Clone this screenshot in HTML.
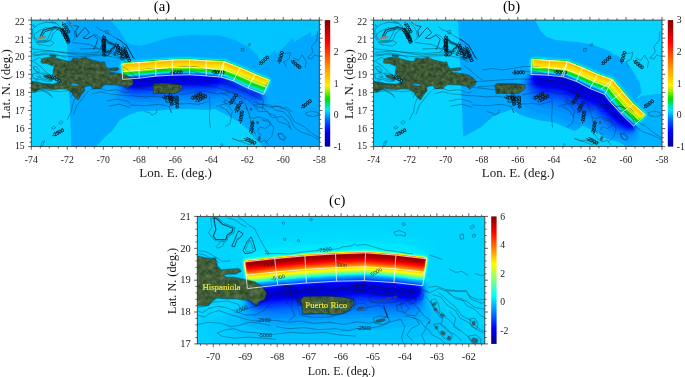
<!DOCTYPE html>
<html><head><meta charset="utf-8"><title>Figure</title><style>html,body{margin:0;padding:0;background:#fff}svg{display:block}</style></head><body>
<svg width="685" height="377" viewBox="0 0 685 377" style="display:block">
<defs>
<linearGradient id="jet" x1="0" y1="1" x2="0" y2="0">
<stop offset="0.0000" stop-color="#000080"/>
<stop offset="0.0156" stop-color="#00008f"/>
<stop offset="0.0312" stop-color="#00009f"/>
<stop offset="0.0469" stop-color="#0000af"/>
<stop offset="0.0625" stop-color="#0000bf"/>
<stop offset="0.0781" stop-color="#0000cf"/>
<stop offset="0.0938" stop-color="#0000df"/>
<stop offset="0.1094" stop-color="#0000ef"/>
<stop offset="0.1250" stop-color="#0000ff"/>
<stop offset="0.1406" stop-color="#0010ff"/>
<stop offset="0.1562" stop-color="#0020ff"/>
<stop offset="0.1719" stop-color="#0030ff"/>
<stop offset="0.1875" stop-color="#0040ff"/>
<stop offset="0.2031" stop-color="#0050ff"/>
<stop offset="0.2188" stop-color="#0060ff"/>
<stop offset="0.2344" stop-color="#0070ff"/>
<stop offset="0.2500" stop-color="#0080ff"/>
<stop offset="0.2656" stop-color="#008fff"/>
<stop offset="0.2812" stop-color="#009fff"/>
<stop offset="0.2969" stop-color="#00afff"/>
<stop offset="0.3125" stop-color="#00bfff"/>
<stop offset="0.3281" stop-color="#00cfff"/>
<stop offset="0.3438" stop-color="#00dfff"/>
<stop offset="0.3594" stop-color="#00efff"/>
<stop offset="0.3750" stop-color="#00ffff"/>
<stop offset="0.3906" stop-color="#10ffef"/>
<stop offset="0.4062" stop-color="#20ffdf"/>
<stop offset="0.4219" stop-color="#30ffcf"/>
<stop offset="0.4375" stop-color="#40ffbf"/>
<stop offset="0.4531" stop-color="#50ffaf"/>
<stop offset="0.4688" stop-color="#60ff9f"/>
<stop offset="0.4844" stop-color="#70ff8f"/>
<stop offset="0.5000" stop-color="#80ff80"/>
<stop offset="0.5156" stop-color="#8fff70"/>
<stop offset="0.5312" stop-color="#9fff60"/>
<stop offset="0.5469" stop-color="#afff50"/>
<stop offset="0.5625" stop-color="#bfff40"/>
<stop offset="0.5781" stop-color="#cfff30"/>
<stop offset="0.5938" stop-color="#dfff20"/>
<stop offset="0.6094" stop-color="#efff10"/>
<stop offset="0.6250" stop-color="#ffff00"/>
<stop offset="0.6406" stop-color="#ffef00"/>
<stop offset="0.6562" stop-color="#ffdf00"/>
<stop offset="0.6719" stop-color="#ffcf00"/>
<stop offset="0.6875" stop-color="#ffbf00"/>
<stop offset="0.7031" stop-color="#ffaf00"/>
<stop offset="0.7188" stop-color="#ff9f00"/>
<stop offset="0.7344" stop-color="#ff8f00"/>
<stop offset="0.7500" stop-color="#ff8000"/>
<stop offset="0.7656" stop-color="#ff7000"/>
<stop offset="0.7812" stop-color="#ff6000"/>
<stop offset="0.7969" stop-color="#ff5000"/>
<stop offset="0.8125" stop-color="#ff4000"/>
<stop offset="0.8281" stop-color="#ff3000"/>
<stop offset="0.8438" stop-color="#ff2000"/>
<stop offset="0.8594" stop-color="#ff1000"/>
<stop offset="0.8750" stop-color="#ff0000"/>
<stop offset="0.8906" stop-color="#ef0000"/>
<stop offset="0.9062" stop-color="#df0000"/>
<stop offset="0.9219" stop-color="#cf0000"/>
<stop offset="0.9375" stop-color="#bf0000"/>
<stop offset="0.9531" stop-color="#af0000"/>
<stop offset="0.9688" stop-color="#9f0000"/>
<stop offset="0.9844" stop-color="#8f0000"/>
<stop offset="1.0000" stop-color="#800000"/>
</linearGradient>
<linearGradient id="jetab" x1="0" y1="1" x2="0" y2="0">
<stop offset="0.0000" stop-color="#00008f"/>
<stop offset="0.0156" stop-color="#00009d"/>
<stop offset="0.0312" stop-color="#0000ab"/>
<stop offset="0.0469" stop-color="#0000b9"/>
<stop offset="0.0625" stop-color="#0000c7"/>
<stop offset="0.0781" stop-color="#0000d5"/>
<stop offset="0.0938" stop-color="#0000e3"/>
<stop offset="0.1094" stop-color="#0000f2"/>
<stop offset="0.1250" stop-color="#0003ff"/>
<stop offset="0.1406" stop-color="#0015ff"/>
<stop offset="0.1562" stop-color="#0027ff"/>
<stop offset="0.1719" stop-color="#0039ff"/>
<stop offset="0.1875" stop-color="#004aff"/>
<stop offset="0.2031" stop-color="#005cff"/>
<stop offset="0.2188" stop-color="#0072ff"/>
<stop offset="0.2344" stop-color="#008eff"/>
<stop offset="0.2500" stop-color="#00aaff"/>
<stop offset="0.2656" stop-color="#00c3ff"/>
<stop offset="0.2812" stop-color="#00dbff"/>
<stop offset="0.2969" stop-color="#00e9ee"/>
<stop offset="0.3125" stop-color="#00e4c0"/>
<stop offset="0.3281" stop-color="#00e192"/>
<stop offset="0.3438" stop-color="#00e065"/>
<stop offset="0.3594" stop-color="#00df37"/>
<stop offset="0.3750" stop-color="#00de0a"/>
<stop offset="0.3906" stop-color="#20e100"/>
<stop offset="0.4062" stop-color="#4ae500"/>
<stop offset="0.4219" stop-color="#74e900"/>
<stop offset="0.4375" stop-color="#9eec00"/>
<stop offset="0.4531" stop-color="#c2ee00"/>
<stop offset="0.4688" stop-color="#e0ef00"/>
<stop offset="0.4844" stop-color="#fef000"/>
<stop offset="0.5000" stop-color="#ffe300"/>
<stop offset="0.5156" stop-color="#ffda00"/>
<stop offset="0.5312" stop-color="#ffd000"/>
<stop offset="0.5469" stop-color="#ffc700"/>
<stop offset="0.5625" stop-color="#ffbd00"/>
<stop offset="0.5781" stop-color="#ffb400"/>
<stop offset="0.5938" stop-color="#ffab00"/>
<stop offset="0.6094" stop-color="#ffa100"/>
<stop offset="0.6250" stop-color="#ff9600"/>
<stop offset="0.6406" stop-color="#ff8a00"/>
<stop offset="0.6562" stop-color="#ff7e00"/>
<stop offset="0.6719" stop-color="#ff7300"/>
<stop offset="0.6875" stop-color="#ff6700"/>
<stop offset="0.7031" stop-color="#ff5c00"/>
<stop offset="0.7188" stop-color="#ff5000"/>
<stop offset="0.7344" stop-color="#ff4400"/>
<stop offset="0.7500" stop-color="#ff3900"/>
<stop offset="0.7656" stop-color="#ff2d00"/>
<stop offset="0.7812" stop-color="#ff2200"/>
<stop offset="0.7969" stop-color="#ff1600"/>
<stop offset="0.8125" stop-color="#ff0a00"/>
<stop offset="0.8281" stop-color="#fe0000"/>
<stop offset="0.8438" stop-color="#f20000"/>
<stop offset="0.8594" stop-color="#e70000"/>
<stop offset="0.8750" stop-color="#db0000"/>
<stop offset="0.8906" stop-color="#d00000"/>
<stop offset="0.9062" stop-color="#c50000"/>
<stop offset="0.9219" stop-color="#b90000"/>
<stop offset="0.9375" stop-color="#ae0000"/>
<stop offset="0.9531" stop-color="#a20000"/>
<stop offset="0.9688" stop-color="#970000"/>
<stop offset="0.9844" stop-color="#8b0000"/>
<stop offset="1.0000" stop-color="#800000"/>
</linearGradient>
<filter id="tex" x="0" y="0" width="100%" height="100%" color-interpolation-filters="sRGB"><feTurbulence type="fractalNoise" baseFrequency="0.28" numOctaves="3" seed="7" result="n"/><feColorMatrix in="n" type="matrix" values="0.30 0 0 0 0.09  0.30 0 0 0 0.20  0.22 0 0 0 0.10  0 0 0 0 1" result="c"/><feComposite in="c" in2="SourceAlpha" operator="in"/></filter>
<filter id="tex2" x="0" y="0" width="100%" height="100%" color-interpolation-filters="sRGB"><feTurbulence type="fractalNoise" baseFrequency="0.2" numOctaves="3" seed="11" result="n"/><feColorMatrix in="n" type="matrix" values="0.30 0 0 0 0.11  0.30 0 0 0 0.22  0.22 0 0 0 0.11  0 0 0 0 1" result="c"/><feComposite in="c" in2="SourceAlpha" operator="in"/></filter>
</defs>
<rect width="685" height="377" fill="#fff"/>
<clipPath id="ca"><rect x="31.3" y="20.1" width="288" height="126.5"/></clipPath>
<clipPath id="cb"><rect x="373.6" y="20.1" width="288.4" height="126.5"/></clipPath>
<clipPath id="cc"><rect x="197.3" y="216.4" width="287.5" height="127.5"/></clipPath>
<g clip-path="url(#ca)">
<rect x="31" y="20" width="289" height="127" fill="#06d3ff"/>
<polygon points="66,20 69.3,90 71.4,147 320,147 320,20" fill="#00a9ff"/>
<polygon points="110,20 120,31 127,42.8 133,45 140,45.7 150,43.5 164,39 178,36 193,34.8 207,35.2 220,35.6 235,40 250,48 258,56 261,66 275,50 276,54.5 293,37.7 294,42 311,32 311,37 320,32.6 320,20" fill="#02c4ff"/>
<polygon points="96,147 104,138 112.8,130 120,119.7 130,114.5 141,110.4 151,108.3 161,107.3 180,106.9 200,107 213,108 220,111.4 230,116.6 241,123.8 251,132 258,140.4 263,147" fill="#06d3ff"/>
<path d="M167.3 56l6 -0.4l16 -0.3l17 1.2l19 0.9l16 6.2l14.6 6.5l13.4 5.4l1 0.7l1.5 1.9l0.8 3l-0.6 2l-3.7 7.9l-0.6 2.1l-1.4 0.9l-3 -0.7l-12 -4.8l-18.5 -8.4l-12.5 -5.1l-32 -2.3l-16 0.2l-48 3.8l-3 -0.3l-0.8 -0.3l-0.6 -1l-1.1 -7l-0.2 -4l1 -2l1.7 -1.8l1 -0.6l2 -0.4l11 -0.9z" fill="#00afff"/>
<path d="M182.3 56.1l8 -0.1l15.2 1.1l17.8 0.6l3 0.7l16 6.3l14.4 6.4l12.6 5.1l1.1 0.9l1.5 2l0.3 1l-0.2 2l-4.9 11l-0.8 0.6l-1 0l-4 -1.2l-12 -4.8l-16.4 -7.6l-12.6 -5.2l-32 -2.3l-16 0.3l-48 3.8l-2 -0.1l-1 -0.4l-0.9 -1.1l-0.9 -4l-0.5 -7l1.1 -2l2.2 -1.8l4 -0.6l40 -3.1l6 -0.4z" fill="#00b1ff"/>
<path d="M168.3 57.1l5 -0.5l16 -0.3l9.2 0.8l26.8 1.3l15 5.9l15.2 6.8l13.8 5.5l1.6 1.5l1.1 2l0 1l-2 5l-3.4 7l-1.3 0.5l-4 -1.2l-12 -4.8l-16.3 -7.5l-12.7 -5.2l-32 -2.3l-16 0.3l-48 3.7l-2 -0.1l-0.9 -0.4l-0.7 -1l-0.9 -4l-0.5 -7l0.3 -1l0.7 -0.8l2 -1.5l2 -0.5l4.4 -0.2l6.6 -0.8z" fill="#00b4ff"/>
<path d="M172.3 57l17 -0.5l5.3 0.6l8.7 0.4l6.8 0.6l14.2 0.3l16 6.1l16.9 7.6l11.1 4.3l2.3 1.7l1.2 2l0.1 1l-2.1 5l-2.9 6l-0.6 0.9l-1 0.4l-4 -1l-12 -4.8l-16.2 -7.5l-12.8 -5.3l-32 -2.2l-16 0.2l-48 3.8l-2.7 -0.5l-0.7 -1l-1.1 -5l-0.4 -6l0.4 -1l1.5 -1.6l2 -0.8l8.8 -0.6l4.2 -0.6l8.8 -0.4l4.2 -0.6l9.5 -0.4l4.5 -0.6z" fill="#00baff"/>
<path d="M165.3 58l7 -0.6l18 -0.2l11.7 0.9l23.3 1.2l16 6.3l14.6 6.5l13.4 5.4l1.5 1.6l0.4 1l-0.2 2l-4.2 9l-1.5 1.8l-1 0.1l-2 -0.5l-13 -5.1l-16 -7.4l-10 -4.3l-3 -1l-32 -2.3l-16 0.3l-47 3.7l-2.8 -0.3l-1 -1l-0.9 -3l-0.8 -7l0.1 -1l0.5 -1l1.9 -1.6l11 -1.2z" fill="#00c3ff"/>
<path d="M170.3 58l3 -0.3l16 -0.3l7.3 0.7l17.4 1l10.3 0.3l16 6.1l17.1 7.6l10.9 4.2l2.1 1.8l0.6 1l0 1l-2.1 5l-2 4l-1.3 2l-1.3 0.6l-2 -0.4l-13 -5.1l-16 -7.4l-11 -4.7l-2 -0.6l-31 -2.2l-15 0.2l-50 3.7l-1 -0.1l-1 -0.6l-0.8 -1.4l-0.9 -4l-0.3 -6l1 -1.6l2 -1l7 -0.4l5 -0.6l7.8 -0.4l5.2 -0.6l8.6 -0.4l5.4 -0.7z" fill="#00cdff"/>
<path d="M172.3 58.1l17 -0.5l19.9 1.5l15.1 0.5l16 6.1l14.2 6.4l13.8 5.5l1.9 1.5l0.6 1l0 1l-2.1 5l-2.8 5l-1 1l-1.6 0.2l-13.7 -5.2l-16.3 -7.5l-11 -4.7l-2 -0.6l-32 -2.2l-16 0.3l-47 3.7l-2 -0.2l-1 -0.8l-0.5 -1l-0.9 -4l-0.4 -6l0.8 -1.3l2 -1l14 -1.3z" fill="#00d6ff"/>
<path d="M180.3 58.1l9 -0.3l16.7 1.3l18.3 0.7l15 5.7l17.1 7.6l11.9 4.7l1.7 1.3l0.5 1l0.1 1l-2.7 6l-2.3 4l-1.3 1l-1 0l-3 -0.9l-10.2 -4.1l-16.8 -7.7l-11 -4.7l-2 -0.5l-31 -2.2l-15 0.2l-50 3.7l-1.6 -0.8l-1.2 -3l-0.8 -6l-0.1 -2l0.7 -1l1 -0.7l2 -0.5l42 -3.3z" fill="#00e0ff"/>
<path d="M188.3 58.1l15.7 1l19.3 0.8l2 0.4l14 5.4l16.7 7.4l11.3 4.4l2.5 1.6l0.5 1l0.1 1l-2.7 6l-1.7 3l-0.7 0.9l-1 0.7l-1 0.1l-2.6 -0.7l-10.1 -4l-16.3 -7.5l-12 -5.1l-2 -0.5l-30 -2.1l-4 -0.1l-15 0.4l-46 3.5l-1 0l-1.3 -0.6l-0.6 -1l-0.9 -3l-0.7 -7l1.5 -1.6l1 -0.3l49 -3.9z" fill="#00e9ff"/>
<path d="M165.3 59l7 -0.6l17 -0.2l12.7 0.9l22.3 1.1l14 5.3l17.4 7.6l11.6 4.6l2.3 1.4l0.6 1l0 1l-2.2 5l-2.3 4l-1.4 1.3l-1 0.2l-2 -0.5l-10.1 -4l-16.9 -7.7l-11 -4.7l-3 -0.9l-31 -2.2l-15 0.3l-49 3.6l-2 -0.4l-0.7 -1l-0.7 -2l-1 -7l0.1 -1l0.7 -1l1.6 -0.8z" fill="#00e9ef"/>
<path d="M167.3 59l5 -0.5l17 -0.2l10.7 0.8l24.3 1.1l16 6.2l15 6.7l12 4.7l2.1 1.3l0.6 1l0.1 1l-2.3 5l-1.5 2.7l-1.9 2.3l-1.1 0.2l-4 -1.2l-10 -4l-16 -7.4l-10 -4.2l-3 -0.9l-31 -2.1l-15 0.2l-49 3.7l-1 -0.1l-1 -0.6l-1.5 -3.6l-0.8 -6l0.1 -1l0.8 -1l1.4 -0.7z" fill="#00e7dc"/>
<path d="M168.3 59.1l4 -0.5l17 -0.3l9 0.8l26 1.2l16 6.2l14.8 6.6l11.2 4.4l2.9 1.6l0.7 1l0.1 1l-3.7 7.4l-2 2.3l-1 0.3l-3.3 -1l-10.1 -4l-14.6 -6.7l-14 -5.9l-32 -2.2l-15 0.2l-49 3.7l-1 -0.1l-1 -0.7l-1.4 -3.3l-0.7 -6l0.1 -1l0.8 -1l1.2 -0.6l12 -1.1z" fill="#00e5c8"/>
<path d="M169.3 59.1l4 -0.4l16 -0.3l9 0.8l26 1.2l16 6.2l14.6 6.5l11.4 4.5l2.8 1.5l0.7 1l0 1l-3.5 7l-2 2.4l-1 0.3l-2.6 -0.7l-10.1 -4l-16.3 -7.5l-13 -5.3l-32 -2.2l-15 0.3l-49 3.6l-1 -0.2l-1 -0.7l-1.2 -3l-0.8 -6l0.1 -1l0.9 -1l1 -0.5l12 -1.1z" fill="#00e3b5"/>
<path d="M170.3 59.1l19 -0.6l23.6 1.6l11.4 0.4l16 6.2l14.3 6.4l11.7 4.6l2.6 1.4l0.8 1l0 1l-3.4 6.7l-2 2.4l-1 0.3l-2 -0.5l-9.9 -3.9l-17.1 -7.8l-13 -5.2l-33 -2.2l-17 0.4l-46 3.5l-1 -0.2l-1 -0.9l-1.1 -2.6l-0.8 -6l0.1 -1l0.8 -0.9l1 -0.5l12 -1.1z" fill="#00e29d"/>
<path d="M171.3 59.1l18 -0.5l21.9 1.5l13.1 0.5l16 6.2l14.1 6.3l11.9 4.7l2.5 1.3l0.8 1l0 1l-3.3 6.4l-2 2.3l-1 0.3l-2 -0.5l-11.4 -4.5l-14.6 -6.7l-14 -5.6l-33 -2.1l-16 0.3l-47 3.5l-1 -0.2l-1 -1l-0.9 -2.2l-0.9 -6l0.1 -1l0.7 -0.7l1 -0.6l13 -1.2z" fill="#00e17e"/>
<path d="M172.3 59.1l17 -0.4l20.2 1.4l14.8 0.6l16 6.2l14 6.2l12 4.8l2.3 1.2l0.8 1l0 1l-3.1 6.2l-2 2.1l-1 0.3l-2.4 -0.6l-10 -4l-16.6 -7.5l-13 -5.1l-16 -0.8l-16 -1.2l-15 0.2l-49 3.6l-1 -0.3l-0.8 -0.9l-1 -2l-0.9 -6l0.2 -1l1.5 -1.2l13 -1.2z" fill="#00e060"/>
<path d="M175.3 59.1l14 -0.3l18.5 1.3l16.5 0.7l15 5.8l15 6.6l13 5.3l1.2 0.6l0.8 1l0 1l-3 5.9l-2 2.1l-1 0.2l-1.2 -0.2l-10.2 -4l-16.6 -7.4l-14 -5.5l-16 -0.8l-16 -1.2l-15 0.3l-49 3.6l-1 -0.4l-1 -1.1l-0.9 -2.5l-0.6 -5l0.1 -1l1.3 -1l1.1 -0.3l39 -3z" fill="#00e042"/>
<path d="M178.3 59.1l11 -0.2l17 1.2l18 0.8l15 5.8l15 6.6l13 5.2l1 0.6l0.9 1l0 1l-2.9 5.6l-2 2l-1 0.2l-12.6 -4.8l-15.4 -6.9l-12 -4.8l-2 -0.5l-16 -0.8l-16 -1.1l-16 0.2l-48 3.6l-1 -0.4l-1 -1.2l-0.7 -2.1l-0.7 -5l0.1 -1l1.3 -0.9l1 -0.3l40 -3.1z" fill="#00df23"/>
<path d="M182.3 59.1l7 -0.2l17 1.3l18 0.7l15 5.9l15 6.6l13 5.2l1 0.6l0.8 0.9l0 1l-2.8 5.3l-1 1.2l-1 0.7l-1 0.1l-12 -4.5l-16 -7.1l-12 -4.7l-2 -0.6l-16 -0.7l-16 -1.1l-15 0.2l-49 3.6l-1 -0.4l-1.4 -2l-0.9 -6l0.3 -1.2l1 -0.7l2 -0.3l47 -3.6z" fill="#00de05"/>
<path d="M186.3 59.1l4 0l16 1.2l18 0.7l15 5.9l15 6.6l13 5.2l1.7 1.4l0 1l-2.7 5l-1 1.2l-1 0.6l-1 0.1l-12 -4.7l-16 -7l-13 -5l-17 -0.8l-16 -1.1l-17 0.3l-47 3.5l-1 -0.4l-1.2 -1.7l-1 -6l0.1 -1l1.1 -0.8l2 -0.4l47 -3.5z" fill="#16e000"/>
<path d="M164.3 60l8 -0.6l17 -0.3l17 1.2l18 0.8l15 5.8l15 6.6l13 5.3l1.6 1.3l0 1l-1.6 3.1l-2 2.8l-1 0.5l-1 0l-12 -4.7l-15.4 -6.7l-12.6 -4.9l-2 -0.4l-16 -0.6l-17 -1.1l-16 0.3l-46 3.5l-2 -0.4l-1.1 -1.4l-1 -6l0.1 -1l1 -0.7l3 -0.5z" fill="#31e300"/>
<path d="M165.3 60l7 -0.5l17 -0.3l17 1.2l18 0.8l15 5.8l16.1 7.1l11.9 4.8l1.5 1.2l-0.1 1l-1.4 2.8l-2 2.7l-1 0.5l-1 0l-12 -4.7l-15 -6.6l-13 -4.9l-2 -0.4l-16 -0.6l-16 -1.1l-16 0.2l-47 3.6l-2 -0.4l-0.9 -1.1l-0.3 -1l-0.8 -5.1l0.2 -0.9l1.8 -0.9z" fill="#4ce500"/>
<path d="M166.3 60l6 -0.4l17 -0.3l17 1.2l18 0.8l15 5.8l16 7l12 4.9l1.4 1.1l-0.1 1l-2.3 4.1l-1 1.1l-1 0.4l-1 -0.1l-11.5 -4.5l-15.5 -6.7l-13 -4.9l-2 -0.4l-16 -0.5l-16 -1.1l-16 0.2l-47 3.6l-2 -0.4l-0.7 -0.8l-0.4 -1l-0.8 -5l0.2 -1l1.7 -0.8z" fill="#67e800"/>
<path d="M167.3 60l5 -0.3l17 -0.4l17 1.3l18 0.8l14.8 5.7l16.2 7.1l12 4.9l1.3 1l-0.1 1l-2.2 3.8l-1 1l-1 0.4l-1 -0.1l-10.4 -4.1l-16.6 -7.1l-14 -5.1l-17 -0.6l-16 -1.1l-16 0.3l-47 3.6l-2 -0.4l-1 -1.8l-0.8 -4.8l0.2 -1l1.6 -0.7z" fill="#82ea00"/>
<path d="M168.3 60.1l4 -0.4l17 -0.3l17 1.2l18 0.9l14.6 5.6l16.4 7.2l11.9 4.8l1.3 1l-0.1 1l-2.1 3.4l-1 1l-1 0.4l-1 -0.2l-11.6 -4.6l-14.4 -6.2l-15 -5.3l-17 -0.6l-16 -1l-16 0.2l-48 3.6l-1 -0.4l-0.7 -1.3l-0.9 -5l0.2 -1l0.4 -0.3l2 -0.4z" fill="#9cec00"/>
<path d="M169.3 60l20 -0.5l17 1.2l18 0.8l16 6.3l15 6.6l11.7 4.7l1.4 1l-0.2 1l-1.9 3.1l-1 0.9l-1 0.3l-1 -0.2l-26 -10.8l-15 -5.2l-17 -0.4l-16 -1.1l-16 0.2l-48 3.6l-1 -0.3l-0.5 -1.1l-1 -5l0.2 -1l0.3 -0.2l2 -0.5z" fill="#b3ed00"/>
<path d="M170.3 60l19 -0.4l17 1.2l18 0.8l16 6.3l15 6.6l11.5 4.6l1.4 1l-0.1 1l-1.8 2.7l-1 0.8l-1 0.2l-1 -0.2l-26 -10.7l-15 -5.1l-17 -0.3l-16 -1l-16 0.2l-48 3.6l-1 -0.5l-0.3 -0.7l-1.1 -5l0.4 -1.1l2 -0.5z" fill="#cbee00"/>
<path d="M171.3 60l18 -0.3l17 1.2l18 0.8l16 6.2l15 6.7l11.3 4.5l1.4 1l-0.1 1l-1.6 2.3l-1 0.8l-1 0l-11 -4.2l-15 -6.3l-14 -4.8l-2 -0.5l-17 -0.2l-16 -1l-16 0.2l-47 3.6l-1 0l-1 -0.7l-1.3 -5.2l0.3 -1l2 -0.5z" fill="#e3ef00"/>
<path d="M172.3 60l17 -0.3l10 0.8l25 1.3l16 6.2l14 6.3l12.2 4.8l1.3 1l-0.1 1l-1.4 1.9l-1 0.6l-1 0l-11 -4.3l-15 -6.3l-15 -5l-18 -0.2l-16 -1l-17 0.4l-46 3.4l-1 0l-1 -1l-1.1 -4.5l0.2 -1l1.9 -0.4z" fill="#fbf000"/>
<path d="M173.3 60.1l16 -0.3l9 0.8l26 1.3l16 6.2l14 6.4l11.9 4.6l1.5 1l-0.2 1l-1.2 1.4l-1 0.6l-1 -0.2l-11 -4.3l-15 -6.4l-15 -5.1l-18 0.2l-16 -0.9l-16 0.2l-47 3.7l-1.1 -0.2l-0.9 -1.8l-1 -3.2l0.4 -1l1.6 -0.3z" fill="#ffe700"/>
<path d="M177.3 60.1l12 -0.2l7 0.7l15 0.9l13 0.4l15.7 6.2l14.3 6.5l11.6 4.5l1.6 1l-0.2 0.9l-1 1l-1 0.4l-1.3 -0.3l-10.1 -4l-15.6 -6.7l-15 -5.3l-19 0.3l-15 -0.7l-16 0.3l-47 3.5l-1 -0.3l-1.8 -4.1l0.4 -1l1.4 -0.3l24 -1.9l8 -0.3l6 -0.7z" fill="#ffdd00"/>
<path d="M181.3 60.1l9 -0.1l5 0.6l9 0.4l5 0.5l15 0.5l1 0.6l4.3 1.5l0.7 0.5l1.8 0.5l3.2 1.5l2 0.5l1 0.7l6.1 2.3l0.9 0.7l1.2 0.3l2.8 1.5l4.1 1.5l0.9 0.7l11.3 4.3l1.7 1l-1 1.4l-1 0.1l-1 -0.2l-10 -4l-15 -6.5l-16 -5.8l-18 -0.2l-16 -0.8l-16 0.3l-47 3.5l-1 -0.4l-1 -1.1l-0.6 -1.3l0.6 -1.1l7 -0.3l3.4 -0.6l9.6 -0.5l6 -0.7l7 -0.2l6 -0.7z" fill="#ffd200"/>
<path d="M185.3 60.1l5 0l4 0.6l10 0.4l4 0.6l16 0.4l1 0.7l4 1.3l1 0.7l1.4 0.3l0.6 0.4l2.1 0.6l0.9 0.7l4.1 1.3l0.9 0.7l1.3 0.3l3.7 1.8l1 0.2l1 0.8l1.1 0.2l0.9 0.7l3.6 1.3l1.4 0.8l1 0.2l1 0.7l1.4 0.3l1.6 0.8l1 0.2l1 0.7l4 1.3l1.5 1l-0.5 0.7l-1 0.1l-1 -0.3l-10 -4l-15 -6.5l-16 -5.8l-20 -0.6l-15 -0.9l-16 0.3l-46 3.6l-1 -0.2l-1 -0.7l-0.3 -0.7l0.5 -1l7.8 -0.4l3.3 -0.6l9.7 -0.4l5 -0.7l8 -0.2l5 -0.8z" fill="#ffc800"/>
<path d="M164.3 61.1l17 -0.4l8 -0.5l4 0.6l9.8 0.3l3.2 0.7l17 0.4l7.8 2.9l1.2 0.8l1.3 0.2l0.7 0.5l1.8 0.5l1.2 0.7l1.3 0.3l-0.3 0.8l-11 -4.1l-4 -1.1l-20 -0.7l-14 -0.9l-17 0.3l-46 3.5l-1 -0.1l-1.1 -0.7l1.1 -1l8 -0.3l3.6 -0.7l9.4 -0.3l4 -0.7l10 -0.3zM239.3 68.7l1.6 0.4l0.4 0.5l2 0.5l1 0.8l1.2 0.2l-0.2 0.6l-2 -0.5l-3 -1.6l-1.9 -0.5zM246.3 71.8l1 0.2l0.3 0.1l-0.3 0.5l-1.8 -0.5zM248.3 72.8l1 0.2l0.5 0.1l-0.5 0.4l-1.5 -0.4zM250.3 73.8l1 0.2l0.9 0.1l-0.9 0.4l-1.2 -0.4zM253.3 74.9l1.1 0.2l-0.1 0.4l-2 -0.4zM255.3 75.8l1 0.2l0.5 0.1l-0.5 0.3l-1.6 -0.3zM257.3 76.9l1 0l1.1 0.2l-0.1 0.3l-1 0l-1.1 -0.3zM260.3 77.8l1 0.2l0.5 0.1l-0.5 0.3l-1.6 -0.3zM262.3 78.9l1 0l1.1 0.2l-0.1 0.3l-1 0l-1.1 -0.3zM265.3 79.9l0.8 0.2l-1.3 0z" fill="#ffbd00"/>
<path d="M171.3 61.1l18 -0.4l6.5 0.4l-6.5 0.4l-17 -0.1l-1.9 -0.3zM158.3 62.1l6 -0.4l3.8 0.4l-5.8 0.4l-4.6 -0.4zM199.3 61.9l3 -0.2l7.2 0.4l-6.2 0.3l-4.7 -0.3zM144.3 63.1l7 -0.4l4 0.4l-6 0.4l-5.4 -0.4zM224.3 63.1l0.2 0l-0.8 0zM131.3 64.1l6 -0.4l4 0.4l-5 0.4l-5.3 -0.4zM125.3 64.8l2 0l1.6 0.3l-3.6 0.2l-0.3 -0.2z" fill="#ffb300"/>
<path d="M171.3 73.1l19 -0.3l29 2.1l2 0.4l11.3 4.8l15.7 7.3l18.9 7.7l1.4 2l1 4l0 4l-1.1 5l-1.6 3l-2.6 2.2l-3 1.4l-4 0.4l-5 -0.4l-6 -1l-5 -1.3l-10.5 -3.3l-6.5 -1.5l-8 -1.5l-4 1.3l-3 0.3l-6 0.1l-15 -0.7l-12 0.2l-27 1.8l-15 0.3l-8 -0.6l-7 -1.4l-4 -1.5l-2 -1.5l-1 -1.3l-1.4 -3l-0.6 -2l-0.1 -3l0.7 -4l1.7 -5l2 -4l3.1 -5l2.3 -2z" fill="#00a7ff"/>
<path d="M172.3 73l18 -0.2l29 2.2l2 0.4l11.2 4.7l15.8 7.4l16.5 6.6l1.6 1l1.4 2l0.5 3l-0.1 3l-0.8 3l-1.4 3l-2.7 2.8l-4 1.6l-5 0.5l-4 -0.4l-5 -1.2l-12.6 -4.3l-3.8 -1l-3.6 -0.6l-3 -0.1l-5 -0.7l-1 0.1l-3 1.1l-6 0.4l-19 -0.6l-12 0.2l-29 1.9l-10 0.2l-8 -0.4l-6 -1l-3.9 -1.5l-2.5 -2l-3 -4l-0.6 -2l-0.3 -3l0.8 -6l1 -3l1.9 -4l1.9 -3l1.7 -1.6l1 -0.4l12 -1.1z" fill="#00a4ff"/>
<path d="M172.3 73.1l18 -0.2l30 2.2l12 5l16 7.4l16.1 6.6l1.5 1l1.2 2l0.4 3l-0.5 3l-2 4l-2.7 2.6l-2 1l-2 0.5l-5 0.4l-4 -0.4l-4 -0.9l-12.5 -4.2l-5.5 -1.5l-9 -1.3l-2 0.5l-3 1.4l-3 0.3l-7 0.1l-15 -0.6l-11 0.2l-32 2l-8 0.1l-6 -0.3l-5 -0.9l-4 -1.6l-4.5 -3.4l-0.9 -1l-1.1 -2l-0.9 -3l-0.1 -2l0.1 -3l0.6 -3l1.5 -4l1.5 -3l1.6 -2l1.2 -0.7l12 -1.4z" fill="#00a0ff"/>
<path d="M173.3 73.1l17 -0.2l30 2.3l11.9 4.9l16.1 7.5l15.8 6.5l1.4 1l1.2 2l0.3 2l-0.5 3l-1.5 3l-2.7 2.8l-2 1.2l-2 0.7l-4 0.3l-4 -0.3l-4 -0.8l-17 -5.3l-11 -2l-1 0.1l-4 2.2l-5 0.4l-9 0l-11 -0.5l-12 0.2l-29 1.9l-8 0.2l-6 -0.3l-5 -0.9l-4 -1.5l-5 -3.2l-1.2 -1.2l-1.1 -2l-1.1 -4l-0.1 -3l0.5 -3l1.2 -4l1.4 -3l1.4 -1.7l1 -0.8l1.5 -0.5l10.5 -1z" fill="#0098ff"/>
<path d="M180.3 73.1l11.2 0l26.8 2l3 0.6l12.6 5.4l14.4 6.7l10.7 4.3l4.1 2l1.2 1l0.7 1l0.4 2l-0.4 2l-1.7 2.6l-3 2.2l-3 1l-3 0.3l-4 -0.4l-4 -0.9l-10.7 -3.8l-6.3 -1.8l-10 -1.6l-2 0.3l-4 1.5l-8 0.7l-9 0l-9 -0.3l-12 0.2l-25 1.8l-12 0.1l-8 -1.1l-5 -1.6l-2 -1.2l-2 -1.9l-1.5 -2.1l-0.9 -2l-0.7 -4l0.3 -3l0.4 -2l0.7 -2l1.1 -2l1 -1l1.6 -0.7l11.6 -1.3l38.4 -2.8z" fill="#008cff"/>
<path d="M164.3 74.1l9 -0.6l16 -0.3l31 2.5l13 5.4l16 7.4l11.2 4.6l1.8 1l1.1 1l0.7 1l0.2 2l-1 2.1l-2 1.8l-3 1.2l-3 0.4l-3 -0.1l-4 -0.9l-12 -4.3l-6 -1.7l-11 -1.7l-1 0.1l-4 1.8l-7 0.5l-9 0.1l-11 -0.4l-12 0.2l-25 1.8l-13 0.3l-6 -0.7l-3 -0.9l-2 -0.9l-3.5 -2.7l-1.5 -2l-1 -2l-0.7 -3l0.3 -4l1 -3l1.4 -1.7l1 -0.6l4 -0.8z" fill="#007fff"/>
<path d="M167.3 74.1l7 -0.5l15 -0.2l31 2.5l12.3 5.2l15.7 7.3l11.5 4.7l1.7 1l1.1 1l0.6 1l0.2 1l-0.2 1l-0.6 1l-1 1l-2.3 1.1l-3 0.5l-3 -0.1l-5 -1.1l-9 -3.4l-7 -2.2l-12 -2.2l-1 0l-3 1.3l-2 0.5l-8 0.8l-9 0.1l-10 -0.4l-12 0.2l-29 2.1l-10 0l-5 -0.8l-5 -2l-3 -2.5l-1.3 -1.9l-0.9 -2l-0.5 -3l0.5 -4l1.1 -2l2.1 -1.3l3.6 -0.7z" fill="#0072ff"/>
<path d="M170.3 74l19 -0.4l31 2.5l11.6 5l16.4 7.7l10.6 4.3l1.8 1l1.1 1l0.6 1l0 1l-1.1 1.8l-2 1l-2 0.4l-3 -0.1l-6 -1.5l-9.2 -3.6l-6.4 -2l-12.4 -2.2l-1 0l-4 1.7l-9 0.8l-9 0.1l-10 -0.3l-12 0.2l-29 2l-10 0.1l-6 -1l-4 -1.9l-3 -2.8l-1 -1.7l-0.7 -2l-0.2 -3l0.7 -3l1.2 -1.4l2 -0.9l13 -1.4z" fill="#0065ff"/>
<path d="M173.3 74.1l17 -0.3l30 2.6l13 5.7l14 6.6l10.7 4.4l1.8 1l1.2 1l0.5 1l-0.1 1l-1.1 1.2l-2 0.7l-2 0.2l-3 -0.4l-4 -1.2l-8.9 -3.5l-6.1 -2.1l-3.6 -0.9l-10.4 -1.8l-5 1.7l-9 0.8l-9 0.1l-10 -0.3l-13 0.2l-29 2.1l-10 0l-5 -0.9l-4 -2l-2 -1.7l-0.9 -1.2l-1.2 -3l-0.1 -3l0.6 -2l0.7 -1l0.9 -0.6l2 -0.7l12 -1.2z" fill="#0058ff"/>
<path d="M182.3 74.1l8.7 0l29.3 2.6l12.2 5.4l13.8 6.7l10.6 4.3l2 1l1.2 1l0.4 1l-0.5 1l-1.7 0.9l-2 0.1l-2 -0.2l-4 -1.2l-10 -3.9l-7 -2.4l-13 -2.4l-5 1.5l-9 0.9l-9 0.1l-10 -0.3l-13 0.2l-30 2.2l-9 0.1l-5 -1l-4 -2l-2.5 -2.6l-1.1 -3l-0.1 -2l0.7 -2.2l0.7 -0.8l1.3 -0.8l2 -0.4l45 -3.6z" fill="#004bff"/>
<path d="M165.3 75.1l8 -0.6l16 -0.3l31 2.8l11.3 5.1l12.7 6.3l13.3 5.7l1.2 1l0.2 1l-1.7 0.9l-2 -0.1l-2 -0.4l-13 -5l-6 -2l-13 -2.7l-2 0.2l-3 1.1l-10 1l-9 0.2l-10 -0.4l-13 0.3l-31 2.2l-8 0.1l-4 -0.7l-4 -1.6l-2.5 -2.1l-0.7 -1l-0.7 -2l-0.2 -2l0.5 -2l0.9 -1l2.6 -1z" fill="#003eff"/>
<path d="M168.3 75.1l21 -0.6l30.1 2.6l2.7 1l10.5 5l12.7 6.7l10.3 4.3l1 1l-1.3 0.4l-2 -0.3l-12 -4.7l-6 -1.9l-14 -2.9l-2 0.2l-3 1.1l-10 1l-9 0.1l-10 -0.4l-13 0.3l-32 2.3l-8 0l-4 -0.8l-3 -1.3l-2.3 -2.1l-0.7 -1.2l-0.5 -1.8l0 -2l0.4 -1l1.1 -1.1l2 -0.6z" fill="#0031ff"/>
<path d="M172.3 75l18 -0.2l29 2.7l2 0.6l9.9 5l4.7 3l-0.6 0.8l-14 -2.3l-1 0.1l-4 1.2l-10 1l-9 0.1l-9 -0.3l-14 0.2l-38 2.5l-5 -0.5l-3 -1.1l-2.3 -1.7l-0.8 -1l-0.8 -2l-0.1 -2l0.5 -1l1.1 -1l2.4 -0.6z" fill="#0025ff"/>
<path d="M181.3 75.1l9.9 0l28.1 2.7l1 0.3l7.2 4l1.5 1l0.7 1l-2.4 0.2l-6 -0.7l-5 1.3l-10 1l-9 0.1l-9 -0.3l-14 0.2l-32 2.4l-7 0.2l-4 -0.5l-3 -1l-2.3 -1.9l-0.7 -1.2l-0.5 -1.8l0.1 -1l0.4 -1l1.6 -1l2.4 -0.5l43 -3.3z" fill="#0018ff"/>
<path d="M165.3 76.1l8 -0.5l15 -0.3l11 0.8l19.2 2l2.5 1l2.5 2l-0.2 0.8l-0.3 0.2l-1.7 0.2l-4 1.5l-10 1.1l-9 0.2l-11 -0.3l-13 0.2l-38 2.7l-5 -0.5l-3 -1.1l-2 -1.8l-0.9 -2.2l0.1 -1l0.5 -1l2.3 -1z" fill="#000bff"/>
<path d="M170.3 76l18 -0.4l7.9 0.5l18.6 2l4.5 0.9l1.1 1.1l-0.2 1l-1.9 1.3l-3.3 0.7l-7.7 0.9l-8 0.2l-11 -0.3l-14 0.2l-38 2.7l-4 -0.2l-3 -0.9l-2.2 -1.6l-1 -2l0 -1l0.7 -1l3.5 -1z" fill="#0000fd"/>
<path d="M178.3 76.1l12 -0.1l11.6 1.1l8.5 1l5.6 1l2.1 1l-0.6 1l-2.2 0.6l-9 1.4l-9 0.2l-10 -0.3l-14 0.3l-37 2.6l-4 -0.1l-2.5 -0.7l-1.6 -1l-0.9 -1l-0.4 -1l0.1 -1l1 -1l3.3 -0.6l41 -3.2z" fill="#0000f2"/>
<path d="M167.3 77.1l7 -0.4l16 -0.2l15 1.6l5.5 1l1.7 1l-1.7 1l-6.2 1l-6.3 0.2l-10 -0.2l-15 0.2l-37 2.7l-3 0l-3 -0.7l-1.8 -1.2l-0.5 -1l0.3 -1.2l2 -0.9z" fill="#0000e7"/>
<path d="M180.3 77.1l10.7 0l8.4 1l4.7 1l0.9 1l-6.7 1l-11 -0.1l-15 0.3l-36 2.6l-3 0l-2 -0.5l-0.8 -0.3l-1 -1l0.4 -1l0.4 -0.1l5.1 -0.9l37.9 -2.8z" fill="#0000dc"/>
<polygon points="41.2,61.7 42.1,59.3 46.6,57.7 52.9,57.3 58.3,59 63.7,60.6 69.1,61.7 71.8,61.3 73.2,58.4 79,59 85.3,57.5 90.7,59.9 96.1,61.3 101.5,62.6 104.2,62 105.5,66.7 107.8,68.9 113.2,68.4 117.3,68 118.6,69.1 115.9,70.5 110.5,70.7 108.3,71.6 110.5,72.9 114.5,73 121.3,74.3 126.7,75.6 131.2,78.8 133.4,81.5 132.1,85.2 129,86.6 127.6,88.8 124,85.7 115.9,84.6 110.5,84.6 105.1,84.1 102.4,86.1 100.2,88.4 95.2,88.4 92.9,88.2 90.7,85.2 86.2,86.1 83.9,87.3 84.4,90.6 80.8,95.1 78.1,99.6 75.4,97.4 73.6,95.1 71.8,91.8 66.4,88.8 61,88.4 53.8,89.3 47.5,88.8 42.1,87.9 37.6,89.7 34.9,91.8 29.5,90.2 25,87.3 22.7,84.3 23.6,81.2 28.6,80.3 34.9,82.4 40.3,83.3 47.5,84.3 52.9,84.6 57.4,83 61,82.4 60.1,79.7 56.5,77 53.3,73.4 53.8,68.9 54.7,66.2 50.2,64.4 46.6,63.1 42.1,62.9" fill="none" stroke="#04202e" stroke-opacity="0.3" stroke-width="1.6" stroke-linejoin="round"/>
<polygon points="41.2,61.7 42.1,59.3 46.6,57.7 52.9,57.3 58.3,59 63.7,60.6 69.1,61.7 71.8,61.3 73.2,58.4 79,59 85.3,57.5 90.7,59.9 96.1,61.3 101.5,62.6 104.2,62 105.5,66.7 107.8,68.9 113.2,68.4 117.3,68 118.6,69.1 115.9,70.5 110.5,70.7 108.3,71.6 110.5,72.9 114.5,73 121.3,74.3 126.7,75.6 131.2,78.8 133.4,81.5 132.1,85.2 129,86.6 127.6,88.8 124,85.7 115.9,84.6 110.5,84.6 105.1,84.1 102.4,86.1 100.2,88.4 95.2,88.4 92.9,88.2 90.7,85.2 86.2,86.1 83.9,87.3 84.4,90.6 80.8,95.1 78.1,99.6 75.4,97.4 73.6,95.1 71.8,91.8 66.4,88.8 61,88.4 53.8,89.3 47.5,88.8 42.1,87.9 37.6,89.7 34.9,91.8 29.5,90.2 25,87.3 22.7,84.3 23.6,81.2 28.6,80.3 34.9,82.4 40.3,83.3 47.5,84.3 52.9,84.6 57.4,83 61,82.4 60.1,79.7 56.5,77 53.3,73.4 53.8,68.9 54.7,66.2 50.2,64.4 46.6,63.1 42.1,62.9" fill="none" stroke="#04202e" stroke-opacity="0.55" stroke-width="0.7" stroke-linejoin="round"/>
<polygon points="43.9,75.6 48.4,75.2 52.9,78.8 52,80.1 47.5,78.3 44.3,76.7" fill="none" stroke="#04202e" stroke-opacity="0.3" stroke-width="1.6" stroke-linejoin="round"/>
<polygon points="43.9,75.6 48.4,75.2 52.9,78.8 52,80.1 47.5,78.3 44.3,76.7" fill="none" stroke="#04202e" stroke-opacity="0.55" stroke-width="0.7" stroke-linejoin="round"/>
<polygon points="50.2,55 56.1,55.9 55.6,56.6 50.2,55.9" fill="none" stroke="#04202e" stroke-opacity="0.3" stroke-width="1.6" stroke-linejoin="round"/>
<polygon points="50.2,55 56.1,55.9 55.6,56.6 50.2,55.9" fill="none" stroke="#04202e" stroke-opacity="0.55" stroke-width="0.7" stroke-linejoin="round"/>
<polygon points="152.4,85.9 154.2,83.7 160.9,83.5 168.1,83.5 173.5,83.9 178.9,84.8 182.1,85.5 182.1,88.4 179.8,90.9 176.2,92.9 170.8,93.7 164.5,92.9 158.2,93.3 153.7,93.3 153.7,89.7" fill="none" stroke="#04202e" stroke-opacity="0.3" stroke-width="1.6" stroke-linejoin="round"/>
<polygon points="152.4,85.9 154.2,83.7 160.9,83.5 168.1,83.5 173.5,83.9 178.9,84.8 182.1,85.5 182.1,88.4 179.8,90.9 176.2,92.9 170.8,93.7 164.5,92.9 158.2,93.3 153.7,93.3 153.7,89.7" fill="none" stroke="#04202e" stroke-opacity="0.55" stroke-width="0.7" stroke-linejoin="round"/>
<g filter="url(#tex)">
<polygon points="41.2,61.7 42.1,59.3 46.6,57.7 52.9,57.3 58.3,59 63.7,60.6 69.1,61.7 71.8,61.3 73.2,58.4 79,59 85.3,57.5 90.7,59.9 96.1,61.3 101.5,62.6 104.2,62 105.5,66.7 107.8,68.9 113.2,68.4 117.3,68 118.6,69.1 115.9,70.5 110.5,70.7 108.3,71.6 110.5,72.9 114.5,73 121.3,74.3 126.7,75.6 131.2,78.8 133.4,81.5 132.1,85.2 129,86.6 127.6,88.8 124,85.7 115.9,84.6 110.5,84.6 105.1,84.1 102.4,86.1 100.2,88.4 95.2,88.4 92.9,88.2 90.7,85.2 86.2,86.1 83.9,87.3 84.4,90.6 80.8,95.1 78.1,99.6 75.4,97.4 73.6,95.1 71.8,91.8 66.4,88.8 61,88.4 53.8,89.3 47.5,88.8 42.1,87.9 37.6,89.7 34.9,91.8 29.5,90.2 25,87.3 22.7,84.3 23.6,81.2 28.6,80.3 34.9,82.4 40.3,83.3 47.5,84.3 52.9,84.6 57.4,83 61,82.4 60.1,79.7 56.5,77 53.3,73.4 53.8,68.9 54.7,66.2 50.2,64.4 46.6,63.1 42.1,62.9" fill="#4b5a3a"/>
<polygon points="43.9,75.6 48.4,75.2 52.9,78.8 52,80.1 47.5,78.3 44.3,76.7" fill="#4b5a3a"/>
<polygon points="50.2,55 56.1,55.9 55.6,56.6 50.2,55.9" fill="#4b5a3a"/>
<polygon points="152.4,85.9 154.2,83.7 160.9,83.5 168.1,83.5 173.5,83.9 178.9,84.8 182.1,85.5 182.1,88.4 179.8,90.9 176.2,92.9 170.8,93.7 164.5,92.9 158.2,93.3 153.7,93.3 153.7,89.7" fill="#4b5a3a"/>
</g>
<ellipse cx="74.5" cy="84.7" rx="3.6" ry="0.9" fill="#0aa6f0" transform="rotate(8 74.5 84.7)"/>
<path d="M34.2 33.9 L39.5 30.7 L45.9 27.5 L51.2 28.6 L54.4 26.5 L51.2 31.8 L49.1 36 L47 40.3 L38.5 40.8 L34.8 38.1ZM32.7 29.1 L38.5 24.4 L45.9 22.2 L56.5 23.3 L60.2 27 L56.5 30.7 L52.8 33.9 L51.2 39.2 L45.9 42.4 L36.4 41.9 L32.7 37.1ZM36.4 42.4 L51.2 40.8 L54.4 42.9 L50.1 46.1 L38.5 44.5ZM31.6 48.8 L40.6 49.8 L51.2 50.9 L65 53 L77.7 55.1 L89.4 54.6 L100 54.1M31.6 54.1 L38.5 54.6 L45.9 53 L54.4 54.1 L61.8 56.2 L66.1 58M50.7 21.2 L55.5 22.8 L58.6 25.4M72.4 42.4 L80.9 43.5 L89.4 44.5 L94.7 46.6 L98.9 48.8M67.1 22.8 L71.9 27 L74.5 31.8 L75.1 38.1 L72.4 40.8M33.2 24.4 L34.8 26 L33.7 27 L32.7 25.6ZM95.8 26.5 L100 29.7 L105.3 31.8 L110.6 35 L115.9 38.1 L121.2 41.3 L126.5 46.6 L130.8 53 L132.9 58M105.3 30.7 L108 30.5 L108.5 33.4 L105.8 33.9ZM105.3 42.4 L110.6 44.5 L114.8 46.6M100 54.1 L108.5 55.1 L113.8 49.8 L115.9 45.6M93.6 33.9 L97.9 36 L101.1 39.2 L102.1 45.6 L100 49.8 L96.8 53M283.8 53.8 L290.4 52.5 L289.1 59.1 L283.8 61.8 L286.4 67.1M293.1 57.8 L298.4 60.4 L302.3 55.1 L306.3 61.8 L305 68M317.6 31.3 L316.9 40.5 L311.6 46.5 L312.9 52.5 L307.6 57.8 L311.6 59.1 L314.3 55.1 L320 56.5M241.3 48.5 L244 48.5 L244 51.2 L241.3 51.2ZM248 44.5 L249.9 43.2 L250.6 45.2 L248.6 46.1ZM33 56 L45 54.5 L60 55.5 L75 57 L90 56 L105 55.5 L118 58 L126 62M33 52.5 L48 51 L66 52.5 L84 53.5 L100 52 L112 53.5 L122 58M80 49 L95 48.5 L108 50 L118 54M33 68 L38 72 L44 75 L50 78 L56 80M34 62 L40 66 L46 72 L52 76M36 76 L44 79 L52 81M33 66.9 L36 66.3 L39.5 70.5 L38.4 72.9 L34.8 70.5ZM32.4 74.1 L37.2 72.9 L40.7 76.5 L37.2 78.9 L33 78.3ZM31.2 62.2 L34.8 59.8 L39.5 57.4 L41.9 59.2M31.8 82.4 L37.2 81.8 L44.3 84.2 L50.3 83.6 L53.9 86M33.6 90.8 L40.7 89.6 L47.9 92 L51.5 96.8M41.9 72.9 L45.5 73.5 L51.5 75.9 L55.7 78.9M34.8 80.1 L40.7 79.5 L46.7 81.5 L51.5 81M69.4 94.4 L71.2 90.8 L73.6 89 L77.7 89.6 L80 90.8M70.6 98 L73 93.2 L76.5 92 L80 92.9M84.9 89.7 L78.7 94.8 L74.5 99 L72.4 105.2 L71.4 111.4 L67.3 119.7M89 90.7 L81.8 99 L76.6 106.2 L73.5 114.5M61.1 120.7 L63.1 122.2 L60.6 124.2 L58.6 122.8ZM53.8 126.3 L55.9 127.6 L53.2 129 L51.5 127.8ZM44.5 140.8 L42.8 145.6 L40.8 146.2 L42 142ZM31 92.8 L42.4 90.7 L50.7 94.8 L52.8 98M31 89.7 L40.4 89 L49.7 90.7 L59 91.7 L69.3 90.7M90 89.7 L98.3 87.6 L106.6 90.7 L117 89.7 L125.2 92.8 L130 91.7M92.1 93.8 L100.4 91.7 L108.7 93.8 L119 94.8 L130 95.9M106.6 101.1 L117 99 L127.3 101.1 L130 103.1M108.7 106.2 L119 104.2 L130 107.3M130 87.5 L138.8 88.2 L151.9 89.7 L159.2 91.9 L165 94.1M130 95.5 L144.6 97 L153.4 96.2 L165 97.7M179.6 94.8 L191.3 92.6 L205.9 91.1 L217.6 94.1 L230 92.6M130 105 L144.6 105.7 L159.2 104.3 L169.4 106.5 L173.8 104.3 L188.4 103.5 L198.6 104.3 L208.8 101.4M144.6 111.6 L150.4 113 L151.9 115.2 L156.3 113 L157 109.4M169.4 107.2 L171.6 113 L170.1 109.4M216.1 106.5 L223.4 104.3 L230 102.8M209.6 97 L210 107.2 L209.3 117.4 L210.3 127.9M220 92.8 L228.3 95.9 L234.5 101.1 L239.7 109.3 L240.7 119.7M226.2 90.7 L236.6 94.8 L244.8 103.1 L249 113.5 L251.1 123.8 L255.2 134.2M253.1 105.2 L261.4 104.2 L269.7 107.3 L280 106.2 L288.3 111.4 L294.5 121.8 L302.8 125.9 L313.2 134.2 L320 138.3M257.3 111.4 L267.6 111.4 L271.8 117.6 L282.1 116.6 L288.3 121.8 L290.4 128M261.4 119.7 L269.7 121.8 L273.8 128 L271.8 136.3 L265.5 142.5M232.4 138.3 L240.7 141.4 L249 144.5 L257.3 142.5M278 134.2 L282.1 133.1 L285.8 137.3 L284.2 140.4 L280 138.3ZM305.9 112.9 L311.1 111 L317.3 112.4 L319 115.1 L313.2 116.6 L307 115.5ZM251.1 90.7 L259.3 94.8 L263.5 101.1 L262.4 109.3M222.1 101.1 L228.3 105.2 L232.4 111.4 L230.4 117.6M253.4 101.7 L260.1 104.2 L270.2 105.1 L275.2 110.1 L283.5 111.8 L290.2 118.4 L293.6 126.8 L300.3 131.8 L310.3 135.2 L320 140.2M256 106.7 L263.5 107.6 L268.5 113.4 L275.2 115.9 L278.5 121.8 L286.9 124.3 L291.9 130.2M248.4 116.8 L253.4 118.4 L258.5 116.8 L268.5 120.1 L270.2 125.1 L265.2 128.5 L260.1 126.8 L256.8 131.8 L261.8 135.2M250.1 125.1 L253.4 128.5 L251.8 133.5 L255.1 138.5 L260.1 141.9 L265.2 140.2 L268.5 145.2M277.7 133.5 L281 133.8 L284.9 137.7 L283.2 140.2 L279.4 138.2ZM223.3 98.4 L228.4 101.7 L235.1 103.4 L240.1 108.4 L236.7 113.4M220 106.7 L226.7 110.1 L231.7 116.8 L230 123.5 L225 126.8M231.7 138.5 L238.4 141 L245.1 140.2 L251.8 143.5M221.7 143.5 L223.3 144.9 L222 146 L220.7 144.9ZM270.2 106.7 L276.9 105.9 L281.9 108.4 L286.9 107.6 L291.9 111.8M122 66 L128 70 L134 76 L140 80M140 70 L150 68.5 L160 70 L170 68.5 L182 66.5 L195 66.5 L205 69 L215 71 L225 72M178 71.5 L190 71 L200 73 L212 76 L225 80 L236 84 L246 90M130 82 L150 80.5 L175 79 L200 79.5 L220 82 L235 87 L250 94 L262 100M135 87 L160 85 L190 84 L215 87 L235 93 L250 101 L258 110" fill="none" stroke="#04202e" stroke-opacity="0.78" stroke-width="0.45" stroke-linejoin="round"/>
<path d="M40.1 36.6 L43.3 30.2 L48.6 28.6 L55.5 27 L60.8 28.6 L64.5 32.8 L67.1 37.6 L68.4 41.9M61.8 28.1 L65.5 31.8 L68.4 37.1 L69.8 41.9" fill="none" stroke="#04202e" stroke-opacity="0.78" stroke-width="1.35" stroke-linejoin="round"/>
<path d="M41.7 37.1 L44.8 31.6 L49.6 30.2 L55.5 28.6 L59.9 30.2 L63.1 33.9 L65.5 38.7 L66.6 42.2M68.7 22.2 L73.5 25.4 L78.8 26.5 L75.6 30.7 L76.7 37.1 L80.9 31.8 L85.1 27.5 L89.4 32.8 L83 38.1 L87.3 38.7 L93.6 35 L97.9 39.2 L95.7 45.6 L93.6 49.8M165.8 96.2 L178.2 96.2 L178.2 102.1 L165.8 102.1ZM168.7 97.7 L175.3 97.7 L175.3 100.6 L168.7 100.6ZM101.8 39.3 L102.5 44.1 L100.7 47.5 L102.9 50.5 L104.8 52 L110.8 52 L111.9 49.4 L114.9 47.5 L115.6 44.5 L109.3 41.9 L105.9 38.9ZM107.8 52 L109.6 52.4 L108.5 55.1 L105.9 56.2 L104.8 55.4 L106.6 53.5ZM117.5 46.4 L120.1 47.9 L119 49.8 L116.7 51.3 L115.2 55.4 L113.8 55.1 L115.6 50.9 L116.7 47.9ZM124.6 49.8 L125.7 52.4 L127.2 57.3 L125 58.8 L121.2 59.2 L120.1 57.7 L122.3 52.4ZM123.8 51.7 L124.8 53.5 L125.9 56.8 L124.4 57.8 L122 58 L121.4 57.1 L122.9 53.5ZM117.5 38.9 L121.2 41.1 L123.5 43.4 L126.5 44.9 L128.7 49.4 L130.9 53.5 L133.2 57.3 L134.7 59.2" fill="none" stroke="#04202e" stroke-opacity="0.78" stroke-width="0.9" stroke-linejoin="round"/>
<path d="M103.7 38.9 L105.5 39.6 L108.5 42.6 L114.5 44.9 L113.8 47.2 L111.1 48.7 L110.4 51.3 L104.8 51.3 L103.3 49.4 L104.8 45.7 L104 41.9Z" fill="none" stroke="#04202e" stroke-opacity="0.78" stroke-width="1.12" stroke-linejoin="round"/>
<ellipse cx="199.5" cy="96.5" rx="6" ry="2.2" transform="rotate(-25 199.5 96.5)" fill="#39434a" fill-opacity="0.75"/>
<ellipse cx="171.5" cy="99" rx="2.2" ry="2" transform="rotate(0 171.5 99)" fill="#39434a" fill-opacity="0.75"/>
<ellipse cx="252.6" cy="122.6" rx="1.5" ry="2.4" transform="rotate(10 252.6 122.6)" fill="#39434a" fill-opacity="0.75"/>
<ellipse cx="257.6" cy="122.6" rx="1.3" ry="1.6" transform="rotate(0 257.6 122.6)" fill="#39434a" fill-opacity="0.75"/>
<ellipse cx="259.3" cy="138.5" rx="1.4" ry="2.6" transform="rotate(15 259.3 138.5)" fill="#39434a" fill-opacity="0.75"/>
<ellipse cx="251" cy="109.3" rx="1.2" ry="1.2" transform="rotate(0 251 109.3)" fill="#39434a" fill-opacity="0.75"/>
<ellipse cx="246.5" cy="108.5" rx="1" ry="1" transform="rotate(0 246.5 108.5)" fill="#39434a" fill-opacity="0.75"/>
<ellipse cx="225" cy="101" rx="1.2" ry="0.8" transform="rotate(0 225 101)" fill="#39434a" fill-opacity="0.75"/>
<ellipse cx="203" cy="94.5" rx="2" ry="1" transform="rotate(-25 203 94.5)" fill="#39434a" fill-opacity="0.75"/>
<ellipse cx="41.8" cy="37.6" rx="4.6" ry="1.3" transform="rotate(-12 41.8 37.6)" fill="#8f8468" fill-opacity="0.95"/>
<ellipse cx="72.5" cy="24.5" rx="2.2" ry="0.8" transform="rotate(25 72.5 24.5)" fill="#8f8468" fill-opacity="0.95"/>
<g font-family="'Liberation Sans', sans-serif" fill="#06141e" stroke="#06141e" stroke-width="0.28" text-anchor="middle">
<text font-size="5" transform="translate(66 27.5) rotate(60)" y="1.8">-2500</text>
<text font-size="5" transform="translate(104 41) rotate(88)" y="1.8">-5000</text>
<text font-size="5" transform="translate(104.2 50) rotate(92)" y="1.8">-2500</text>
<text font-size="5" transform="translate(121.5 52) rotate(72)" y="1.8">-2500</text>
<text font-size="5" transform="translate(127.5 56) rotate(68)" y="1.8">-1000</text>
<text font-size="5" transform="translate(66.5 37.5) rotate(66)" y="1.8">-2500</text>
<text font-size="5" transform="translate(251.5 128) rotate(-80)" y="1.8">-2500</text>
<text font-size="5" transform="translate(238 107) rotate(-60)" y="1.8">-2500</text>
<text font-size="5" transform="translate(177 102) rotate(85)" y="1.8">-5000</text>
<text font-size="5" transform="translate(168 97.5) rotate(10)" y="1.8">-1000</text>
<text font-size="5" transform="translate(201 98.5) rotate(-25)" y="1.8">-1000</text>
<text font-size="5" transform="translate(63.5 33) rotate(62)" y="1.8">-5000</text>
<text font-size="5" transform="translate(103.6 45) rotate(90)" y="1.8">-5000</text>
<text font-size="5" transform="translate(118 48.5) rotate(75)" y="1.8">-5000</text>
<text font-size="5" transform="translate(125.5 51.5) rotate(70)" y="1.8">-5000</text>
<text font-size="5" transform="translate(263.5 60.5) rotate(-42)" y="1.8">-5000</text>
<text font-size="5" transform="translate(280.5 57.5) rotate(-72)" y="1.8">-5000</text>
<text font-size="5" transform="translate(296 64) rotate(40)" y="1.8">-5000</text>
<text font-size="5" transform="translate(58 132.5) rotate(-25)" y="1.8">-2500</text>
<text font-size="5" transform="translate(306 104) rotate(-38)" y="1.8">-5000</text>
<text font-size="5" transform="translate(233 99.5) rotate(-55)" y="1.8">-5000</text>
<text font-size="5" transform="translate(241 117) rotate(-78)" y="1.8">-1000</text>
<text font-size="5" transform="translate(250 140.5) rotate(25)" y="1.8">-2500</text>
<text font-size="5" transform="translate(176 72.3) rotate(-2)" y="1.8">-5000</text>
<text font-size="5" transform="translate(218 72) rotate(5)" y="1.8">-5000</text>
<text font-size="5" transform="translate(55 78) rotate(35)" y="1.8">-1000</text>
<text font-size="5" transform="translate(196 96) rotate(-25)" y="1.8">-2500</text>
<text font-size="5" transform="translate(171 99) rotate(80)" y="1.8">-2500</text>
</g>
<path d="M121.9 63.9 L139 62.5 L155.8 61.3 L172.3 60 L189.6 59.7 L206.2 60.9 L224.1 61.6 L240 67.8 L254.9 74.4 L269.5 80.2M122.2 71.7 L139.1 70.3 L155.8 68.7 L172.3 67.6 L189.6 67.2 L206.2 68.3 L222.8 69.4 L236.7 74.3 L251.4 81.2 L266.5 87.3M122.6 79.4 L139.2 78.2 L155.8 76.1 L172.3 75.2 L189.6 74.8 L206.2 75.8 L221.5 77.2 L233.4 80.8 L248 88.1 L263.5 94.4M121.9 63.9L122.6 79.4M139 62.5L139.2 78.2M155.8 61.3L155.8 76.1M172.3 60L172.3 75.2M189.6 59.7L189.6 74.8M206.2 60.9L206.2 75.8M224.1 61.6L221.5 77.2M240 67.8L233.4 80.8M254.9 74.4L248 88.1M269.5 80.2L263.5 94.4M224.1 61.6L218.7 76.4" fill="none" stroke="#fff" stroke-width="0.8" stroke-opacity="0.92"/>
</g>
<rect x="31.3" y="20.1" width="288" height="126.5" fill="none" stroke="#3c3c3c" stroke-width="0.9"/>
<path d="M31.3 146.6v3.2M31.3 20.1v-3.2M40.3 146.6v1.8M40.3 20.1v-1.8M49.3 146.6v1.8M49.3 20.1v-1.8M58.3 146.6v1.8M58.3 20.1v-1.8M67.3 146.6v3.2M67.3 20.1v-3.2M76.3 146.6v1.8M76.3 20.1v-1.8M85.3 146.6v1.8M85.3 20.1v-1.8M94.3 146.6v1.8M94.3 20.1v-1.8M103.3 146.6v3.2M103.3 20.1v-3.2M112.3 146.6v1.8M112.3 20.1v-1.8M121.3 146.6v1.8M121.3 20.1v-1.8M130.3 146.6v1.8M130.3 20.1v-1.8M139.3 146.6v3.2M139.3 20.1v-3.2M148.3 146.6v1.8M148.3 20.1v-1.8M157.3 146.6v1.8M157.3 20.1v-1.8M166.3 146.6v1.8M166.3 20.1v-1.8M175.3 146.6v3.2M175.3 20.1v-3.2M184.3 146.6v1.8M184.3 20.1v-1.8M193.3 146.6v1.8M193.3 20.1v-1.8M202.3 146.6v1.8M202.3 20.1v-1.8M211.3 146.6v3.2M211.3 20.1v-3.2M220.3 146.6v1.8M220.3 20.1v-1.8M229.3 146.6v1.8M229.3 20.1v-1.8M238.3 146.6v1.8M238.3 20.1v-1.8M247.3 146.6v3.2M247.3 20.1v-3.2M256.3 146.6v1.8M256.3 20.1v-1.8M265.3 146.6v1.8M265.3 20.1v-1.8M274.3 146.6v1.8M274.3 20.1v-1.8M283.3 146.6v3.2M283.3 20.1v-3.2M292.3 146.6v1.8M292.3 20.1v-1.8M301.3 146.6v1.8M301.3 20.1v-1.8M310.3 146.6v1.8M310.3 20.1v-1.8M319.3 146.6v3.2M319.3 20.1v-3.2M31.3 146.6h-3.2M319.3 146.6h3.2M31.3 142.1h-1.8M319.3 142.1h1.8M31.3 137.6h-1.8M319.3 137.6h1.8M31.3 133h-1.8M319.3 133h1.8M31.3 128.5h-3.2M319.3 128.5h3.2M31.3 124h-1.8M319.3 124h1.8M31.3 119.5h-1.8M319.3 119.5h1.8M31.3 115h-1.8M319.3 115h1.8M31.3 110.5h-3.2M319.3 110.5h3.2M31.3 105.9h-1.8M319.3 105.9h1.8M31.3 101.4h-1.8M319.3 101.4h1.8M31.3 96.9h-1.8M319.3 96.9h1.8M31.3 92.4h-3.2M319.3 92.4h3.2M31.3 87.9h-1.8M319.3 87.9h1.8M31.3 83.3h-1.8M319.3 83.3h1.8M31.3 78.8h-1.8M319.3 78.8h1.8M31.3 74.3h-3.2M319.3 74.3h3.2M31.3 69.8h-1.8M319.3 69.8h1.8M31.3 65.3h-1.8M319.3 65.3h1.8M31.3 60.8h-1.8M319.3 60.8h1.8M31.3 56.2h-3.2M319.3 56.2h3.2M31.3 51.7h-1.8M319.3 51.7h1.8M31.3 47.2h-1.8M319.3 47.2h1.8M31.3 42.7h-1.8M319.3 42.7h1.8M31.3 38.2h-3.2M319.3 38.2h3.2M31.3 33.7h-1.8M319.3 33.7h1.8M31.3 29.1h-1.8M319.3 29.1h1.8M31.3 24.6h-1.8M319.3 24.6h1.8M31.3 20.1h-3.2M319.3 20.1h3.2" stroke="#3c3c3c" stroke-width="0.8" fill="none"/>
<g font-family="'Liberation Serif', serif" font-size="9.7" fill="#1a1a1a">
<text x="31.3" y="162.5" text-anchor="middle">-74</text>
<text x="67.3" y="162.5" text-anchor="middle">-72</text>
<text x="103.3" y="162.5" text-anchor="middle">-70</text>
<text x="139.3" y="162.5" text-anchor="middle">-68</text>
<text x="175.3" y="162.5" text-anchor="middle">-66</text>
<text x="211.3" y="162.5" text-anchor="middle">-64</text>
<text x="247.3" y="162.5" text-anchor="middle">-62</text>
<text x="283.3" y="162.5" text-anchor="middle">-60</text>
<text x="319.3" y="162.5" text-anchor="middle">-58</text>
<text x="24.7" y="149.3" text-anchor="end">15</text>
<text x="24.7" y="131.5" text-anchor="end">16</text>
<text x="24.7" y="113.7" text-anchor="end">17</text>
<text x="24.7" y="95.9" text-anchor="end">18</text>
<text x="24.7" y="78.1" text-anchor="end">19</text>
<text x="24.7" y="60.3" text-anchor="end">20</text>
<text x="24.7" y="42.5" text-anchor="end">21</text>
<text x="24.7" y="24.7" text-anchor="end">22</text>
</g>
<g font-family="'Liberation Serif', serif" fill="#1a1a1a">
<text x="175.6" y="176.7" text-anchor="middle" font-size="13">Lon. E. (deg.)</text>
<text transform="translate(10.2 84.1) rotate(-90)" text-anchor="middle" font-size="12.9">Lat. N. (deg.)</text>
<text x="162" y="10.9" text-anchor="middle" font-size="14.7" fill="#000">(a)</text>
</g>
<rect x="324.8" y="20.1" width="5.4" height="126.5" fill="url(#jetab)"/>
<g font-family="'Liberation Serif', serif" font-size="9.7" fill="#1a1a1a">
<text x="333.8" y="23.4">3</text>
<text x="333.8" y="55">2</text>
<text x="333.8" y="86.6">1</text>
<text x="333.8" y="118.3">0</text>
<text x="333.8" y="149.9">-1</text>
</g>
<g clip-path="url(#cb)">
<rect x="373" y="20" width="290" height="127" fill="#06d3ff"/>
<polygon points="641,96 663,93 663,147 626,147 615,137 620,110" fill="#00b2ff"/>
<polygon points="458,20 460.5,73 463.3,137 481.2,127 493.6,116 511,109.7 535,105.4 570,112.4 598,126.4 615.4,137 626,147 640,130 636.5,98 641.7,92.8 639.6,82.4 630.6,67.6 620.4,57.4 605.8,49.4 591,44.3 576.6,42 555.4,40 546.7,37 540.8,31 535,20" fill="#00a9ff"/>
<path d="M531.6 55.9l1 -0.6l3 -0.1l33 2.4l15 5.9l14.9 6.6l15.1 5.4l2.3 1.6l19.7 23.3l11.8 10.7l0.6 1l0.4 2l0 2l-0.4 1l-8.4 9l-1 0.8l-1 -0.3l-3 -2.2l-12 -10.7l-10.1 -11.6l-7.9 -9.6l-1.9 -1.4l-10.1 -3.9l-15 -7.1l-13 -5.4l-32 -2.3l-3 -0.7l-0.9 -0.6l-0.6 -2l0 -4l0.4 -5l0.6 -2z" fill="#00afff"/>
<path d="M532.6 56.1l1 -0.3l2 -0.1l32 2.3l17 6.6l14.7 6.5l14.3 5.1l1 0.5l1.4 1.4l19.4 23l11.2 10.1l0.7 0.9l0.7 2l0 2l-0.5 1l-8.4 9l-0.5 0.4l-1 -0.1l-3 -2.1l-11.6 -10.2l-10.5 -12l-7.9 -9.6l-1.8 -1.4l-10.2 -4l-15 -7.1l-13 -5.3l-32 -2.4l-1.6 -0.2l-1.4 -0.6l-0.6 -0.4l-0.4 -2l0.3 -10l1.7 -1.9l1 -0.8z" fill="#00b1ff"/>
<path d="M531.6 56.8l2 -0.6l3 0l9.4 0.9l21.6 1.2l18 7.2l12.5 5.6l15.5 5.5l1.8 1.5l19.4 23l11.8 10.7l0.8 1.3l0.4 2l-0.5 2l-8.7 8.9l-1 0.2l-1 -0.4l-2 -1.6l-11.5 -10.1l-10.5 -12l-8 -9.7l-1.7 -1.3l-10.3 -4l-15 -7.1l-13 -5.4l-31 -2.2l-3 -0.5l-1.2 -0.8l-0.5 -1l-0.2 -4l0.3 -6l0.9 -2z" fill="#00b4ff"/>
<path d="M531.6 57.1l1 -0.6l3 -0.1l6.6 0.7l25.4 1.4l15 5.9l17.4 7.7l12.6 4.3l2.5 1.7l11.5 13.9l8 9.2l11.9 10.9l0.7 1l0.3 1l0 2l-0.4 1l-8.5 8.7l-1 0.2l-1 -0.3l-14 -12.1l-18 -21.2l-1.6 -1.3l-10.4 -4.1l-15 -7l-13 -5.4l-31 -2.3l-3 -0.5l-1 -0.7l-0.5 -1l-0.2 -4l0.2 -5l0.1 -1l0.9 -2z" fill="#00baff"/>
<path d="M533.6 57.1l34 2.1l16 6.3l14.8 6.6l15.2 5.5l1.6 1.5l19.4 23l11.3 10l1.2 2l0 2l-4.5 5l-4 3.8l-1 0.6l-1 -0.2l-3 -2.2l-11 -9.7l-18 -21.3l-1.2 -1l-10.8 -4.3l-15 -7l-13 -5.4l-31 -2.2l-2 -0.4l-1 -0.4l-0.4 -0.3l-0.5 -1l-0.3 -3l0.3 -7l0.2 -1l1.7 -1.6z" fill="#00c3ff"/>
<path d="M531.6 57.9l1 -0.5l3 -0.1l8.6 0.8l23.4 1.4l15 5.9l14.9 6.7l15.1 5.3l2 1.6l1.8 2.1l8.2 10l9.6 11l11.2 10l0.9 1l0.4 1l0.3 1l-0.3 1l-0.6 1l-2.9 3l-4.6 4.3l-1 0.6l-1 0l-1 -0.5l-13 -11.3l-17.8 -21.1l-1.2 -1.1l-11 -4.3l-15 -7.1l-13 -5.3l-31 -2.3l-2 -0.4l-0.9 -0.5l-0.6 -1l-0.3 -2l0.2 -8l0.3 -1z" fill="#00cdff"/>
<path d="M532.6 57.6l3 -0.1l6.1 0.6l25.9 1.6l15 6l16.9 7.4l13.1 4.5l2.7 2.5l8.3 10.1l10.3 11.9l11.3 10l1.3 2l-0.1 2l-5.8 6.2l-3 2.4l-1 0l-2 -1.2l-11.8 -10.4l-10.4 -12l-7.3 -9l-1.5 -1.3l-11 -4.3l-15 -7l-13 -5.4l-28 -2l-5 -0.7l-1 -1l-0.4 -1.3l-0.3 -3l0.2 -5l0.5 -2z" fill="#00d6ff"/>
<path d="M532.6 57.9l3 -0.2l32 2.3l17 6.7l14.4 6.4l13.6 4.8l1 0.6l1.5 1.6l18.5 22l11.3 10l1.4 2l0.2 1l-0.2 1l-6.7 6.8l-2 1.4l-1 0.1l-2 -1.1l-11.6 -10.2l-10.4 -12l-7.3 -9l-1.7 -1.5l-11 -4.3l-14 -6.6l-14 -5.8l-30 -2.1l-3 -0.6l-0.9 -1.1l-0.5 -3l0.2 -6l0.4 -2l0.8 -0.8z" fill="#00e0ff"/>
<path d="M533.6 57.9l34 2.3l16 6.3l15 6.6l14 5l1 0.6l1.3 1.4l18.7 22.2l11.9 10.8l0.7 1l0.1 1l-0.2 1l-4.5 4.7l-3 2.6l-1 0.6l-1 0.1l-1 -0.3l-12.3 -10.7l-10.7 -12.3l-7.1 -8.7l-1.9 -1.7l-11 -4.3l-14 -6.6l-14 -5.7l-30 -2.2l-2.6 -0.5l-1 -1l-0.6 -3l0.2 -7l0.4 -1l0.6 -0.6z" fill="#00e9ff"/>
<path d="M533.6 58l34 2.3l16 6.3l14.7 6.5l14.3 5.1l1.2 0.9l19.8 23.4l11.8 10.6l0.6 1l0.2 1l-0.3 1l-4.3 4.5l-3 2.5l-1 0.6l-1 0.2l-1 -0.4l-12.1 -10.4l-18.6 -22l-1.3 -0.9l-10.6 -4.1l-16.4 -7.6l-12 -4.9l-32.1 -2.5l-1.2 -1l-0.6 -2l-0.2 -2l0.3 -6l0.8 -1.4z" fill="#00e9ef"/>
<path d="M531.6 58.9l1 -0.6l3 -0.1l32 2.1l16 6.4l14.3 6.4l14.7 5.2l2.8 2.8l8.2 10l10 11.5l11.7 10.5l0.6 1l0.2 1l-0.4 1l-4.1 4.2l-3 2.5l-1 0.6l-1 0.2l-1 -0.3l-12 -10.4l-19 -22.4l-11.1 -4.4l-15.9 -7.4l-13 -5.3l-30 -2.1l-2 -0.4l-1.1 -0.8l-0.7 -3l0.1 -7z" fill="#00e7dc"/>
<path d="M531.6 59l1 -0.6l3 -0.1l32 2.1l15 6l15 6.7l15 5.3l2.7 2.7l7.3 9l11 12.7l11.5 10.3l0.6 1l0.2 1l-0.4 1l-3.9 4l-3 2.5l-2 0.7l-1 -0.3l-12 -10.4l-19 -22.4l-11 -4.3l-16 -7.4l-13 -5.3l-30 -2.1l-2 -0.4l-0.8 -0.6l-0.5 -1l-0.5 -3l0.2 -6z" fill="#00e5c8"/>
<path d="M532.6 58.5l2 -0.2l3 0.1l30 2.1l15 6l15 6.7l15 5.3l1.7 1.6l19.3 22.9l11.4 10.1l0.8 2l-0.4 1l-3.8 3.8l-3 2.4l-2 0.7l-1 -0.4l-12 -10.4l-19 -22.3l-12.3 -4.8l-13.7 -6.4l-14 -5.7l-28 -1.9l-4 -0.7l-1.1 -1.3l-0.6 -3l0.2 -6l0.6 -1z" fill="#00e3b5"/>
<path d="M532.6 58.6l4 -0.1l31 2.1l15 6l15 6.7l15 5.3l1.6 1.5l19.4 23l11.3 10l0.6 1l0.2 1l-0.5 1l-3.6 3.6l-3 2.3l-2 0.7l-1 -0.4l-11.7 -10.2l-10.3 -12l-7.4 -9l-1.6 -1.5l-11.6 -4.5l-14.4 -6.6l-12 -5l-3 -0.8l-24.3 -1.6l-4.7 -0.4l-2 -0.5l-1 -1.5l-0.5 -2.6l0.2 -6l0.6 -1z" fill="#00e29d"/>
<path d="M532.6 58.7l1 -0.2l3 0l31 2.2l15 6l15 6.6l15 5.4l1.5 1.4l19.4 23l11.2 10l0.7 1l0.1 1l-0.4 1l-3.5 3.4l-3 2.3l-1 0.5l-1 0l-1 -0.4l-11.3 -9.8l-18.7 -22.2l-2 -1.1l-10 -3.7l-19 -8.5l-10 -4l-26 -1.8l-5.6 -0.7l-1 -1l-0.8 -3l0.2 -6l0.6 -1z" fill="#00e17e"/>
<path d="M532.6 58.8l1 -0.2l3 0l31 2.2l15 6l15 6.6l15 5.4l1.4 1.3l19.4 23l11.2 10l0.7 1l0.1 1l-0.8 1.4l-4 3.7l-2 1.3l-1 0.4l-1 0.1l-2 -1.3l-10 -8.9l-18.3 -21.7l-1.2 -1l-10.6 -4l-16.9 -7.6l-13 -5.2l-31 -2.2l-1.3 -1l-1 -3l0.2 -6z" fill="#00e060"/>
<path d="M532.6 58.9l1 -0.2l2 0l32 2.2l15 6l15 6.6l15 5.4l1.2 1.2l19.5 23l11.2 10l0.7 1l0.1 1l-0.7 1.2l-4 3.7l-2 1.3l-1 0.3l-1 -0.1l-2 -1.4l-10 -8.8l-19 -22.4l-12.7 -4.8l-14.3 -6.4l-14 -5.6l-31 -2.3l-1.1 -0.7l-1 -3l0.1 -6z" fill="#00e042"/>
<path d="M532.6 59.1l1 -0.3l2 -0.1l32 2.3l15 6l15 6.6l15 5.4l20.6 24.1l11.2 10l0.7 1l0.1 1l-0.6 1l-4 3.7l-2 1.2l-1 0.3l-1 -0.2l-11.5 -10l-18.5 -21.8l-1 -0.8l-12 -4.5l-15 -6.7l-14 -5.5l-25.7 -1.7l-5.3 -0.6l-1 -0.7l-1 -2.7l0.2 -6z" fill="#00df23"/>
<path d="M533.6 58.8l34 2.3l17 6.8l13 5.8l14.9 5.4l20.6 24l11.2 10l0.7 1l0.1 1l-0.5 0.9l-2 1.9l-3 2.4l-2 0.6l-1 -0.4l-11 -9.5l-18.5 -21.9l-1.5 -1.1l-11 -4l-17 -7.4l-13 -5.1l-23 -1.5l-8 -0.8l-1.2 -1.1l-0.4 -1l-0.3 -2l0.2 -5l0.7 -0.9z" fill="#00de05"/>
<path d="M533.6 58.9l34 2.3l14.8 5.9l15.2 6.7l14.7 5.3l1.3 1.1l19.4 22.9l11.2 10l0.7 1l0.1 1l-2.4 2.6l-3 2.4l-2 0.3l-1 -0.4l-11 -9.7l-18 -21.3l-1 -1l-1 -0.5l-11 -3.9l-16 -7l-13 -5.1l-32 -2.6l-1 -0.8l-0.5 -1l-0.3 -2l0.2 -5l0.6 -0.8z" fill="#16e000"/>
<path d="M533.6 59l34 2.3l14.6 5.8l15.4 6.7l14.6 5.3l1.4 1.2l19.3 22.8l11.2 10l0.7 1l0.1 1l-2.3 2.5l-3 2.2l-1.4 0.3l-1.6 -0.7l-10.5 -9.3l-18.5 -21.8l-1.9 -1.2l-12.1 -4.3l-15 -6.5l-13 -5.2l-30 -2.2l-2 -0.3l-1 -0.8l-0.3 -0.7l-0.3 -2l0.1 -5l0.5 -0.6z" fill="#31e300"/>
<path d="M533.6 59.1l34 2.3l14.4 5.7l15.6 6.8l14.4 5.2l1.6 1.3l19.2 22.7l11.2 10l0.7 1l0.1 1l-3.2 3.1l-2 1.4l-1 0.2l-1.6 -0.7l-10.4 -9.1l-18.6 -21.9l-1.4 -1.1l-12 -4.2l-15.6 -6.7l-13.4 -5.3l-30 -2.1l-2 -0.4l-1 -0.9l-0.4 -1.3l-0.1 -5l0.1 -1z" fill="#4ce500"/>
<path d="M532.6 59.7l1 -0.5l2 -0.1l32 2.3l16 6.4l14 6.2l14.2 5.1l1.8 1.4l19.1 22.6l11.1 10l0.8 1l0.1 1l-2.1 2.1l-2 1.6l-1 0.5l-1 0.1l-1 -0.4l-11 -9.6l-18.1 -21.3l-0.9 -1l-1 -0.5l-12 -4.1l-14.8 -6.4l-14.2 -5.6l-30 -2.1l-2 -0.4l-1 -0.9l-0.3 -1l-0.1 -5l0.1 -1z" fill="#67e800"/>
<path d="M532.6 59.9l1 -0.6l2 -0.1l32 2.3l16 6.4l14 6.2l14 5l1 0.5l1 1.1l19 22.5l11.1 9.9l0.8 1l0 1l-2.9 2.7l-2 1.2l-1 0.1l-1 -0.6l-10.7 -9.4l-19.3 -22.4l-13 -4.6l-15 -6.4l-14 -5.5l-29 -2l-3 -0.5l-0.7 -0.6l-0.5 -1l-0.1 -5z" fill="#82ea00"/>
<path d="M532.6 60l1 -0.6l2 -0.1l32 2.3l16 6.4l14 6.2l14 5l1 0.5l1 1.1l19 22.5l11 9.8l0.7 1l0.1 1l-3.8 3.2l-1 0.3l-1 0l-1 -0.7l-10.1 -8.8l-18.8 -22l-1.1 -0.9l-13 -4.5l-15.8 -6.6l-13.2 -5.1l-30 -2.2l-2 -0.4l-1 -1.3z" fill="#9cec00"/>
<path d="M533.6 59.5l4 0l30 2.2l16 6.4l14 6.2l14 5l1 0.5l1 1.1l19 22.5l10.9 9.7l0.7 1l0 1l-3.6 2.9l-1 0.2l-0.8 -0.1l-1.2 -0.8l-10 -8.9l-18.2 -21.3l-1.8 -1.4l-13 -4.3l-15 -6.3l-14 -5.4l-30 -2.1l-2 -0.4l-0.8 -1.1l-0.3 -5l0.2 -1z" fill="#b3ed00"/>
<path d="M533.6 59.6l4 0l30 2.2l15.8 6.3l14.2 6.3l13.4 4.7l1.6 0.8l20 23.6l10.8 9.6l0.7 1l-0.1 1l-2.4 2l-1 0.5l-1 0.2l-1.3 -0.7l-10.3 -9l-19.4 -22.5l-13.7 -4.5l-15.3 -6.3l-14 -5.4l-31.4 -2.3l-0.6 -0.3l-0.5 -0.7l-0.2 -1l-0.2 -4l0.1 -1z" fill="#cbee00"/>
<path d="M533.6 59.7l4 0l30 2.1l15.6 6.3l14.4 6.4l13.1 4.6l1.9 0.9l20 23.6l10.6 9.5l0.8 1l-0.1 1l-1.3 1.1l-2 1.1l-1 -0.1l-1.6 -1.1l-9.4 -8.3l-18 -21l-2 -1.9l-15 -4.8l-14 -5.7l-14 -5.2l-31 -2.3l-1 -0.5l-0.4 -1.3l-0.3 -4l0.1 -1z" fill="#e3ef00"/>
<path d="M533.6 59.8l4 -0.1l30 2.2l15.4 6.2l14.6 6.5l12.9 4.5l2.1 1l20 23.7l10.5 9.3l0.8 1l-0.2 1l-2.1 1.4l-1 0.3l-1 -0.2l-9 -7.8l-2 -1.9l-18 -21.1l-1 -1l-1 -0.6l-13.2 -4.1l-29.8 -11.3l-25.7 -1.7l-5.3 -0.6l-0.9 -0.4l-0.3 -1l-0.4 -4l0.2 -1z" fill="#fbf000"/>
<path d="M533.6 59.9l4 -0.1l7 0.7l23 1.5l15.2 6.1l14.8 6.6l12.6 4.4l2.1 1l17.8 21l2.7 3l10.2 9l0.7 1l-0.1 0.8l-2 1.2l-1.5 0l-9.5 -8.1l-21 -24.1l-14 -4.6l-30 -11l-31 -2.1l-0.8 -1.1l-0.2 -0.9l-0.4 -3.1l0.1 -1z" fill="#ffe700"/>
<path d="M533.6 60l4 -0.1l7 0.7l23 1.5l15 6l14 6.3l13.4 4.7l2.1 1l20.5 23.9l9.2 8.1l1.8 2.2l-1 1l-1 0.3l-1 -0.1l-9.9 -8.4l-19.7 -23l-1.4 -1.1l-13 -4.3l-16 -6.1l-15 -5l-30 -2.1l-1.1 -0.4l-1.1 -4z" fill="#ffdd00"/>
<path d="M534.6 59.9l32.7 2.2l17.4 7l11.9 5.5l7.4 2.5l0.6 0.4l2.3 0.6l0.7 0.5l2.1 0.5l2.2 1l3.7 4l6.4 8l10.5 12l6.1 5.6l3.1 2.4l1.6 2l-0.7 0.9l-1 0.1l-1 -0.4l-9.8 -8.6l-19.2 -22.5l-1.9 -1.5l-13.1 -4.4l-16 -6.5l-14 -5.1l-31 -2.2l-1 -0.6l-1 -1.9l0.2 -1.3z" fill="#ffd200"/>
<path d="M534.6 60l3.8 0.1l4.2 0.7l9.8 0.3l4.2 0.6l10.3 0.4l2.8 1l0.9 0.6l4.1 1.4l0.9 0.6l4.1 1.4l0.9 0.7l3.8 1.3l5.2 2.6l6.1 2.4l0.9 0.7l4.2 1.3l0.8 0.6l2.1 0.4l0.9 0.6l2 0.4l1 0.7l1.7 0.3l1.3 0.8l1.1 0.2l2.9 3l6.3 8l11.2 13l10.4 9l0.5 1l-0.4 0.4l-1 -0.1l-0.6 -0.3l-9.4 -8.2l-20 -23.4l-1 -0.8l-14 -4.8l-16.1 -6.8l-13 -5l-1.9 -0.4l-30 -2l-1 -0.4l-0.7 -1.2l0.3 -1z" fill="#ffc800"/>
<path d="M535.6 60.1l6 0.8l9.2 0.2l4.8 0.7l10.6 0.3l3.1 1l3.3 1.7l1.6 0.3l1.4 0.8l1.1 0.2l0.9 0.7l1.6 0.3l1.4 0.8l1 0.2l1 0.7l3.6 1.3l3.4 1.8l1 0.2l1 0.7l1.3 0.3l3.7 1.9l0.8 0.1l1.2 0.7l1.5 0.3l1.5 0.8l1.3 0.2l0.7 0.5l2.1 0.5l0.9 0.6l1.9 0.4l1.1 0.7l1.3 0.3l-0.3 0.6l-2 -0.4l-1 -0.6l-2 -0.4l-1 -0.6l-7 -2.2l-15.3 -6.4l-15.7 -6l-31 -2.2l-1 -0.3l-0.3 -0.5l0.3 -0.8zM611.6 80.7l1 0.7l2 2.3l0.3 0.4l-0.3 0.9l-2.4 -2.9l-1.3 -1zM615.6 84.9l1 1.2l0.4 1l-0.4 0.2l-1.9 -2.2zM617.6 87.5l0.4 0.6l-0.4 0.4l-0.4 -0.4zM618.6 88.7l0.3 0.4l-0.3 0.7l-0.5 -0.7zM619.6 89.8l0.2 0.3l-0.2 0.9l-0.7 -0.9zM620.6 91l0.1 0.1l0.5 1l-0.6 0.1l-0.8 -1.1zM621.6 92.3l0.4 0.8l-0.4 0.2l-0.2 -0.2zM622.6 93.6l0.4 0.5l-0.4 0.4l-0.3 -0.4zM623.6 94.7l0.3 0.4l-0.3 0.6l-0.5 -0.6zM624.6 95.7l0.3 0.4l-0.3 0.8l-0.6 -0.8zM625.6 96.8l0.2 0.3l-0.2 0.9l-0.7 -0.9zM626.6 98l0.1 0.1l0.4 1l-0.5 0.1l-0.8 -1.1zM627.6 99.3l0.4 0.8l-0.4 0.2l-0.2 -0.2zM628.6 100.6l0.4 0.5l-0.4 0.4l-0.3 -0.4zM629.6 101.7l0.3 0.4l-0.3 0.6l-0.5 -0.6zM630.6 102.7l0.3 0.4l-0.3 0.8l-0.6 -0.8zM631.6 103.8l0.2 0.3l-0.2 0.9l-0.7 -0.9zM632.6 104.9l0.2 0.2l-0.2 0.8l-0.8 -0.8zM633.6 105.8l0.4 0.3l-0.4 0.7l-0.8 -0.7zM634.6 106.8l0.4 0.3l-0.4 0.5l-0.6 -0.5zM635.6 107.7l0.5 0.4l-0.5 0.4l-0.5 -0.4zM636.6 108.7l0.5 0.4l-0.5 0.3l-0.3 -0.3zM637.6 109.7l0.9 0.4l-0.9 0.2zM638.6 110.3l1.1 0.8l-0.1 0.8l-1.1 -0.8zM640.6 111.9l0.3 0.2l-0.3 0.7l-0.9 -0.7zM641.6 112.8l0.3 0.3l-0.3 0.6l-0.8 -0.6z" fill="#ffbd00"/>
<path d="M535.6 60.8l1 -0.1l6.8 0.4l-5.8 0.4l-2.6 -0.4zM546.6 61.9l4 -0.2l7.8 0.4l-6.8 0.4l-5.7 -0.4zM561.6 63l4 -0.3l2.8 0.4l-0.8 0.4l-6.3 -0.4zM568.6 63.6l1 0.2l1.2 0.3l-0.2 0.4l-1 0l-1.1 -0.4zM571.6 64.8l1 0.2l0.7 0.1l-0.7 0.4l-1.5 -0.4zM573.6 66.1l1 -0.2l1.1 0.2l-0.1 0.2l-1 0.1zM576.6 66.9l1 0.1l0.6 0.1l-0.6 0.3l-1.4 -0.3zM579.6 67.9l1 0.2l0 0l-1 0.3l-0.8 -0.3zM581.6 69l1 0.1l0.3 0l-0.3 0.2l-1.2 -0.2zM584.6 70l0.5 0.1l-0.5 0.2l-0.7 -0.2zM586.6 71l0.6 0.1l-1 0zM593.6 74.1l0.1 0l-0.2 0z" fill="#ffb300"/>
<path d="M528.6 72l4 0.5l32 2.3l12.9 5.3l15.1 7.2l11 4.4l19 22.1l16.3 14.3l0.5 1l0.2 2l-0.2 4l-1.2 4l-1.6 3.2l-2 2.2l-2 1l-3 0.5l-3 -0.2l-3 -1.1l-5.1 -2.6l-11.9 -3.3l-3 -1.1l-5.4 -4.6l-14.6 -7.1l-1 0.1l-5 3.5l-2 1l-1 0.3l-1 -0.1l-20 -8.5l-13 -1.9l-8 -1.7l-10 -3.3l-4 -1.6l-3 -1.7l-2.2 -2l-1.3 -2l-1.6 -6l0 -3l1.2 -5l1.2 -3l2.1 -4l4 -6l6.1 -7l1.5 -1.4z" fill="#00a7ff"/>
<path d="M527.6 72.8l1 -0.5l1 0l35 2.5l12.8 5.3l15.2 7.2l9.8 3.8l1.2 0.7l19 22.1l13.8 12.2l2 2l0.5 2l0 2l-0.7 3l-1.6 3.6l-2 2.5l-2 1.4l-1 0.3l-3 0.3l-4 -0.6l-5 -1.9l-14 -4.1l-2 -1.3l-4 -3.6l-15 -7.8l-1 0l-1 0.5l-5 3.7l-2 0.1l-22 -9.4l-10 -1.4l-10 -2l-6 -1.7l-5 -2.3l-1.9 -1.3l-1.9 -2l-3.4 -6l-0.7 -3l0.2 -4l1.2 -5l2.7 -6l2.5 -4l3 -4z" fill="#00a4ff"/>
<path d="M528.6 72.7l2 -0.2l9 0.5l25 1.9l12.6 5.2l15.4 7.3l9.6 3.7l1.4 0.8l19 22.1l14.7 13.1l1 2l0.1 2l-0.4 2l-1.4 3.3l-2 2.6l-1 0.9l-2 1l-3 0.5l-3 -0.5l-5 -1.6l-8 -2l-6 -1.9l-2 -1.3l-4 -3.5l-15 -8.1l-1 -0.1l-1 0.4l-5 3.4l-1 0.2l-1 -0.1l-22 -9.5l-11 -1.6l-7 -1.4l-5.5 -1.7l-4.2 -2l-3.3 -2.6l-4.5 -5.4l-1.3 -3l-0.4 -5l0.5 -3l1.1 -4l2.2 -5l3.9 -6l1.7 -2z" fill="#00a0ff"/>
<path d="M528.6 73l2 -0.4l5 0.2l29 2.1l12.5 5.2l15.5 7.3l10 3.9l2 1.6l7.6 9.2l10.4 11.9l14.5 13.1l0.9 2l0 1l-0.2 2l-1.2 3l-2 2.7l-1 0.8l-2 1.1l-3 0.5l-3 -0.4l-5 -1.6l-7 -1.7l-6 -1.9l-2 -1.2l-4 -3.6l-15 -8.3l-1 -0.2l-1 0.2l-5 3.2l-1 0.3l-1 -0.1l-23 -9.6l-10 -1.4l-5 -1l-5.7 -1.8l-4.2 -2l-3.1 -2.2l-5.1 -4.8l-1.6 -3l-0.9 -5l0.2 -3l0.6 -3l1.7 -5l3.4 -6l2.3 -3z" fill="#0098ff"/>
<path d="M530.6 73l8.5 0.1l25.5 2l12.1 5l15.9 7.5l9 3.5l1.9 1l19 22l10.2 9l3 3l0.7 1l0.6 2l-0.3 2l-0.9 2l-2.2 2.4l-2 1.1l-2 0.5l-3 -0.1l-7 -1.7l-5 -1.6l-5 -2.1l-5.5 -4.5l-14.5 -9.3l-1 -0.3l-1 0.1l-3 1.6l-2 0.7l-2 -0.1l-24 -9.6l-14 -2.7l-6 -1.9l-5.6 -2.5l-3.4 -2.6l-2.6 -3.4l-1.6 -4l-0.5 -4l0.6 -5l1.8 -5l2.4 -4l1.9 -1.8z" fill="#008cff"/>
<path d="M532.6 73.1l4 0l28 2.2l11.6 4.8l16.4 7.8l10.5 4.2l1.5 1.4l6.3 7.6l11.3 13l10.2 9l2.9 3l0.6 1l0.4 2l-0.7 2.3l-2 2.3l-2 1l-2 0.5l-3 -0.1l-7 -1.6l-5 -1.8l-4 -1.8l-5 -4.3l-15 -10l-1 -0.3l-1 0.1l-4 1.8l-1.5 -0.1l-25.5 -10.7l-14 -2.1l-5 -1.4l-4.1 -1.8l-3.9 -2.8l-3 -3.2l-1.5 -3l-1.1 -5l0.1 -3l0.4 -2l1 -3l1.4 -3l1.7 -2.1l1 -0.6z" fill="#007fff"/>
<path d="M530.6 73.9l2 -0.6l3 0l27 1.8l2 0.4l11.1 4.6l15.9 7.5l11 4.5l2 1.7l17.4 20.3l12.2 11l0.7 1l0.8 2l-0.3 2l-0.8 1.3l-1 1l-3 1.3l-4 0l-6 -1.4l-5 -1.9l-4 -2l-4 -3.5l-16 -11.3l-1 -0.2l-4 1.3l-2 0l-26 -10.7l-15 -2.4l-4 -1.3l-4 -1.8l-3.6 -2.4l-2.4 -2.4l-1.6 -2.6l-1.3 -4l-0.3 -3l0.7 -4l1.6 -4l0.6 -1z" fill="#0072ff"/>
<path d="M531.6 73.9l2 -0.4l3 0.1l25 1.6l3 0.5l12.8 5.4l14.2 6.8l11 4.5l2 1.8l17.1 19.9l12.1 11l1.2 2l0.2 1l-0.5 2l-1.1 1.3l-1 0.6l-3 0.7l-4 -0.3l-4 -1l-5 -2l-4 -2.1l-4 -3.5l-16 -11.9l-1 -0.2l-1 0.1l-3 1l-2 -0.3l-19 -8.1l-8 -3.1l-14 -2l-5 -1.4l-4 -1.8l-2.8 -2l-2.2 -2.3l-1.7 -2.7l-1.1 -3l-0.2 -4l0.9 -4l1.4 -3z" fill="#0065ff"/>
<path d="M532.6 73.9l4 -0.1l25 1.7l3 0.4l12.2 5.2l15.8 7.5l10 4.1l1.6 1.4l17.4 20.2l10 8.8l1.9 2l1.1 2l-0.1 2l-0.9 1.3l-1 0.7l-2 0.7l-4 -0.2l-5 -1.3l-4 -1.7l-4 -2.1l-4 -3.6l-16 -12.3l-1 -0.3l-1 0l-3 0.8l-1 -0.1l-4 -1.4l-15 -6.6l-9 -3.7l-2 -0.4l-7 -0.7l-6 -0.9l-4 -1.1l-4 -1.6l-3 -2.1l-2.3 -2.4l-1.9 -3l-0.8 -2.9l-0.1 -3.1l0.9 -4l1.2 -2z" fill="#0058ff"/>
<path d="M533.6 74l4 0.1l24 1.6l2.7 0.4l11.9 5l15.4 7.4l11 4.5l1.3 1.1l17.7 20.5l9.7 8.5l1.9 2l1 2l0.1 1l-0.4 1l-1.3 1.2l-1 0.5l-2 0.2l-2 -0.1l-5 -1.3l-5 -2.2l-3.9 -2.3l-4.1 -3.7l-14.1 -11.3l-1.9 -1.1l-4 0.5l-2 -0.4l-4 -1.5l-15 -6.6l-9 -3.6l-14 -1.6l-4 -1l-4 -1.6l-3 -1.9l-2.4 -2.2l-1.6 -2.3l-1.1 -2.7l-0.2 -3l0.7 -4l1.2 -2l1.4 -0.8z" fill="#004bff"/>
<path d="M532.6 74.7l2 -0.5l2 0.1l27 1.9l12 4.9l16 7.7l10 4l2 1.4l18 20.7l10.4 9.2l1.5 2l0.3 1l-0.2 1.4l-1 1.1l-1 0.5l-3 0.2l-4 -0.8l-6 -2.7l-4 -2.4l-4 -3.6l-14.1 -11.7l-1.9 -1.2l-1 -0.2l-3 0.4l-2 -0.4l-5 -1.9l-15 -6.7l-9 -3.4l-14 -1.6l-4 -0.9l-4 -1.7l-3 -1.8l-1.7 -1.6l-1.5 -2l-0.9 -2l-0.5 -3l0.3 -3l0.7 -2l0.9 -1z" fill="#003eff"/>
<path d="M532.6 75.1l2 -0.5l2 -0.1l27 2l11.3 4.6l15.7 7.5l11 4.5l2 1.5l17.9 20.5l10.2 9l1.4 2l0.3 1l-0.2 1l-0.6 0.7l-1 0.6l-2 0.3l-2 -0.2l-4 -1.2l-5 -2.5l-3 -1.8l-20 -17.1l-1 -0.2l-4 -0.1l-3 -1l-17.3 -7.5l-9.7 -3.9l-16 -1.8l-4 -1l-4 -1.8l-3.2 -2.5l-1.5 -2l-0.8 -2l-0.4 -2l0.2 -3l0.7 -2z" fill="#0031ff"/>
<path d="M533.6 75.1l4 -0.2l26 1.8l12.8 5.4l15.2 7.3l10 4l2 1.6l17.6 20.1l10.1 9l1.4 2l0.2 1l-0.3 0.9l-1 0.8l-1 0.3l-3 -0.2l-4 -1.4l-5 -2.7l-3 -2l-18 -15.9l-2 -1.2l-4 -0.2l-3 -1l-19.3 -8.4l-8.7 -3.4l-15 -1.5l-4 -0.8l-4 -1.5l-2 -1.2l-2 -1.9l-1.2 -1.7l-0.8 -2l-0.3 -3l0.4 -2l0.5 -1z" fill="#0025ff"/>
<path d="M533.6 75.6l1 -0.3l2 -0.2l27 1.9l12.1 5.1l15.9 7.7l10 4l2 1.7l17.2 19.6l10.2 9l1.3 2l0 1l-0.7 1l-1 0.3l-3 -0.1l-4 -1.5l-4.7 -2.7l-2.8 -2l-17.5 -15.8l-2 -1.5l-4 -0.3l-5 -1.8l-17.3 -7.6l-9.7 -3.8l-16 -1.5l-4 -0.9l-3 -1.2l-2 -1.3l-1.4 -1.3l-1.8 -3l-0.4 -2l0 -2l0.6 -1.6z" fill="#0018ff"/>
<path d="M534.6 75.7l4 -0.1l23 1.5l2 0.3l11.3 4.7l15.7 7.6l10.9 4.4l2.1 1.8l17 19.4l10 8.8l1.2 2l-0.1 1l-1.1 0.7l-1 0.1l-3 -0.6l-3 -1.3l-5 -3l-2 -1.5l-19 -17.4l-1 -0.4l-4 -0.5l-5 -1.8l-16 -7.1l-10 -4l-2 -0.4l-15 -1.2l-4 -0.9l-3 -1.3l-3 -2.3l-1 -1.4l-0.7 -1.7l-0.3 -2l0.4 -2l0.8 -1z" fill="#000bff"/>
<path d="M535.6 76l6.2 0.1l21.8 1.7l12.5 5.3l15.5 7.5l9 3.5l1.6 1l1 1l17.4 19.6l9.5 8.4l0.8 1l0.2 1l-0.7 1l-0.8 0.2l-2 -0.3l-4 -1.7l-5 -3.2l-19.4 -18l-1.6 -1.1l-4 -0.7l-5 -1.8l-17 -7.4l-10 -4l-2 -0.4l-15 -1.2l-4 -0.8l-3 -1.3l-2.8 -2.3l-1.3 -3l-0.1 -2l0.4 -1l0.8 -0.8z" fill="#0000fd"/>
<path d="M535.6 76.7l4 -0.2l22 1.4l2 0.3l11.4 4.9l15.6 7.6l10.9 4.4l2.1 2l16.9 19l9.1 8l0.6 1l0 1l-0.6 0.3l-1 0.1l-2 -0.5l-3.6 -1.9l-4.4 -3l-20 -18.8l-1 -0.4l-4 -0.8l-5.5 -2l-16.5 -7.3l-10 -4l-16 -1.3l-3 -0.5l-3 -0.8l-3 -1.7l-1.9 -2.4l-0.5 -2l0.1 -1l0.5 -1z" fill="#0000f2"/>
<path d="M537.6 77l19.7 1.1l6.3 0.7l10.1 4.3l15.9 7.8l11 4.4l2 1.5l17.2 19.3l8 7l1 1l0.3 1l-0.5 0.3l-2.2 -0.3l-3.5 -2l-4.3 -3l-18 -17.4l-2 -1.6l-4 -0.9l-5.8 -2.1l-16.2 -7.2l-10 -4l-3 -0.6l-15 -1.1l-5 -1.2l-2.9 -1.9l-1.3 -2l0 -2l1.2 -0.9z" fill="#0000e7"/>
<path d="M537.6 78.1l5 -0.2l18 1.2l3 0.6l10.3 4.4l15.7 7.7l10.6 4.3l2.4 2l16.2 18l6.6 6l0.8 1l-0.6 0.2l-2 -1.1l-4.4 -3.1l-19.6 -19l-1 -0.5l-3 -0.6l-7.8 -2.9l-14.2 -6.4l-11 -4.4l-3 -0.4l-14 -1l-5 -1l-2 -1l-1 -0.8l-0.6 -1l-0.2 -1z" fill="#0000dc"/>
<path d="M541.6 80l7.5 0.1l12.5 0.9l0.8 0.1l4.4 2l-0.2 0.6l-5 -1.2l-18 -1.3l-0.9 -0.1l-1.4 -1zM567.6 83.9l1 0.2l0.1 0l-1.8 0z" fill="#0000d0"/>
<polygon points="383.5,61.7 384.4,59.3 388.9,57.7 395.2,57.3 400.6,59 406,60.6 411.5,61.7 414.2,61.3 415.6,58.4 421.4,59 427.7,57.5 433.1,59.9 438.5,61.3 443.9,62.6 446.6,62 447.9,66.7 450.2,68.9 455.6,68.4 459.8,68 461,69.1 458.3,70.5 452.9,70.7 450.7,71.6 452.9,72.9 456.9,73 463.7,74.3 469.1,75.6 473.6,78.8 475.8,81.5 474.5,85.2 471.5,86.6 470,88.8 466.4,85.7 458.3,84.6 452.9,84.6 447.5,84.1 444.8,86.1 442.6,88.4 437.6,88.4 435.2,88.2 433.1,85.2 428.6,86.1 426.2,87.3 426.8,90.6 423.2,95.1 420.5,99.6 417.8,97.4 416,95.1 414.2,91.8 408.7,88.8 403.3,88.4 396.1,89.3 389.8,88.8 384.4,87.9 379.9,89.7 377.2,91.8 371.8,90.2 367.3,87.3 364.9,84.3 365.8,81.2 370.9,80.3 377.2,82.4 382.6,83.3 389.8,84.3 395.2,84.6 399.7,83 403.3,82.4 402.4,79.7 398.8,77 395.6,73.4 396.1,68.9 397,66.2 392.5,64.4 388.9,63.1 384.4,62.9" fill="none" stroke="#04202e" stroke-opacity="0.3" stroke-width="1.6" stroke-linejoin="round"/>
<polygon points="383.5,61.7 384.4,59.3 388.9,57.7 395.2,57.3 400.6,59 406,60.6 411.5,61.7 414.2,61.3 415.6,58.4 421.4,59 427.7,57.5 433.1,59.9 438.5,61.3 443.9,62.6 446.6,62 447.9,66.7 450.2,68.9 455.6,68.4 459.8,68 461,69.1 458.3,70.5 452.9,70.7 450.7,71.6 452.9,72.9 456.9,73 463.7,74.3 469.1,75.6 473.6,78.8 475.8,81.5 474.5,85.2 471.5,86.6 470,88.8 466.4,85.7 458.3,84.6 452.9,84.6 447.5,84.1 444.8,86.1 442.6,88.4 437.6,88.4 435.2,88.2 433.1,85.2 428.6,86.1 426.2,87.3 426.8,90.6 423.2,95.1 420.5,99.6 417.8,97.4 416,95.1 414.2,91.8 408.7,88.8 403.3,88.4 396.1,89.3 389.8,88.8 384.4,87.9 379.9,89.7 377.2,91.8 371.8,90.2 367.3,87.3 364.9,84.3 365.8,81.2 370.9,80.3 377.2,82.4 382.6,83.3 389.8,84.3 395.2,84.6 399.7,83 403.3,82.4 402.4,79.7 398.8,77 395.6,73.4 396.1,68.9 397,66.2 392.5,64.4 388.9,63.1 384.4,62.9" fill="none" stroke="#04202e" stroke-opacity="0.55" stroke-width="0.7" stroke-linejoin="round"/>
<polygon points="386.2,75.6 390.7,75.2 395.2,78.8 394.3,80.1 389.8,78.3 386.6,76.7" fill="none" stroke="#04202e" stroke-opacity="0.3" stroke-width="1.6" stroke-linejoin="round"/>
<polygon points="386.2,75.6 390.7,75.2 395.2,78.8 394.3,80.1 389.8,78.3 386.6,76.7" fill="none" stroke="#04202e" stroke-opacity="0.55" stroke-width="0.7" stroke-linejoin="round"/>
<polygon points="392.5,55 398.5,55.9 397.9,56.6 392.5,55.9" fill="none" stroke="#04202e" stroke-opacity="0.3" stroke-width="1.6" stroke-linejoin="round"/>
<polygon points="392.5,55 398.5,55.9 397.9,56.6 392.5,55.9" fill="none" stroke="#04202e" stroke-opacity="0.55" stroke-width="0.7" stroke-linejoin="round"/>
<polygon points="494.9,85.9 496.7,83.7 503.4,83.5 510.6,83.5 516,83.9 521.4,84.8 524.6,85.5 524.6,88.4 522.3,90.9 518.7,92.9 513.3,93.7 507,92.9 500.7,93.3 496.2,93.3 496.2,89.7" fill="none" stroke="#04202e" stroke-opacity="0.3" stroke-width="1.6" stroke-linejoin="round"/>
<polygon points="494.9,85.9 496.7,83.7 503.4,83.5 510.6,83.5 516,83.9 521.4,84.8 524.6,85.5 524.6,88.4 522.3,90.9 518.7,92.9 513.3,93.7 507,92.9 500.7,93.3 496.2,93.3 496.2,89.7" fill="none" stroke="#04202e" stroke-opacity="0.55" stroke-width="0.7" stroke-linejoin="round"/>
<g filter="url(#tex)">
<polygon points="383.5,61.7 384.4,59.3 388.9,57.7 395.2,57.3 400.6,59 406,60.6 411.5,61.7 414.2,61.3 415.6,58.4 421.4,59 427.7,57.5 433.1,59.9 438.5,61.3 443.9,62.6 446.6,62 447.9,66.7 450.2,68.9 455.6,68.4 459.8,68 461,69.1 458.3,70.5 452.9,70.7 450.7,71.6 452.9,72.9 456.9,73 463.7,74.3 469.1,75.6 473.6,78.8 475.8,81.5 474.5,85.2 471.5,86.6 470,88.8 466.4,85.7 458.3,84.6 452.9,84.6 447.5,84.1 444.8,86.1 442.6,88.4 437.6,88.4 435.2,88.2 433.1,85.2 428.6,86.1 426.2,87.3 426.8,90.6 423.2,95.1 420.5,99.6 417.8,97.4 416,95.1 414.2,91.8 408.7,88.8 403.3,88.4 396.1,89.3 389.8,88.8 384.4,87.9 379.9,89.7 377.2,91.8 371.8,90.2 367.3,87.3 364.9,84.3 365.8,81.2 370.9,80.3 377.2,82.4 382.6,83.3 389.8,84.3 395.2,84.6 399.7,83 403.3,82.4 402.4,79.7 398.8,77 395.6,73.4 396.1,68.9 397,66.2 392.5,64.4 388.9,63.1 384.4,62.9" fill="#4b5a3a"/>
<polygon points="386.2,75.6 390.7,75.2 395.2,78.8 394.3,80.1 389.8,78.3 386.6,76.7" fill="#4b5a3a"/>
<polygon points="392.5,55 398.5,55.9 397.9,56.6 392.5,55.9" fill="#4b5a3a"/>
<polygon points="494.9,85.9 496.7,83.7 503.4,83.5 510.6,83.5 516,83.9 521.4,84.8 524.6,85.5 524.6,88.4 522.3,90.9 518.7,92.9 513.3,93.7 507,92.9 500.7,93.3 496.2,93.3 496.2,89.7" fill="#4b5a3a"/>
</g>
<ellipse cx="416.8" cy="84.7" rx="3.6" ry="0.9" fill="#0aa6f0" transform="rotate(8 416.8 84.7)"/>
<path d="M376.5 33.9 L381.8 30.7 L388.2 27.5 L393.5 28.6 L396.7 26.5 L393.5 31.8 L391.4 36 L389.3 40.3 L380.8 40.8 L377.1 38.1ZM375 29.1 L380.8 24.4 L388.2 22.2 L398.8 23.3 L402.5 27 L398.8 30.7 L395.1 33.9 L393.5 39.2 L388.2 42.4 L378.7 41.9 L375 37.1ZM378.7 42.4 L393.5 40.8 L396.7 42.9 L392.4 46.1 L380.8 44.5ZM373.9 48.8 L382.9 49.8 L393.5 50.9 L407.3 53 L420 55.1 L431.7 54.6 L442.3 54.1M373.9 54.1 L380.8 54.6 L388.2 53 L396.7 54.1 L404.1 56.2 L408.4 58M393 21.2 L397.8 22.8 L400.9 25.4M414.7 42.4 L423.2 43.5 L431.7 44.5 L437 46.6 L441.2 48.8M409.4 22.8 L414.2 27 L416.8 31.8 L417.4 38.1 L414.7 40.8M375.5 24.4 L377.1 26 L376 27 L375 25.6ZM438.1 26.5 L442.3 29.7 L447.6 31.8 L452.9 35 L458.2 38.1 L463.5 41.3 L468.8 46.6 L473.1 53 L475.2 58M447.6 30.7 L450.3 30.5 L450.8 33.4 L448.1 33.9ZM447.6 42.4 L452.9 44.5 L457.1 46.6M442.3 54.1 L450.8 55.1 L456.1 49.8 L458.2 45.6M435.9 33.9 L440.2 36 L443.4 39.2 L444.4 45.6 L442.3 49.8 L439.1 53M626.1 53.8 L632.7 52.5 L631.4 59.1 L626.1 61.8 L628.7 67.1M635.4 57.8 L640.7 60.4 L644.6 55.1 L648.6 61.8 L647.3 68M659.9 31.3 L659.2 40.5 L653.9 46.5 L655.2 52.5 L649.9 57.8 L653.9 59.1 L656.6 55.1 L662.3 56.5M583.6 48.5 L586.3 48.5 L586.3 51.2 L583.6 51.2ZM590.3 44.5 L592.2 43.2 L592.9 45.2 L590.9 46.1ZM375.3 56 L387.3 54.5 L402.3 55.5 L417.3 57 L432.3 56 L447.3 55.5 L460.3 58 L468.3 62M375.3 52.5 L390.3 51 L408.3 52.5 L426.3 53.5 L442.3 52 L454.3 53.5 L464.3 58M422.3 49 L437.3 48.5 L450.3 50 L460.3 54M375.3 68 L380.3 72 L386.3 75 L392.3 78 L398.3 80M376.3 62 L382.3 66 L388.3 72 L394.3 76M378.3 76 L386.3 79 L394.3 81M375.3 66.9 L378.3 66.3 L381.8 70.5 L380.7 72.9 L377.1 70.5ZM374.7 74.1 L379.5 72.9 L383 76.5 L379.5 78.9 L375.3 78.3ZM373.5 62.2 L377.1 59.8 L381.8 57.4 L384.2 59.2M374.1 82.4 L379.5 81.8 L386.6 84.2 L392.6 83.6 L396.2 86M375.9 90.8 L383 89.6 L390.2 92 L393.8 96.8M384.2 72.9 L387.8 73.5 L393.8 75.9 L398 78.9M377.1 80.1 L383 79.5 L389 81.5 L393.8 81M411.7 94.4 L413.5 90.8 L415.9 89 L420 89.6 L422.3 90.8M412.9 98 L415.3 93.2 L418.8 92 L422.3 92.9M427.2 89.7 L421 94.8 L416.8 99 L414.7 105.2 L413.7 111.4 L409.6 119.7M431.3 90.7 L424.1 99 L418.9 106.2 L415.8 114.5M403.4 120.7 L405.4 122.2 L402.9 124.2 L400.9 122.8ZM396.1 126.3 L398.2 127.6 L395.5 129 L393.8 127.8ZM386.8 140.8 L385.1 145.6 L383.1 146.2 L384.3 142ZM373.3 92.8 L384.7 90.7 L393 94.8 L395.1 98M373.3 89.7 L382.7 89 L392 90.7 L401.3 91.7 L411.6 90.7M432.3 89.7 L440.6 87.6 L448.9 90.7 L459.3 89.7 L467.5 92.8 L472.3 91.7M434.4 93.8 L442.7 91.7 L451 93.8 L461.3 94.8 L472.3 95.9M448.9 101.1 L459.3 99 L469.6 101.1 L472.3 103.1M451 106.2 L461.3 104.2 L472.3 107.3M472.3 87.5 L481.1 88.2 L494.2 89.7 L501.5 91.9 L507.3 94.1M472.3 95.5 L486.9 97 L495.7 96.2 L507.3 97.7M521.9 94.8 L533.6 92.6 L548.2 91.1 L559.9 94.1 L572.3 92.6M472.3 105 L486.9 105.7 L501.5 104.3 L511.7 106.5 L516.1 104.3 L530.7 103.5 L540.9 104.3 L551.1 101.4M486.9 111.6 L492.7 113 L494.2 115.2 L498.6 113 L499.3 109.4M511.7 107.2 L513.9 113 L512.4 109.4M558.4 106.5 L565.7 104.3 L572.3 102.8M551.9 97 L552.3 107.2 L551.6 117.4 L552.6 127.9M562.3 92.8 L570.6 95.9 L576.8 101.1 L582 109.3 L583 119.7M568.5 90.7 L578.9 94.8 L587.1 103.1 L591.3 113.5 L593.4 123.8 L597.5 134.2M595.4 105.2 L603.7 104.2 L612 107.3 L622.3 106.2 L630.6 111.4 L636.8 121.8 L645.1 125.9 L655.5 134.2 L662.3 138.3M599.6 111.4 L609.9 111.4 L614.1 117.6 L624.4 116.6 L630.6 121.8 L632.7 128M603.7 119.7 L612 121.8 L616.1 128 L614.1 136.3 L607.8 142.5M574.7 138.3 L583 141.4 L591.3 144.5 L599.6 142.5M620.3 134.2 L624.4 133.1 L628.1 137.3 L626.5 140.4 L622.3 138.3ZM648.2 112.9 L653.4 111 L659.6 112.4 L661.3 115.1 L655.5 116.6 L649.3 115.5ZM593.4 90.7 L601.6 94.8 L605.8 101.1 L604.7 109.3M564.4 101.1 L570.6 105.2 L574.7 111.4 L572.7 117.6M595.7 101.7 L602.4 104.2 L612.5 105.1 L617.5 110.1 L625.8 111.8 L632.5 118.4 L635.9 126.8 L642.6 131.8 L652.6 135.2 L662.3 140.2M598.3 106.7 L605.8 107.6 L610.8 113.4 L617.5 115.9 L620.8 121.8 L629.2 124.3 L634.2 130.2M590.7 116.8 L595.7 118.4 L600.8 116.8 L610.8 120.1 L612.5 125.1 L607.5 128.5 L602.4 126.8 L599.1 131.8 L604.1 135.2M592.4 125.1 L595.7 128.5 L594.1 133.5 L597.4 138.5 L602.4 141.9 L607.5 140.2 L610.8 145.2M620 133.5 L623.3 133.8 L627.2 137.7 L625.5 140.2 L621.7 138.2ZM565.6 98.4 L570.7 101.7 L577.4 103.4 L582.4 108.4 L579 113.4M562.3 106.7 L569 110.1 L574 116.8 L572.3 123.5 L567.3 126.8M574 138.5 L580.7 141 L587.4 140.2 L594.1 143.5M564 143.5 L565.6 144.9 L564.3 146 L563 144.9ZM612.5 106.7 L619.2 105.9 L624.2 108.4 L629.2 107.6 L634.2 111.8M464.3 66 L470.3 70 L476.3 76 L482.3 80M482.3 70 L492.3 68.5 L502.3 70 L512.3 68.5 L524.3 66.5 L537.3 66.5 L547.3 69 L557.3 71 L567.3 72M520.3 71.5 L532.3 71 L542.3 73 L554.3 76 L567.3 80 L578.3 84 L588.3 90M472.3 82 L492.3 80.5 L517.3 79 L542.3 79.5 L562.3 82 L577.3 87 L592.3 94 L604.3 100M477.3 87 L502.3 85 L532.3 84 L557.3 87 L577.3 93 L592.3 101 L600.3 110" fill="none" stroke="#04202e" stroke-opacity="0.78" stroke-width="0.45" stroke-linejoin="round"/>
<path d="M382.4 36.6 L385.6 30.2 L390.9 28.6 L397.8 27 L403.1 28.6 L406.8 32.8 L409.4 37.6 L410.7 41.9M404.1 28.1 L407.8 31.8 L410.7 37.1 L412.1 41.9" fill="none" stroke="#04202e" stroke-opacity="0.78" stroke-width="1.35" stroke-linejoin="round"/>
<path d="M384 37.1 L387.1 31.6 L391.9 30.2 L397.8 28.6 L402.2 30.2 L405.4 33.9 L407.8 38.7 L408.9 42.2M411 22.2 L415.8 25.4 L421.1 26.5 L417.9 30.7 L419 37.1 L423.2 31.8 L427.4 27.5 L431.7 32.8 L425.3 38.1 L429.6 38.7 L435.9 35 L440.2 39.2 L438 45.6 L435.9 49.8M508.1 96.2 L520.5 96.2 L520.5 102.1 L508.1 102.1ZM511 97.7 L517.6 97.7 L517.6 100.6 L511 100.6ZM444.1 39.3 L444.8 44.1 L443 47.5 L445.2 50.5 L447.1 52 L453.1 52 L454.2 49.4 L457.2 47.5 L457.9 44.5 L451.6 41.9 L448.2 38.9ZM450.1 52 L451.9 52.4 L450.8 55.1 L448.2 56.2 L447.1 55.4 L448.9 53.5ZM459.8 46.4 L462.4 47.9 L461.3 49.8 L459 51.3 L457.5 55.4 L456.1 55.1 L457.9 50.9 L459 47.9ZM466.9 49.8 L468 52.4 L469.5 57.3 L467.3 58.8 L463.5 59.2 L462.4 57.7 L464.6 52.4ZM466.1 51.7 L467.1 53.5 L468.2 56.8 L466.7 57.8 L464.3 58 L463.7 57.1 L465.2 53.5ZM459.8 38.9 L463.5 41.1 L465.8 43.4 L468.8 44.9 L471 49.4 L473.2 53.5 L475.5 57.3 L477 59.2" fill="none" stroke="#04202e" stroke-opacity="0.78" stroke-width="0.9" stroke-linejoin="round"/>
<path d="M446 38.9 L447.8 39.6 L450.8 42.6 L456.8 44.9 L456.1 47.2 L453.4 48.7 L452.7 51.3 L447.1 51.3 L445.6 49.4 L447.1 45.7 L446.3 41.9Z" fill="none" stroke="#04202e" stroke-opacity="0.78" stroke-width="1.12" stroke-linejoin="round"/>
<ellipse cx="541.8" cy="96.5" rx="6" ry="2.2" transform="rotate(-25 541.8 96.5)" fill="#39434a" fill-opacity="0.75"/>
<ellipse cx="513.8" cy="99" rx="2.2" ry="2" transform="rotate(0 513.8 99)" fill="#39434a" fill-opacity="0.75"/>
<ellipse cx="594.9" cy="122.6" rx="1.5" ry="2.4" transform="rotate(10 594.9 122.6)" fill="#39434a" fill-opacity="0.75"/>
<ellipse cx="599.9" cy="122.6" rx="1.3" ry="1.6" transform="rotate(0 599.9 122.6)" fill="#39434a" fill-opacity="0.75"/>
<ellipse cx="601.6" cy="138.5" rx="1.4" ry="2.6" transform="rotate(15 601.6 138.5)" fill="#39434a" fill-opacity="0.75"/>
<ellipse cx="593.3" cy="109.3" rx="1.2" ry="1.2" transform="rotate(0 593.3 109.3)" fill="#39434a" fill-opacity="0.75"/>
<ellipse cx="588.8" cy="108.5" rx="1" ry="1" transform="rotate(0 588.8 108.5)" fill="#39434a" fill-opacity="0.75"/>
<ellipse cx="567.3" cy="101" rx="1.2" ry="0.8" transform="rotate(0 567.3 101)" fill="#39434a" fill-opacity="0.75"/>
<ellipse cx="545.3" cy="94.5" rx="2" ry="1" transform="rotate(-25 545.3 94.5)" fill="#39434a" fill-opacity="0.75"/>
<ellipse cx="384.1" cy="37.6" rx="4.6" ry="1.3" transform="rotate(-12 384.1 37.6)" fill="#8f8468" fill-opacity="0.95"/>
<ellipse cx="414.8" cy="24.5" rx="2.2" ry="0.8" transform="rotate(25 414.8 24.5)" fill="#8f8468" fill-opacity="0.95"/>
<g font-family="'Liberation Sans', sans-serif" fill="#06141e" stroke="#06141e" stroke-width="0.28" text-anchor="middle">
<text font-size="5" transform="translate(408.3 27.5) rotate(60)" y="1.8">-2500</text>
<text font-size="5" transform="translate(446.3 41) rotate(88)" y="1.8">-5000</text>
<text font-size="5" transform="translate(446.5 50) rotate(92)" y="1.8">-2500</text>
<text font-size="5" transform="translate(463.8 52) rotate(72)" y="1.8">-2500</text>
<text font-size="5" transform="translate(469.8 56) rotate(68)" y="1.8">-1000</text>
<text font-size="5" transform="translate(408.8 37.5) rotate(66)" y="1.8">-2500</text>
<text font-size="5" transform="translate(593.8 128) rotate(-80)" y="1.8">-2500</text>
<text font-size="5" transform="translate(580.3 107) rotate(-60)" y="1.8">-2500</text>
<text font-size="5" transform="translate(519.3 102) rotate(85)" y="1.8">-5000</text>
<text font-size="5" transform="translate(510.3 97.5) rotate(10)" y="1.8">-1000</text>
<text font-size="5" transform="translate(543.3 98.5) rotate(-25)" y="1.8">-1000</text>
<text font-size="5" transform="translate(405.8 33) rotate(62)" y="1.8">-5000</text>
<text font-size="5" transform="translate(445.9 45) rotate(90)" y="1.8">-5000</text>
<text font-size="5" transform="translate(460.3 48.5) rotate(75)" y="1.8">-5000</text>
<text font-size="5" transform="translate(467.8 51.5) rotate(70)" y="1.8">-5000</text>
<text font-size="5" transform="translate(605.8 60.5) rotate(-42)" y="1.8">-5000</text>
<text font-size="5" transform="translate(622.8 57.5) rotate(-72)" y="1.8">-5000</text>
<text font-size="5" transform="translate(638.3 64) rotate(40)" y="1.8">-5000</text>
<text font-size="5" transform="translate(400.3 132.5) rotate(-25)" y="1.8">-2500</text>
<text font-size="5" transform="translate(648.3 104) rotate(-38)" y="1.8">-5000</text>
<text font-size="5" transform="translate(575.3 99.5) rotate(-55)" y="1.8">-5000</text>
<text font-size="5" transform="translate(583.3 117) rotate(-78)" y="1.8">-1000</text>
<text font-size="5" transform="translate(592.3 140.5) rotate(25)" y="1.8">-2500</text>
<text font-size="5" transform="translate(518.3 72.3) rotate(-2)" y="1.8">-5000</text>
<text font-size="5" transform="translate(560.3 72) rotate(5)" y="1.8">-5000</text>
<text font-size="5" transform="translate(397.3 78) rotate(35)" y="1.8">-1000</text>
<text font-size="5" transform="translate(538.3 96) rotate(-25)" y="1.8">-2500</text>
<text font-size="5" transform="translate(513.3 99) rotate(80)" y="1.8">-2500</text>
</g>
<path d="M531.9 59.3 L549.5 60.6 L567.2 61.7 L582.7 67.9 L597.7 74.5 L612.4 79.7 L622.6 92 L632.9 104 L645.5 115M531.5 66.9 L548.9 67.9 L565.4 69.3 L579.4 74.6 L593.9 81.5 L608.6 87.1 L616.2 96.8 L627 108.8 L639.5 120.5M531 74.5 L548.2 75.2 L563.5 76.9 L576 81.2 L590 88.5 L604.8 94.4 L609.9 101.6 L621 113.5 L633.5 126M531.9 59.3L531 74.5M549.5 60.6L548.2 75.2M567.2 61.7L563.5 76.9M582.7 67.9L576 81.2M597.7 74.5L590 88.5M612.4 79.7L604.8 94.4M622.6 92L609.9 101.6M632.9 104L621 113.5M645.5 115L633.5 126M567.2 61.7L561.6 76.3M612.4 79.7L600.6 89.6" fill="none" stroke="#fff" stroke-width="0.8" stroke-opacity="0.92"/>
</g>
<rect x="373.6" y="20.1" width="288.4" height="126.5" fill="none" stroke="#3c3c3c" stroke-width="0.9"/>
<path d="M373.6 146.6v3.2M373.6 20.1v-3.2M382.6 146.6v1.8M382.6 20.1v-1.8M391.6 146.6v1.8M391.6 20.1v-1.8M400.6 146.6v1.8M400.6 20.1v-1.8M409.7 146.6v3.2M409.7 20.1v-3.2M418.7 146.6v1.8M418.7 20.1v-1.8M427.7 146.6v1.8M427.7 20.1v-1.8M436.7 146.6v1.8M436.7 20.1v-1.8M445.7 146.6v3.2M445.7 20.1v-3.2M454.7 146.6v1.8M454.7 20.1v-1.8M463.7 146.6v1.8M463.7 20.1v-1.8M472.7 146.6v1.8M472.7 20.1v-1.8M481.8 146.6v3.2M481.8 20.1v-3.2M490.8 146.6v1.8M490.8 20.1v-1.8M499.8 146.6v1.8M499.8 20.1v-1.8M508.8 146.6v1.8M508.8 20.1v-1.8M517.8 146.6v3.2M517.8 20.1v-3.2M526.8 146.6v1.8M526.8 20.1v-1.8M535.8 146.6v1.8M535.8 20.1v-1.8M544.8 146.6v1.8M544.8 20.1v-1.8M553.9 146.6v3.2M553.9 20.1v-3.2M562.9 146.6v1.8M562.9 20.1v-1.8M571.9 146.6v1.8M571.9 20.1v-1.8M580.9 146.6v1.8M580.9 20.1v-1.8M589.9 146.6v3.2M589.9 20.1v-3.2M598.9 146.6v1.8M598.9 20.1v-1.8M607.9 146.6v1.8M607.9 20.1v-1.8M616.9 146.6v1.8M616.9 20.1v-1.8M626 146.6v3.2M626 20.1v-3.2M635 146.6v1.8M635 20.1v-1.8M644 146.6v1.8M644 20.1v-1.8M653 146.6v1.8M653 20.1v-1.8M662 146.6v3.2M662 20.1v-3.2M373.6 146.6h-3.2M662 146.6h3.2M373.6 142.1h-1.8M662 142.1h1.8M373.6 137.6h-1.8M662 137.6h1.8M373.6 133h-1.8M662 133h1.8M373.6 128.5h-3.2M662 128.5h3.2M373.6 124h-1.8M662 124h1.8M373.6 119.5h-1.8M662 119.5h1.8M373.6 115h-1.8M662 115h1.8M373.6 110.5h-3.2M662 110.5h3.2M373.6 105.9h-1.8M662 105.9h1.8M373.6 101.4h-1.8M662 101.4h1.8M373.6 96.9h-1.8M662 96.9h1.8M373.6 92.4h-3.2M662 92.4h3.2M373.6 87.9h-1.8M662 87.9h1.8M373.6 83.3h-1.8M662 83.3h1.8M373.6 78.8h-1.8M662 78.8h1.8M373.6 74.3h-3.2M662 74.3h3.2M373.6 69.8h-1.8M662 69.8h1.8M373.6 65.3h-1.8M662 65.3h1.8M373.6 60.8h-1.8M662 60.8h1.8M373.6 56.2h-3.2M662 56.2h3.2M373.6 51.7h-1.8M662 51.7h1.8M373.6 47.2h-1.8M662 47.2h1.8M373.6 42.7h-1.8M662 42.7h1.8M373.6 38.2h-3.2M662 38.2h3.2M373.6 33.7h-1.8M662 33.7h1.8M373.6 29.1h-1.8M662 29.1h1.8M373.6 24.6h-1.8M662 24.6h1.8M373.6 20.1h-3.2M662 20.1h3.2" stroke="#3c3c3c" stroke-width="0.8" fill="none"/>
<g font-family="'Liberation Serif', serif" font-size="9.7" fill="#1a1a1a">
<text x="373.6" y="162.5" text-anchor="middle">-74</text>
<text x="409.7" y="162.5" text-anchor="middle">-72</text>
<text x="445.7" y="162.5" text-anchor="middle">-70</text>
<text x="481.8" y="162.5" text-anchor="middle">-68</text>
<text x="517.8" y="162.5" text-anchor="middle">-66</text>
<text x="553.9" y="162.5" text-anchor="middle">-64</text>
<text x="589.9" y="162.5" text-anchor="middle">-62</text>
<text x="626" y="162.5" text-anchor="middle">-60</text>
<text x="662" y="162.5" text-anchor="middle">-58</text>
<text x="367" y="149.3" text-anchor="end">15</text>
<text x="367" y="131.5" text-anchor="end">16</text>
<text x="367" y="113.7" text-anchor="end">17</text>
<text x="367" y="95.9" text-anchor="end">18</text>
<text x="367" y="78.1" text-anchor="end">19</text>
<text x="367" y="60.3" text-anchor="end">20</text>
<text x="367" y="42.5" text-anchor="end">21</text>
<text x="367" y="24.7" text-anchor="end">22</text>
</g>
<g font-family="'Liberation Serif', serif" fill="#1a1a1a">
<text x="518.1" y="176.7" text-anchor="middle" font-size="13">Lon. E. (deg.)</text>
<text transform="translate(352.5 84.1) rotate(-90)" text-anchor="middle" font-size="12.9">Lat. N. (deg.)</text>
<text x="511.5" y="10.9" text-anchor="middle" font-size="14.7" fill="#000">(b)</text>
</g>
<rect x="667.8" y="20.1" width="5.4" height="126.5" fill="url(#jetab)"/>
<g font-family="'Liberation Serif', serif" font-size="9.7" fill="#1a1a1a">
<text x="676.8" y="23.4">3</text>
<text x="676.8" y="55">2</text>
<text x="676.8" y="86.6">1</text>
<text x="676.8" y="118.3">0</text>
<text x="676.8" y="149.9">-1</text>
</g>
<g clip-path="url(#cc)">
<rect x="197" y="216" width="289" height="129" fill="#00d4ff"/>
<path d="M335.3 229.4l31 -0.9l26 2.4l8 1l14 2.7l8 2.2l6.1 2.6l3.1 2l2 2l2.3 4l0.2 2l0.6 1l-1.8 2l-5.6 4l0.1 4l-0.3 4l-0.7 2.9l-0.2 3.1l-1 6l-1.1 3l-1.7 1.2l-2 0.1l-29 -3.7l-29 -2.1l-28 1.1l-30 1.8l-27.8 2.6l-30.2 3.4l-2 -0.2l-1.5 -1.2l-1 -3l-0.5 -4.7l-0.7 -3.3l-0.3 -4.2l-0.7 -3.8l0 -2l0.4 -1l-0.3 -1l-5.3 -4l-1.8 -2l0.6 -1l0.3 -2l2.3 -4l1.5 -1.6l2 -1.4l5 -2.5l6 -1.9l8 -1.9l11 -1.9l31 -3.6z" fill="#00d9ff"/>
<path d="M347.3 234.4l19 -0.5l18 1.7l14 1.6l9 1.9l7 1.9l5 1.8l6 2.9l2.4 1.7l1.8 2l0.7 2l-0.6 3l-0.9 2l0.5 3l-0.3 3l-0.6 2.8l-0.4 4.2l-0.6 2.6l-0.4 3.4l-1.3 4l-1.3 1l-2 0.2l-29 -3.6l-29 -2.1l-28 1l-30 1.9l-28.4 2.6l-29.6 3.3l-2 -0.3l-1.6 -2l-1.1 -5l-1.6 -13l-0.1 -1l0.5 -3l-0.6 -1l-0.8 -4l0.7 -2l2 -2l2.6 -1.8l4 -1.9l6 -2.3l7 -1.9l9 -1.7l11 -1.6l21 -2.3l30 -2.1z" fill="#00dcff"/>
<path d="M336.3 240.4l31 -0.9l30 2.7l14 2.4l8 2.3l4 2.3l2.5 2.2l2.2 3l0.3 2.4l0.6 1.6l0.1 2l-0.7 3.4l-0.4 4.6l-0.6 2.2l-0.4 3.8l-1 4l-1.6 1.9l-2 0.2l-29 -3.6l-29 -2.1l-28 1l-30 1.9l-29.1 2.7l-28.9 3.3l-2 -0.5l-1.3 -1.8l-1.3 -6l-1.2 -9l-0.2 -4l0.5 -4l0.5 -1.1l3 -3.7l2.8 -2.2l2.1 -1l4.1 -1.4l6 -1.4l17 -2.5l25 -2.6z" fill="#00dfff"/>
<path d="M356.3 242.4l10 -0.3l31 2.6l8 1.2l7 1.4l5 1.6l4 1.7l6 4.1l1.5 3.7l0 2l-0.9 7l-1.2 7l-1 4l-1.4 1.7l-2 0.3l-29 -3.5l-29 -2.1l-28 1l-30 1.9l-29 2.6l-29 3.3l-1 -0.1l-1 -0.4l-0.7 -0.7l-0.8 -2l-1.1 -6l-1.3 -10l0 -3l0.9 -2.7l1 -1.3l4 -2.7l3 -1.6l3 -1.2l6 -1.6l9 -1.6l34 -3.5l31 -2z" fill="#00e7ff"/>
<path d="M339.3 249.4l22 -0.9l7 0.1l28 2.1l24 3l5 1.2l2 1.4l0.6 1.1l0.5 2l-0.5 5l-2 12l-1.4 3l-1.2 0.7l-1 0l-29 -3.5l-28 -2.1l-29 1.1l-29.7 1.8l-29.3 2.7l-29 3.2l-1 -0.1l-1 -0.8l-0.6 -1l-1.1 -4l-2 -15l0.1 -1l1.1 -2l0.5 -0.7l2 -0.9l5 -1l9 -1.1l41 -4z" fill="#00f4ff"/>
<path d="M338.3 250.4l20 -0.9l12 0.1l26 2l25 3l5 1.2l1.3 1.6l0.5 1l0.1 1l-1.3 10l-1.4 7l-1.2 2.7l-1 0.7l-1 0.1l-29 -3.5l-29 -2.1l-28 1l-30 1.9l-29 2.7l-29 3.1l-1.5 -0.6l-1.2 -2l-1.8 -10l-1 -8l0.8 -2l0.7 -1l1 -0.7l6 -1.1l18 -2l32 -3l30 -2z" fill="#02fffd"/>
<path d="M352.3 250.3l12 -0.6l4 0.1l4.1 0.6l22.9 1.5l2.5 0.5l5.5 0.4l2.8 0.6l6.2 0.5l2.1 0.5l5.9 0.5l5 0.8l1.3 0.7l1.4 2l0.1 1l-1.2 9l-1.1 6l-0.8 3l-0.7 1.2l-0.9 0.8l-1.1 0.2l-29 -3.4l-29 -2.1l-28 1l-30 1.9l-30 2.7l-27 3l-1 0.1l-1.1 -0.4l-0.9 -1.1l-0.7 -1.9l-1.8 -10l-0.8 -7l0.8 -2l1.5 -1.4l7 -1.1l15.8 -1.5l3.2 -0.6l17.2 -1.4l3.8 -0.6l7 -0.4l4 -0.6l25.5 -1.4l6.5 -0.7z" fill="#0ffff0"/>
<path d="M357.3 250.4l9 -0.4l26 1.9l33 4l1 0.5l0.8 1l0.7 1l0.2 1l-1.3 9l-1.1 6l-0.9 3l-1.4 1.8l-1 0.2l-29 -3.5l-29 -2.1l-28 1.1l-30 1.8l-30 2.8l-27 3l-1 0l-1 -0.4l-1 -1.3l-0.5 -1.4l-2 -11l-0.5 -6l0.1 -1l0.9 -1.3l1 -0.8l1 -0.4l27 -3l32 -3l31 -1.9z" fill="#1bffe4"/>
<path d="M362.3 250.4l4 -0.1l25 1.8l9 0.9l25 3.1l1 0.5l0.7 0.8l0.6 1l0.2 1l-2 13l-1.3 5l-1.2 1.5l-2 0.2l-27 -3.3l-29 -2.2l-29 1l-30 1.9l-29 2.7l-28 3.1l-1 -0.1l-1 -0.4l-0.9 -1.4l-0.7 -2l-1.9 -11l-0.4 -5l0.1 -1l0.8 -1l1 -0.9l1 -0.4l28 -3.1l32 -2.9l33 -2z" fill="#28ffd7"/>
<path d="M339.3 251.4l27 -0.9l30 2.2l29 3.7l1 0.4l0.5 0.6l0.7 1l0.2 1l-0.9 7l-2.1 10l-1.4 2.2l-2 0.2l-27 -3.2l-29 -2.2l-29 1l-30 1.9l-29 2.6l-28 3.1l-1 0l-1 -0.5l-0.7 -1.1l-0.7 -2l-1.2 -6l-1.3 -10l0.2 -1l1.7 -1.8l3 -0.6l26 -2.8l23 -2.2l11 -0.9z" fill="#35ffca"/>
<path d="M343.3 251.4l23 -0.8l30 2.3l29 3.6l1.3 0.9l0.7 1l0.3 1l-0.9 7l-1.8 9l-0.9 2l-0.7 0.9l-1 0.3l-28 -3.3l-28 -2.1l-16 0.4l-14 0.6l-30 1.8l-29 2.7l-28 3.1l-1 -0.1l-1 -0.5l-1.3 -2.8l-1.2 -6l-1.3 -10l0.2 -1l0.6 -0.7l1 -0.9l1 -0.3l29 -3.2l29 -2.7z" fill="#42ffbd"/>
<path d="M347.3 251.4l19 -0.7l30 2.3l29 3.6l1.2 0.8l0.7 1l0.3 1l-0.8 6l-2 10l-0.4 1.2l-1 1.4l-1 0.3l-1 0l-28 -3.3l-27 -2.1l-4 0.1l-26 0.9l-30 1.9l-29 2.7l-28 3l-1 0l-1 -0.6l-0.8 -1.5l-0.6 -2l-1.1 -6l-1.2 -9l0.7 -1.6l1 -0.8l1 -0.4l27 -3l32 -3l31 -1.9z" fill="#4effb1"/>
<path d="M351.3 251.4l14 -0.6l12 0.8l23 2l25 3.1l1 0.7l0.9 1l0.2 1l-1.5 10l-1.3 6l-1.3 2.3l-1 0.4l-1 0l-27 -3.3l-30 -2.2l-28 1.1l-30 1.8l-29 2.7l-28 3.1l-1 -0.1l-1 -0.6l-1.3 -3.2l-1.1 -6l-1.2 -9l0.6 -1.5l1 -0.8l1 -0.4l28 -3.1l31 -2.9l33 -1.9z" fill="#5bffa4"/>
<path d="M354.3 251.4l11 -0.5l25 1.8l10 1l25 3.1l1.8 1.6l0.2 1l-1.5 10l-1.4 6l-1.1 2l-1 0.5l-1 -0.1l-27 -3.2l-29 -2.2l-29 1l-30 1.9l-30 2.8l-27 2.9l-1 -0.1l-1 -0.6l-1.1 -2.9l-1.4 -7l-1.1 -8l0.6 -1.3l2 -1.3l28 -3.1l32 -2.9l33 -2z" fill="#68ff97"/>
<path d="M358.3 251.4l7 -0.4l24 1.7l11 1.1l25 3.1l1.7 1.5l0.2 1l-1.4 10l-1.5 6l-1 1.8l-1 0.4l-1 0l-27 -3.3l-30 -2.1l-28 1l-30 1.8l-30 2.8l-27 3l-1 -0.1l-1 -0.7l-1 -2.6l-1.4 -7l-1 -7l-0.1 -1l0.4 -1l2.1 -1.5l28 -3.1l34 -3.1l33 -1.9z" fill="#75ff8a"/>
<path d="M361.3 251.4l4 -0.2l24 1.6l10 0.9l26 3.3l1.6 1.4l0.3 1l-1.4 9l-1.5 6.6l-1 1.9l-1 0.5l-1 0l-27 -3.3l-30 -2.2l-28 1l-30 1.9l-30 2.8l-27 2.9l-1 -0.1l-1 -0.7l-0.9 -2.3l-1.4 -7l-1 -7l-0.1 -1l0.4 -1l1 -0.9l1 -0.5l15.9 -1.6l4.1 -0.7l5 -0.3l4 -0.6l6.2 -0.4l4.8 -0.7l23 -1.9l33 -1.9z" fill="#81ff7e"/>
<path d="M364.3 251.3l10 0.5l5.6 0.6l18.4 1.3l27 3.4l1.5 1.3l0.3 1l-1.3 9l-1.5 6.2l-1 2l-1 0.5l-1 0l-27 -3.3l-30 -2.1l-28 1l-30 1.9l-30 2.7l-27 3l-1 -0.1l-0.9 -0.8l-0.8 -2l-1.6 -7l-1 -7l0 -1l0.4 -1l0.9 -0.8l2 -0.7l24.7 -2.5l3.3 -0.6l7.1 -0.4l3.9 -0.6l21 -1.8l12.5 -0.6l5.5 -0.6l20 -0.9z" fill="#8eff71"/>
<path d="M365.3 251.4l9 0.4l24 2l25 3l2 0.4l1.5 1.2l0.2 1l-1.3 9l-1.4 5.8l-1 2.1l-1 0.5l-1 0l-27 -3.2l-30 -2.2l-28 1l-30 1.9l-30 2.8l-27 2.9l-1 -0.1l-0.6 -0.5l-1 -2l-1.6 -7l-1 -7l0 -1l0.3 -1l0.9 -0.8l2 -0.6l28 -3.1l33 -2.9l12.3 -0.6l5.7 -0.5l21 -1z" fill="#9bff64"/>
<path d="M339.3 252.4l26 -1l32 2.3l27 3.3l1 0.4l1.4 1l0.3 1l-0.1 1l-1.3 8l-1.3 5.4l-1 2.2l-1 0.6l-29 -3.4l-28 -2.1l-29 1.1l-30 1.8l-31 2.9l-26 2.9l-1 -0.2l-1 -1l-1 -3l-1.3 -6.2l-0.9 -7l0.4 -1l0.8 -0.7l1 -0.3l30 -3.5l22 -2l29 -2z" fill="#a8ff57"/>
<path d="M341.3 252.3l24 -0.8l32 2.3l27 3.3l1 0.3l1.3 1l0.3 1l-0.1 1l-1.3 8l-1.2 5l-1 2.2l-1 0.7l-28 -3.3l-29 -2.2l-29 1.1l-30 1.8l-32 3l-25 2.8l-1 -0.1l-1 -1.1l-1.4 -4.9l-1.1 -6l-0.6 -5l0.4 -1l0.7 -0.6l2 -0.6l29 -3.2l23 -2.1l29 -2z" fill="#b4ff4b"/>
<path d="M342.3 252.4l23 -0.8l32 2.3l27 3.3l1 0.3l1.2 0.9l0.3 1l0 1l-1.2 7l-1.3 5.6l-1 2.3l-1 0.7l-28 -3.3l-30 -2.1l-28 1l-30 1.9l-26 2.4l-31 3.3l-1 -0.2l-1.2 -1.6l-1.1 -4l-1.3 -7l-0.4 -4l0.4 -1l0.6 -0.6l3 -0.7l28 -3l23 -2.2l29 -1.9z" fill="#c1ff3e"/>
<path d="M343.3 252.4l22 -0.8l31 2.2l28 3.5l1 0.3l1.1 0.8l0.4 1l-0.1 1l-1.1 7l-1.3 5.2l-1 2.4l-1 0.7l-28 -3.3l-29 -2.2l-29 1.1l-30 1.9l-30 2.7l-27 3l-1 -0.2l-1.1 -1.3l-1.2 -4l-1.2 -7l-0.5 -4l0.5 -1l1.5 -0.9l2 -0.3l29 -3.2l23 -2.1l29 -1.9z" fill="#ceff31"/>
<path d="M345.3 252.4l20 -0.7l31 2.2l28 3.5l1 0.2l1.1 0.8l0.3 1l0 1l-1.2 7l-1.2 4.8l-1 2.4l-1 0.7l-28 -3.2l-29 -2.2l-29 1.1l-30 1.8l-30 2.8l-27 2.9l-1 -0.1l-1 -1.2l-1.2 -3.8l-1.3 -7l-0.4 -4l0.4 -1l1.5 -0.8l3 -0.5l28 -3l23 -2.1l30 -2z" fill="#dbff24"/>
<path d="M346.3 252.4l19 -0.7l31 2.3l28 3.4l1 0.3l1 0.7l0.4 1l-0.1 1l-1.2 7l-1.1 4.4l-1 2.5l-1 0.7l-1 0l-27 -3.2l-29 -2.2l-29 1l-30 1.9l-30 2.8l-27 2.9l-1 -0.2l-1 -1.2l-1.3 -4.4l-1.3 -7l-0.2 -3l0.4 -1l1.4 -0.7l3 -0.5l29 -3.1l23 -2.1l30 -2z" fill="#e7ff18"/>
<path d="M348.3 252.4l18 -0.6l30 2.2l28 3.5l1 0.3l0.9 0.6l0.4 1l-0.1 1l-1 6l-1.2 5.1l-1 2.4l-1 0.7l-28 -3.2l-29 -2.2l-29 1.1l-30 1.8l-30 2.8l-27 2.9l-1 -0.1l-1 -1.3l-1.2 -4l-1.3 -7l-0.3 -3l0.5 -1l1.3 -0.7l4 -0.5l28 -3.1l23 -2.1l30 -2z" fill="#f4ff0b"/>
<path d="M349.3 252.4l17 -0.6l30 2.3l28 3.4l1 0.3l0.8 0.6l0.4 1l0 1l-1 6l-1.2 4.7l-1 2.4l-1 0.8l-1 0l-27 -3.3l-29 -2.1l-29 1l-30 1.9l-30 2.7l-27 3l-1 -0.2l-1 -1.3l-1.2 -3.6l-1.4 -8l-0.1 -2l0.7 -1.2l1 -0.4l5 -0.7l27 -2.9l24 -2.2l30 -2z" fill="#fffd00"/>
<path d="M350.3 252.4l16 -0.5l30 2.2l28 3.5l1.7 0.8l0.5 1l-0.1 1l-1 6l-1.1 4.4l-1 2.3l-1 0.8l-1 0l-27 -3.2l-29 -2.2l-29 1l-28 1.8l-31 2.7l-28 3.1l-1 -0.2l-1 -1.3l-1.1 -3.2l-1.4 -8l-0.2 -2l0.7 -1.1l1 -0.5l5 -0.6l28 -3l23 -2.2l31 -2z" fill="#fff000"/>
<path d="M352.3 252.4l14 -0.5l30 2.3l28 3.5l1.6 0.7l0.5 1l-0.1 1l-1 6l-1 4.1l-1 2.2l-1 0.8l-28 -3.2l-29 -2.2l-29 1l-30 1.9l-30 2.7l-27 3l-1 -0.2l-1 -1.3l-1 -2.8l-1.6 -9l0 -1l0.5 -1l1.1 -0.5l24 -2.8l35 -3.2l28 -1.8z" fill="#ffe400"/>
<path d="M353.3 252.4l13 -0.4l30 2.3l28 3.4l1.5 0.7l0.6 1l-0.1 1l-1 5.9l-1 3.9l-1 2l-1 0.8l-28 -3.2l-29 -2.2l-29 1l-30 1.9l-30 2.8l-27 2.9l-1 -0.2l-1 -1.2l-1 -2.8l-1.5 -8.6l-0.1 -1l0.6 -1l1 -0.5l24 -2.7l35 -3.3l29 -1.8z" fill="#ffd700"/>
<path d="M355.3 252.4l11 -0.3l30 2.2l28 3.5l1.5 0.6l0.5 1l-0.1 1l-0.9 5.5l-1 4l-1 1.9l-1 0.7l-28 -3.2l-29 -2.2l-29 1.1l-30 1.8l-30 2.8l-27 2.9l-1 -0.2l-1 -1.1l-0.7 -2l-1.8 -9l0 -1l0.5 -0.9l1 -0.5l25 -2.8l34 -3.2l29 -1.8z" fill="#ffca00"/>
<path d="M356.3 252.4l10 -0.3l30 2.3l28 3.4l1.4 0.6l0.5 1l0 1l-0.9 5.2l-1 4l-1 1.8l-1 0.7l-28 -3.3l-29 -2.2l-29 1.1l-30 1.8l-30.9 2.9l-26.1 2.9l-1 -0.2l-1 -1l-0.6 -1.7l-1.4 -6l-0.4 -3l0 -1l0.4 -0.8l1 -0.5l28 -3.2l31 -2.9l30 -1.8z" fill="#ffbd00"/>
<path d="M357.3 252.4l9 -0.2l30 2.2l28 3.5l1.3 0.5l0.6 1l-0.1 1l-0.8 4.9l-1 3.9l-1 1.9l-1 0.5l-28 -3.2l-29 -2.2l-29 1l-31 2l-29 2.7l-27 2.9l-1 -0.1l-1 -1l-1 -2.7l-1.3 -7.6l-0.1 -1l0.4 -0.7l1 -0.6l1 -0.2l33 -3.5l25 -2.3l30 -1.9z" fill="#ffb100"/>
<path d="M359.3 252.4l8 -0.1l28 2.1l8 0.9l21 2.6l1.2 0.5l0.6 1l-0.1 1l-0.7 4.5l-1 4l-1 1.8l-1 0.5l-28 -3.2l-29 -2.2l-29 1l-30 1.9l-30 2.7l-27 3l-1 -0.1l-1 -0.9l-1 -2.8l-1.3 -7.2l0 -1l0.3 -0.6l1 -0.6l1 -0.2l34 -3.7l23 -2.1l14 -0.9l17 -1z" fill="#ffa400"/>
<path d="M360.3 252.4l6 -0.1l28.3 2.1l28.7 3.4l2.1 0.6l0.6 1l-0.2 2l-1.5 7.1l-1 1.9l-1 0.4l-28 -3.3l-29 -2.2l-29 1.1l-31 1.9l-32 3l-24 2.7l-1 -0.1l-1 -0.8l-1 -2.8l-1.2 -6.9l-0.1 -1l0.3 -0.5l1 -0.7l1 -0.2l34 -3.6l23 -2.1l14 -0.9l17 -1.1z" fill="#ff9700"/>
<path d="M362.3 252.4l4 -0.1l29 2.2l29 3.6l1 0.3l0.7 1l-0.4 3l-1.3 5.8l-1 1.9l-1 0.4l-28 -3.3l-29 -2.2l-29 1l-31 2l-29 2.7l-27 2.9l-1 0l-1 -0.9l-1 -2.8l-1.2 -6.5l0.2 -1.4l1 -0.7l1 -0.2l34.4 -3.7l22.6 -2.1l14.3 -0.9l16.7 -1z" fill="#ff8a00"/>
<path d="M363.3 252.4l3.5 0l28.5 2.2l29 3.5l1 0.4l0.6 0.9l-0.5 4l-1.1 4.4l-1 1.9l-1 0.4l-28 -3.3l-29 -2.2l-29 1.1l-30 1.8l-30 2.8l-27 2.9l-1 0l-1 -0.8l-1 -2.8l-1.1 -6.2l0.1 -1.3l0.9 -0.7l1.1 -0.3l35 -3.7l22 -2l31 -2z" fill="#ff7e00"/>
<path d="M365.3 252.4l30 2.2l29 3.6l1 0.4l0.5 0.8l-0.4 4l-1.1 4.1l-1 1.9l-1 0.4l-28 -3.3l-29 -2.2l-29 1l-30 1.9l-31 2.8l-26 2.9l-1 -0.1l-1 -0.8l-1 -2.8l-1.1 -5.8l0.1 -1.2l1 -0.8l1 -0.2l25.2 -2.8l31.8 -3l31 -1.9z" fill="#ff7100"/>
<path d="M339.3 253.4l26 -1l28 2.1l31 3.7l1 0.5l0.5 0.7l-0.1 1l-0.4 3l-1 3.7l-1 1.9l-1 0.4l-28 -3.3l-29 -2.2l-29 1l-31 2l-31 2.9l-25 2.7l-1 0l-1 -0.9l-1 -2.7l-1 -5.5l0 -1.1l1 -0.8l1 -0.2l25.8 -2.9l32.2 -3z" fill="#ff6400"/>
<path d="M341.3 253.4l24 -0.9l28 2.1l31 3.7l1 0.5l0.4 0.6l0 1l-0.4 2.6l-1 3.8l-1 1.8l-1 0.4l-28 -3.3l-29 -2.2l-29 1l-31 2l-29 2.7l-27 2.9l-1 0l-1 -0.9l-1 -2.7l-0.9 -5.1l-0.1 -1l1 -0.8l1 -0.3l26.3 -2.9l31.7 -2.9z" fill="#ff5700"/>
<path d="M342.3 253.4l23 -0.8l29 2.1l30 3.6l1 0.6l0.3 0.5l0 1l-0.3 2.3l-1 3.7l-1 1.8l-1 0.4l-28 -3.3l-29 -2.2l-29 1l-30 1.9l-31 2.8l-26 2.9l-1 -0.1l-1 -0.8l-1 -2.6l-0.8 -4.8l-0.1 -1l0.9 -0.8l1 -0.2l26.9 -3l31.1 -2.9z" fill="#ff4b00"/>
<path d="M344.3 253.4l21 -0.8l30 2.3l29 3.5l1.3 1l-0.1 1l-1.2 5.6l-1 1.8l-1 0.3l-27 -3.2l-30 -2.3l-29 1.1l-31 1.9l-30 2.8l-26 2.8l-1 0l-1 -0.8l-1 -2.6l-0.8 -4.4l0 -1l0.8 -0.7l1.2 -0.3l27.3 -3l29.5 -2.7z" fill="#ff3e00"/>
<path d="M346.3 253.4l20 -0.7l29 2.2l28.7 3.5l1.3 0.7l0.2 1.3l-1.2 5.3l-1 1.6l-1 0.4l-27 -3.3l-30 -2.2l-29 1l-31 1.9l-30 2.8l-26 2.9l-1 0l-1 -0.8l-1 -2.6l-0.7 -4l0 -1l0.7 -0.6l1.7 -0.4l27.4 -3l28.9 -2.7l31 -1.9z" fill="#ff3100"/>
<path d="M347.3 253.4l19 -0.6l29 2.2l28.3 3.4l1.7 0.8l0.1 1.2l-1.1 4.9l-1 1.6l-1 0.3l-27 -3.2l-30 -2.3l-29 1.1l-31 1.9l-30 2.8l-26 2.8l-1 0l-1 -0.7l-1 -2.5l-0.6 -3.7l0 -1l0.6 -0.5l2.2 -0.5l27.6 -3l28.2 -2.6l31 -2z" fill="#ff2400"/>
<path d="M349.3 253.4l17 -0.5l29 2.2l28 3.3l2 0.9l0.1 1.1l-1.1 4.5l-1 1.6l-1 0.2l-27 -3.2l-30 -2.3l-29 1.1l-31 1.9l-30 2.8l-26 2.8l-1 0l-1 -0.6l-1 -2.5l-0.5 -3.3l0 -1l0.5 -0.4l2.7 -0.6l27.7 -3l27.6 -2.5l31 -2z" fill="#ff1800"/>
<path d="M351.3 253.4l15 -0.5l29 2.2l27.5 3.3l1.5 0.4l1 0.6l0 1l-1 4.1l-1 1.5l-1 0.3l-27 -3.3l-30 -2.2l-29 1l-31 1.9l-30 2.8l-26 2.9l-1 0l-1 -0.7l-1 -2.3l-0.4 -3l0 -1l0.4 -0.4l3.3 -0.6l27.8 -3l26.9 -2.5l31 -1.9z" fill="#ff0b00"/>
<path d="M352.3 253.4l14 -0.4l30 2.3l26 3.1l2 0.5l0.9 0.5l0 1l-0.9 3.7l-1 1.4l-1 0.3l-27 -3.3l-30 -2.2l-29 1l-30 1.9l-30 2.7l-28 3l-1 -0.6l-1 -2.4l-0.3 -2.5l0 -1l0.3 -0.3l3.9 -0.7l27.8 -3l26.3 -2.4l31 -2z" fill="#fd0000"/>
<path d="M354.3 253.4l12 -0.3l30 2.2l25.5 3.1l2.5 0.6l0.7 0.4l0 1l-0.7 3.3l-1 1.4l-1 0.2l-27 -3.3l-30 -2.2l-29 1l-31 1.9l-30 2.8l-27 2.9l-1 -0.6l-1 -2.3l-0.2 -2.1l0.2 -1.2l4.4 -0.8l49.6 -5l35 -2.3z" fill="#f00000"/>
<path d="M356.3 253.4l11 -0.2l29 2.2l19 2.5l6 0.5l3 0.7l0.6 0.3l0 1l-0.6 2.9l-1 1.3l-1 0.1l-27 -3.2l-30 -2.3l-30 1.1l-30 1.9l-30 2.8l-26 2.8l-1 0.1l-1 -0.5l-1.1 -3l0 -2l1.1 -0.4l32.1 -3.6l7.9 -0.5l16 -1.7l11.8 -0.8l11.2 -0.5l9 -0.8l13 -0.2z" fill="#e40000"/>
<path d="M357.3 253.4l10 -0.2l6 0.7l22.5 1.5l2.5 0.5l5.9 0.5l2.1 0.5l6.2 0.5l2.8 0.6l5.5 0.4l3.5 0.7l0.4 0.3l0 1l-0.4 2.5l-1 1.2l-1 0.1l-27 -3.2l-30 -2.3l-30 1.1l-30 1.9l-29.2 2.7l-27.8 3l-1 -0.5l-1 -2.6l0 -1.9l1 -0.3l4.5 -0.7l6.5 -0.5l2.7 -0.5l6.3 -0.5l2.8 -0.5l7.2 -0.5l2.7 -0.5l7.3 -0.4l3.5 -0.6l7.5 -0.5l5 -0.7l9 -0.3l3.8 -0.5l11.2 -0.5l8 -0.7l14 -0.3z" fill="#d70000"/>
<path d="M359.3 253.4l8 -0.1l5 0.7l9.7 0.4l3.3 0.5l9.9 0.5l3.1 0.6l5.4 0.4l2.6 0.6l5.7 0.4l2.3 0.6l6 0.4l4 0.8l0.3 0.2l0 1l-0.3 2l-1 1.2l-1 0.1l-27 -3.2l-29 -2.2l-18 0.5l-13 0.5l-30 1.9l-30 2.8l-27 2.9l-1 -0.4l-1 -3.1l0.2 -1l5.9 -1l6.9 -0.5l2.2 -0.5l6.8 -0.5l3 -0.6l7 -0.4l2.4 -0.5l18.6 -1.4l3 -0.6l11 -0.5l6 -0.6l9 -0.3l7 -0.7l16 -0.3z" fill="#ca0000"/>
<path d="M361.3 253.4l6 -0.1l4 0.7l9.9 0.4l4.1 0.7l9.1 0.3l2.9 0.6l5.9 0.4l2.1 0.6l6.1 0.4l2.9 0.7l5.4 0.3l1.6 0.5l3.1 0.5l0 2l-1.1 1.7l-1 0.1l-27 -3.2l-30 -2.2l-30 1l-30 1.9l-27 2.5l-30 3.2l-1 -0.5l-0.7 -2.5l0.2 -1l4.5 -0.5l1.7 -0.5l6.3 -0.3l2.8 -0.7l6.2 -0.3l3 -0.7l7 -0.4l3 -0.6l7 -0.3l3.8 -0.7l8.2 -0.4l3 -0.6l10 -0.3l6 -0.8l10 -0.2l6 -0.8l18 -0.3z" fill="#bd0000"/>
<path d="M362.3 253.4l4.8 0l3.2 0.7l10 0.3l3 0.7l10 0.3l3 0.7l6.2 0.3l1.8 0.6l6.4 0.4l2.6 0.7l5.7 0.3l1.3 0.5l3.8 0.5l0.2 1.4l-1 1.8l-1 0.1l-26 -3.2l-31 -2.3l-27 1l-32 1.9l-31 2.8l-27 2.9l-1 -0.4l-0.4 -2l0.2 -1l4.2 -0.3l2.5 -0.7l5.5 -0.2l2 -0.2l1.6 -0.6l6.4 -0.3l2.7 -0.7l7.3 -0.3l2.8 -0.7l8.2 -0.3l2.7 -0.7l8.3 -0.3l2.5 -0.7l11.5 -0.3l4 -0.7l12 -0.3l4 -0.7l20 -0.3z" fill="#b10000"/>
<path d="M345.3 254.4l12 -0.2l8 -0.5l4 0.5l10 0.5l3 0.5l6.7 0.2l6.3 0.8l4.5 0.2l4.5 0.8l3.8 0.2l4.2 0.8l4.1 0.2l3.9 0.8l3 0.2l0.6 1l-0.6 1.5l-1 0.1l-27 -3.3l-30 -2.2l-30 1.1l-30 1.9l-30 2.7l-26 2.9l-1 0l-1 -0.6l-0.2 -1.1l0.2 -0.5l0.8 -0.5l4.2 -0.2l4.4 -0.8l4.6 -0.2l4.5 -0.8l4.5 -0.2l4.7 -0.8l5.3 -0.2l5.5 -0.8l5.5 -0.2l5.3 -0.8l4.7 -0.1l7.3 -0.9l7.7 -0.2l8.4 -0.8l7.6 -0.2l4 -0.5z" fill="#a40000"/>
<path d="M360.3 254.4l8.1 0l0.9 0.8l12.2 0.2l0.8 0.8l12.4 0.2l0.6 0.8l8.1 0.2l0.9 0.8l7.3 0.2l0.7 0.8l7.6 0.2l0.4 0.8l2.6 0.2l-0.6 0.2l-2.7 -0.2l-23.3 -2.9l-31 -2.3l-35 1.4l-25 1.6l-13 1.2l-0.4 -1l10.4 -0.3l0.4 -0.7l1.6 -0.1l12 -0.1l1 -0.1l0.3 -0.7l14.7 -0.2l1 -0.1l0.4 -0.7l1.6 -0.1l23 -0.1l1 -0.1l0.6 -0.7zM281.3 259.4l10 -0.2l1 0.2l-30 3l-0.4 -1l8.4 -0.2l0.7 -0.8l1.3 -0.1l8 -0.1zM253.3 262.4l8 -0.2l1 0.2l-13 1.4l-1 -0.1l-0.2 -0.3l4.2 -0.2l0.5 -0.8z" fill="#970000"/>
<path d="M354.3 275.4l11 -0.3l5.1 0.3l23.9 1.9l29 3.6l3 -0.2l1.6 1.7l1 2l1.9 7l1.6 9l0.9 1.8l1.2 1.2l4.8 3l4.5 2l18.5 5.8l8.3 3.2l7.5 4l6.2 4.3l2 1l0 18.7l-291 0l0 -23.8l2 -0.5l9.3 -3.7l20 -6l4.6 -2l5 -3l1.1 -1.2l0.9 -1.8l1.5 -8l1.9 -7l1.4 -3l1.3 -1.5l4 0.1l26 -3l32 -3l30 -1.9z" fill="#00d0ff"/>
<path d="M356.3 275.4l9 -0.3l28 2.1l29 3.7l3 0.2l0.8 0.3l1.4 2l1.1 3l1.4 6l1 8l0.3 1.2l1.2 1.8l2.8 2.3l4 2.5l11.1 5.2l3.6 2l4 3l2 2l1.5 2l1.3 3l0 2l-3.8 9l-2.7 3l-7.7 5l-0.9 1l-231.1 0l-0.5 -1l-4.7 -5l-3.4 -8l-0.5 -2l0.6 -3l2.1 -3l3.2 -3l4.4 -3l14.5 -6.8l3.4 -2.2l2.6 -2.2l1.1 -1.8l1.4 -9l1.7 -7l1.5 -3l1.3 -1.2l29 -3.2l32 -3l30 -1.9z" fill="#00ccff"/>
<path d="M358.3 275.4l7 -0.2l28 2.1l25 3l6.8 1.1l1.7 2l1.2 3l1 5l1 9l0.5 2l0.8 1.3l2 2l11 7.7l3.1 3l1.4 2l1.3 3l0.1 2l-0.6 2l-1.4 2l-6.5 7l-2.9 2l-3.5 1.7l-5 1.8l-5 1.3l-18.8 3.2l-4 1l-158.5 0l-1.4 -1l-9.3 -4l-4 -2.5l-2 -1.7l-5 -5.8l-1.9 -3l-0.2 -2l0.4 -2l0.9 -2l2.4 -3l2.2 -2l11.2 -7.7l2 -1.9l0.9 -1.4l0.5 -2l1 -9l1.1 -5l1.3 -3l0.6 -1l1.4 -1l28.2 -3.3l32 -3l30 -1.9z" fill="#00c9ff"/>
<path d="M359.3 275.4l7 -0.1l27 2l25 3l6.2 1.1l1.2 1l0.6 1l1.5 4l1.1 6l0.4 7l0.4 2l1.6 2.5l8.3 7.5l2.5 3l1 2l0.6 2l0 2l-0.6 2l-0.8 1.2l-1.8 1.8l-6.5 5l-3.2 2l-6.5 2.6l-8 2l-7 1.1l-8 0.7l-11 0.5l-7 0.7l-17 0.4l-6 0.9l-22 2.6l-8.5 0.5l-39.5 -0.2l-24 -2l-10 -1.5l-10 -2.4l-4 -1.5l-3 -1.4l-3 -2l-7 -5.6l-1.3 -1.4l-1.1 -2l-0.3 -2l0.3 -2l0.8 -2l1.4 -2l2.8 -3l6.4 -5.5l2.2 -2.5l0.8 -2l0.4 -7l1.3 -7l1.5 -4l0.8 -1l1.5 -1l6.8 -1l20.7 -2.3l32 -3l30 -1.8z" fill="#00c1ff"/>
<path d="M339.3 276.4l26 -0.9l25.9 1.9l25.7 3l5.4 1l1.8 1l0.9 1l1 2l0.6 2l0.9 7l-0.1 8l0.6 2l2 4l0.6 2l0.4 3l-0.5 3l-1.2 2l-2 2l-2 1.3l-3 1.3l-4 1.3l-6 1.4l-11 2l-17 1.8l-18 0.3l-8 0.9l-18 1.2l-23 0.7l-21 0.2l-10 -0.1l-12 -1l-8 -1.1l-12 -2.5l-7 -2.2l-2.8 -1.5l-2.2 -1.6l-1.2 -1.4l-1.1 -2l-0.5 -3l0.4 -3l0.7 -2l2 -4l0.6 -2l0 -7l0.8 -7l0.8 -3l1.1 -2l1 -1l1.4 -0.8l7.5 -1.2l18.2 -2l31.9 -3z" fill="#00b4ff"/>
<path d="M349.3 276.4l16 -0.5l24 1.7l27 3.1l4.1 0.7l1.9 0.7l1.7 1.3l1.1 2l0.7 2l0.5 4l0.2 5l-0.6 6l0.5 6l-1.1 3.6l-1 1.7l-1.6 1.7l-2.4 1.7l-2 1l-6 1.9l-7 1.1l-20 1l-19 0l-30 1.9l-46 1.4l-21 -0.6l-7 -0.7l-5 -1l-5 -1.7l-3.5 -2l-2.5 -2.5l-1.7 -3.5l-0.5 -3l0.7 -5l-0.6 -7l0.5 -6l0.7 -3l0.8 -2l1.1 -1.3l2 -1.2l1.9 -0.5l6.1 -0.8l18 -2l32 -2.9z" fill="#00a8ff"/>
<path d="M362.3 276.4l6 0.1l26 2l22 2.7l3 0.5l2.3 0.7l1.7 1.3l1.1 1.7l0.7 2l0.6 4l-0.2 6l-1.4 9l-0.8 2l-1 1.4l-2 2.1l-4 2.5l-5 1.7l-8 1.3l-17 0.8l-21 -0.4l-39 2l-41 1.7l-16 -0.5l-6 -0.7l-5 -1.1l-4 -1.5l-3 -1.8l-3 -2.9l-1.5 -2.6l-1.8 -11l0.2 -6l0.8 -4l1 -2l1.3 -1.3l2 -1l4 -0.7l21 -2.3l32 -2.9l28.2 -1.8z" fill="#009bff"/>
<path d="M347.3 277.4l16 -0.6l5 0.2l26 2l22 2.6l4 0.8l2 1.1l1.5 1.9l0.7 2l0.5 3l0.1 4l-0.4 3l-2 7l-0.9 2l-1.5 1.8l-4 2.8l-6 2.1l-7 1.2l-17 0.6l-22 -0.4l-70 3.5l-17 0.2l-8 -0.4l-6 -0.7l-5 -1.2l-4 -1.7l-3 -1.9l-2.6 -2.9l-0.9 -2l-1.7 -6l-0.4 -3l-0.1 -3l0.3 -3l0.7 -3l1.7 -2.6l1 -0.7l2 -0.7l24 -2.8l31 -2.9l29 -1.8z" fill="#008eff"/>
<path d="M360.3 277.4l7 0l25 1.9l23 2.7l5 1l2 1.2l0.9 1.2l1 3l0.3 3l0 3l-1.1 5l-2.1 4.8l-1 1.3l-2 1.8l-2 1.2l-3 1.2l-4 1l-4 0.7l-6 0.4l-12 0.3l-23 -0.6l-71 3.6l-11 0.3l-9 -0.1l-7 -0.5l-6 -1l-5 -1.6l-3 -1.7l-2.3 -2.1l-1.7 -3l-1.7 -5l-0.4 -3l0.1 -3l0.3 -3l0.6 -2l1.1 -1.8l1 -0.8l3 -1.1l25 -2.9l30 -2.7l29 -1.8z" fill="#0081ff"/>
<path d="M345.3 278.4l17 -0.7l6 0.2l26 2l24 3l3 1.2l1 0.9l0.8 1.4l0.6 2l0.3 3l-0.4 5l-0.9 3l-1.4 2.7l-1 1.4l-2 1.9l-2 1.2l-3 1.2l-6 1.2l-7 0.4l-13 0.1l-24 -0.8l-81 4.2l-10 0l-6 -0.3l-6 -0.8l-4 -1.1l-4 -2.1l-2 -1.9l-2 -3.4l-1.2 -3.9l-0.4 -5l0.4 -3l0.7 -2l1.5 -2l3 -1.3l26 -2.9l26 -2.4l29 -1.9z" fill="#0075ff"/>
<path d="M356.3 278.4l10 -0.2l25 1.9l27.2 3.3l1.8 0.6l1 0.7l1 1.2l0.6 1.5l0.6 4l-0.5 5l-1.7 4.1l-1 1.5l-2 1.9l-2 1.2l-3 1.1l-6 1.1l-9 0.2l-35 -1.3l-27 1.2l-52 3.1l-12 0.4l-6 -0.1l-5 -0.5l-3 -0.6l-4 -1.4l-2.8 -1.9l-1.7 -2l-1.5 -2.9l-0.8 -3.1l-0.2 -5l1 -4l1 -1.4l1 -0.7l3 -0.9l24 -2.7l29 -2.7l29 -1.8z" fill="#0068ff"/>
<path d="M341.3 279.4l21 -0.8l5 0.1l26 2l24 2.9l3 1l1 0.8l0.7 1l0.7 2l0.3 2l-0.3 5l-1.6 4l-1.5 2l-1.3 1.2l-2 1.2l-2 0.8l-6 1.2l-9 0.1l-32 -1.7l-5 0l-29 1.2l-62 3.9l-6 0l-4 -0.3l-4 -0.9l-3 -1.1l-2 -1.2l-2 -2l-1.4 -2.4l-0.9 -3l-0.3 -4l0.7 -4l0.9 -1.6l1 -0.9l3 -1.1l24 -2.7l28 -2.6z" fill="#005bff"/>
<path d="M352.3 279.4l12 -0.4l6 0.3l24 1.9l24 3.1l2.3 1.1l1.3 2l0.7 4l-0.5 4l-0.7 2l-1.1 2l-1 1.2l-2 1.6l-4 1.6l-5 0.7l-8 0.1l-33 -2.2l-5 0l-25 0.9l-26 1.6l-27 2.2l-16 0.9l-8 -0.4l-3 -0.6l-3 -1l-2 -1.3l-2 -2.2l-1.1 -2.1l-0.9 -3l-0.1 -4l0.7 -3l1.5 -2l2.9 -1.1l25 -2.8l28 -2.6l29 -1.8z" fill="#004eff"/>
<path d="M337.3 280.4l29 -0.9l26 1.9l24 2.9l3 0.9l1.5 1.2l0.6 1l0.6 2l0 4l-1.2 4l-1.3 2l-1.2 1.1l-3 1.7l-5 1l-9 0.1l-33 -2.4l-6 -0.2l-24 0.9l-27 1.6l-37 3.2l-7 0.3l-8 -0.3l-3 -0.6l-2 -0.8l-2 -1.3l-1.2 -1.3l-1.3 -2l-1 -3l-0.1 -4l0.8 -3l0.8 -1.2l1 -0.8l2 -0.6l23 -2.7l29 -2.7z" fill="#0042ff"/>
<path d="M349.3 280.4l14 -0.5l5 0.2l25 1.9l23 2.8l3 1l1.5 1.6l0.8 3l-0.1 3l-1.2 3.7l-2 2.5l-3 1.7l-5 0.9l-8 -0.1l-33 -2.7l-7 -0.2l-24 0.9l-27 1.6l-38 3.4l-9 0.5l-4 -0.1l-3 -0.4l-2 -0.6l-2 -1l-1.3 -1.1l-1.5 -2l-0.9 -2l-0.4 -2l-0.1 -3l0.9 -3l1.3 -1.3l3 -1.1l23.5 -2.6l28.5 -2.6l29 -1.9z" fill="#0035ff"/>
<path d="M362.3 280.4l5 0.1l25.4 1.9l24.1 3l2.5 1l1 1.1l0.8 2.9l-0.1 3l-1 3l-1.7 2.2l-3 1.8l-4 0.8l-7 -0.1l-17.2 -1.7l-19.8 -1.5l-5 -0.1l-24 0.9l-27.9 1.7l-40.1 3.7l-8 0.5l-5 -0.4l-2 -0.6l-2 -1l-2.1 -2.2l-1 -2l-0.5 -2l-0.1 -3l0.5 -2l0.6 -1l1.6 -1.3l3 -0.7l23 -2.6l29 -2.6l29 -1.8z" fill="#0028ff"/>
<path d="M348.3 281.4l15 -0.5l5 0.1l25 2l22 2.6l2.8 0.8l1.4 1l0.8 1.5l0.3 1.5l-0.1 3l-1.2 3l-2 2.1l-3 1.4l-3 0.4l-6 -0.2l-15 -1.6l-14 -1.1l-14 -0.8l-24 0.9l-29 1.8l-48 4.3l-5 -0.5l-3 -1.4l-2 -2.3l-1.1 -3l-0.1 -3l0.2 -1l1 -1.8l1.8 -1.2l2.2 -0.5l22.3 -2.5l28.7 -2.6l29 -1.9z" fill="#001bff"/>
<path d="M337.3 282.4l29 -0.9l25.8 1.9l17.1 2l7.1 1l2 0.8l1 1l0.5 1.2l0.3 3l-0.9 3l-1.9 2.2l-3 1.5l-3 0.3l-5 -0.2l-17 -1.9l-22 -1.6l-5 -0.1l-24 0.9l-29 1.7l-49 4.5l-3 -0.2l-3.1 -1.1l-2.2 -2l-1.2 -3l-0.1 -3l0.8 -2l0.8 -0.9l1 -0.5l2.4 -0.6l20.6 -2.3l28.7 -2.7z" fill="#000fff"/>
<path d="M352.3 282.4l11 -0.4l6 0.3l24 1.8l20 2.4l3 0.6l2 1l1 1.7l0.2 2.6l-0.6 2l-1.6 2.3l-2 1.2l-3 0.6l-5 -0.1l-19 -2.1l-21 -1.6l-5 -0.1l-24 0.9l-29 1.8l-49 4.5l-3 -0.2l-3 -1l-2.1 -2.2l-1 -3l0.1 -2l1.1 -2l1.9 -1.1l3 -0.5l21.8 -2.4l28.2 -2.6l28 -1.7z" fill="#0002ff"/>
<path d="M343.3 283.4l22 -0.7l23.6 1.7l9.8 1l14.6 1.8l3 0.7l1.1 0.5l0.9 1l0.4 1l0.1 2l-0.7 2l-1.8 2l-2 0.9l-2 0.3l-5 -0.2l-19 -2.1l-21 -1.5l-5 -0.1l-25 0.9l-28 1.7l-49 4.6l-4 -0.4l-2 -0.9l-1.8 -2.2l-0.6 -2l0.2 -2l1.2 -1.7l2 -0.9l2.4 -0.4l18.1 -2l31.5 -2.9z" fill="#0000f4"/>
<path d="M337.3 284.4l28 -0.9l27 1.9l23 3l2 1.1l0.5 0.9l0.2 2l-0.7 1.8l-1.1 1.2l-1.9 1l-2 0.3l-4 -0.1l-21 -2.3l-20 -1.5l-5 -0.1l-25 0.9l-27 1.7l-50 4.7l-3 -0.2l-2 -0.7l-1.9 -1.7l-0.7 -2l0.3 -2l0.9 -1l1.4 -0.7l3 -0.6l19 -2.1l28 -2.6z" fill="#0000e7"/>
<path d="M361.3 284.4l6 0l25 1.9l19 2.3l4 0.9l1.2 0.9l0.4 1l0 1l-0.6 1.3l-1 1l-2 0.8l-2 0.1l-20 -2.1l-25 -1.9l-25 0.7l-33 2l-48 4.6l-2 -0.1l-2 -0.4l-1.5 -1l-0.7 -1l-0.3 -1l0.1 -1l0.5 -1l1.9 -1l16.4 -2l36.6 -3.4l26 -1.6z" fill="#0000db"/>
<path d="M339.3 286.4l26 -0.8l25.3 1.8l21.7 2.7l2 0.6l0.8 0.7l0.1 1l-0.8 1l-1.1 0.5l-3 0.3l-20 -2.2l-27 -1.8l-25 0.8l-30 1.9l-47 4.6l-3 -0.1l-1 -0.3l-1.3 -0.7l-0.5 -1l0.4 -1l1.9 -1l16.8 -2l32 -3z" fill="#0000ce"/>
<polygon points="103.1,257.8 104.7,253.7 112.6,250.8 123.8,250.2 133.4,253.1 143,255.9 152.6,257.8 157.4,257.2 159.9,252.1 170.1,253.1 181.3,250.5 190.9,254.6 200.5,257.2 210.1,259.4 214.9,258.5 217.1,266.8 221.3,270.6 230.8,269.6 238.2,269 240.4,270.9 235.6,273.5 226.1,273.8 222.2,275.4 226.1,277.6 233.1,277.9 245.2,280.1 254.8,282.4 262.8,288.1 266.6,292.9 264.4,299.3 259,301.8 256.4,305.6 250,300.2 235.6,298.3 226.1,298.3 216.5,297.4 211.7,300.9 207.8,305 198.9,305 194.7,304.7 190.9,299.3 182.9,300.9 178.8,303.1 179.7,308.8 173.3,316.8 168.5,324.8 163.8,321 160.6,316.8 157.4,311.1 147.8,305.6 138.2,305 125.4,306.6 114.2,305.6 104.7,304.1 96.7,307.2 91.9,311.1 82.3,308.2 74.3,303.1 70.2,297.7 71.8,292.3 80.7,290.7 91.9,294.5 101.5,296.1 114.2,297.7 123.8,298.3 131.8,295.4 138.2,294.5 136.6,289.7 130.2,284.9 124.5,278.6 125.4,270.6 127,265.8 119,262.6 112.6,260.4 104.7,260.1" fill="none" stroke="#04202e" stroke-opacity="0.3" stroke-width="2.6" stroke-linejoin="round"/>
<polygon points="103.1,257.8 104.7,253.7 112.6,250.8 123.8,250.2 133.4,253.1 143,255.9 152.6,257.8 157.4,257.2 159.9,252.1 170.1,253.1 181.3,250.5 190.9,254.6 200.5,257.2 210.1,259.4 214.9,258.5 217.1,266.8 221.3,270.6 230.8,269.6 238.2,269 240.4,270.9 235.6,273.5 226.1,273.8 222.2,275.4 226.1,277.6 233.1,277.9 245.2,280.1 254.8,282.4 262.8,288.1 266.6,292.9 264.4,299.3 259,301.8 256.4,305.6 250,300.2 235.6,298.3 226.1,298.3 216.5,297.4 211.7,300.9 207.8,305 198.9,305 194.7,304.7 190.9,299.3 182.9,300.9 178.8,303.1 179.7,308.8 173.3,316.8 168.5,324.8 163.8,321 160.6,316.8 157.4,311.1 147.8,305.6 138.2,305 125.4,306.6 114.2,305.6 104.7,304.1 96.7,307.2 91.9,311.1 82.3,308.2 74.3,303.1 70.2,297.7 71.8,292.3 80.7,290.7 91.9,294.5 101.5,296.1 114.2,297.7 123.8,298.3 131.8,295.4 138.2,294.5 136.6,289.7 130.2,284.9 124.5,278.6 125.4,270.6 127,265.8 119,262.6 112.6,260.4 104.7,260.1" fill="none" stroke="#04202e" stroke-opacity="0.55" stroke-width="1.1" stroke-linejoin="round"/>
<polygon points="107.9,282.4 115.8,281.7 123.8,288.1 122.2,290.4 114.2,287.2 108.5,284.3" fill="none" stroke="#04202e" stroke-opacity="0.3" stroke-width="2.6" stroke-linejoin="round"/>
<polygon points="107.9,282.4 115.8,281.7 123.8,288.1 122.2,290.4 114.2,287.2 108.5,284.3" fill="none" stroke="#04202e" stroke-opacity="0.55" stroke-width="1.1" stroke-linejoin="round"/>
<polygon points="119,246 129.6,247.6 128.6,248.9 119,247.6" fill="none" stroke="#04202e" stroke-opacity="0.3" stroke-width="2.6" stroke-linejoin="round"/>
<polygon points="119,246 129.6,247.6 128.6,248.9 119,247.6" fill="none" stroke="#04202e" stroke-opacity="0.55" stroke-width="1.1" stroke-linejoin="round"/>
<polygon points="300.5,300.6 303.7,296.7 315.5,296.4 328.3,296.4 337.9,297 347.4,298.6 353.2,299.9 353.2,305 349,309.5 342.6,313 333.1,314.3 321.9,313 310.7,313.6 302.7,313.6 302.7,307.2" fill="none" stroke="#04202e" stroke-opacity="0.3" stroke-width="2.6" stroke-linejoin="round"/>
<polygon points="300.5,300.6 303.7,296.7 315.5,296.4 328.3,296.4 337.9,297 347.4,298.6 353.2,299.9 353.2,305 349,309.5 342.6,313 333.1,314.3 321.9,313 310.7,313.6 302.7,313.6 302.7,307.2" fill="none" stroke="#04202e" stroke-opacity="0.55" stroke-width="1.1" stroke-linejoin="round"/>
<g filter="url(#tex2)">
<polygon points="103.1,257.8 104.7,253.7 112.6,250.8 123.8,250.2 133.4,253.1 143,255.9 152.6,257.8 157.4,257.2 159.9,252.1 170.1,253.1 181.3,250.5 190.9,254.6 200.5,257.2 210.1,259.4 214.9,258.5 217.1,266.8 221.3,270.6 230.8,269.6 238.2,269 240.4,270.9 235.6,273.5 226.1,273.8 222.2,275.4 226.1,277.6 233.1,277.9 245.2,280.1 254.8,282.4 262.8,288.1 266.6,292.9 264.4,299.3 259,301.8 256.4,305.6 250,300.2 235.6,298.3 226.1,298.3 216.5,297.4 211.7,300.9 207.8,305 198.9,305 194.7,304.7 190.9,299.3 182.9,300.9 178.8,303.1 179.7,308.8 173.3,316.8 168.5,324.8 163.8,321 160.6,316.8 157.4,311.1 147.8,305.6 138.2,305 125.4,306.6 114.2,305.6 104.7,304.1 96.7,307.2 91.9,311.1 82.3,308.2 74.3,303.1 70.2,297.7 71.8,292.3 80.7,290.7 91.9,294.5 101.5,296.1 114.2,297.7 123.8,298.3 131.8,295.4 138.2,294.5 136.6,289.7 130.2,284.9 124.5,278.6 125.4,270.6 127,265.8 119,262.6 112.6,260.4 104.7,260.1" fill="#4b5a3a"/>
<polygon points="107.9,282.4 115.8,281.7 123.8,288.1 122.2,290.4 114.2,287.2 108.5,284.3" fill="#4b5a3a"/>
<polygon points="119,246 129.6,247.6 128.6,248.9 119,247.6" fill="#4b5a3a"/>
<polygon points="300.5,300.6 303.7,296.7 315.5,296.4 328.3,296.4 337.9,297 347.4,298.6 353.2,299.9 353.2,305 349,309.5 342.6,313 333.1,314.3 321.9,313 310.7,313.6 302.7,313.6 302.7,307.2" fill="#4b5a3a"/>
</g>
<path d="M213.9 217.7 L217.2 219 L222.5 224.3 L233.1 228.3 L231.8 232.2 L227.2 234.9 L225.9 239.5 L215.9 239.5 L213.2 236.2 L215.9 229.6 L214.6 223ZM383.6 305.3 L385.3 310.6 L387.8 318" fill="none" stroke="#04202e" stroke-opacity="0.78" stroke-width="1.12" stroke-linejoin="round"/>
<path d="M210.6 218.3 L211.9 226.9 L208.6 232.9 L212.6 238.2 L215.9 240.9 L226.5 240.9 L228.5 236.2 L233.8 232.9 L235.1 227.6 L223.9 223 L217.9 217.7ZM221.2 240.9 L224.5 241.5 L222.5 246.2 L217.9 248.2 L215.9 246.8 L219.2 243.5ZM249.7 240.2 L251.5 243.5 L253.3 249.2 L250.7 251.1 L246.4 251.4 L245.4 249.8 L248 243.5ZM238.5 217.7 L245.1 221.6 L249.1 225.6 L254.4 228.3 L258.4 236.2 L262.3 243.5 L266.3 250.2 L269 253.5M265 250.6 L267.6 251.1 L269.2 253.7 L267 254.3ZM198.7 250.8 L205.3 251.5 L211.9 254.8 L215.9 257.5 L222.5 261.4 L230.5 260.8M198.7 253.5 L204 254.8 L209.3 257.5 L214.6 258.8 L218.6 262.8M227.8 217.7 L235.8 220.3 L241.1 224.3 L246.4 226.9M265.4 253.7 L276 253.5 L289.3 254.1 L302.5 252.1 L315.8 250.8 L319.8 249.8 L329.1 249.8 L338.4 248.8 L342.3 246.8 L350.3 246.2 L356 243.5M282 222.7 L283.7 221.9 L285 223.2 L283.4 224.6ZM309.8 219 L311.6 218.3 L312.5 220 L310.8 221ZM283.3 238.9 L285.3 238.2 L286.3 239.7 L284.2 240.7ZM297.2 240.2 L298.8 239.4 L300.1 241 L298.3 242.1ZM356 245.4 L365.5 244.4 L375 247.3 L384.5 250.1 L394 251.1 L405.3 253 L412.9 253.9M394 232.1 L399.6 230.6 L405.7 233 L405 236.3 L400.6 234.9 L395.8 235.5ZM402.1 223.5 L404.6 222.6 L405.3 224.9 L403.1 225.6ZM460 234.9 L463.2 234 L463.8 238.7 L460.4 239.3ZM469.9 226.8 L473.3 224.9 L474.6 226.8 L471 229.2ZM472.3 234.9 L475.2 234 L475.5 236.3 L472.9 237.4ZM429.1 254.8 L435.7 257.1 L442.3 259.6M196 307.4 L204.5 306.4 L213 302.1 L227.8 301.1 L238.4 304.3 L241.6 310.6 L251.2 307.4 L259.7 305.3 L268.1 299 L272.4 292.6M196 314.9 L204.5 317 L210.9 312.7 L219.3 310.6 L227.8 313.8 L238.4 317 L249.1 320.2 L257.5 321.2 L266 319.7 L276 320.6M198.1 324.4 L208.7 322.3 L221.5 323.4 L230 326.5 L238.4 325.5 L249.1 322.3 L259.7 323.4 L270.3 325.5M217.2 332.9 L225.7 329.7 L234.2 328.7 L242.7 331.8 L257.5 332.9 L268.1 334.6 L276 334M217.2 332.9 L221.5 336.1 L234.2 338.2 L249.1 337.1 L263.9 338.2 L276 339.3M196 310.6 L202.4 312.7 L208.7 308.5 L217.2 306.4 L225.7 307.4 L234.2 310.6 L244.8 314.9 L255.4 314.9 L263.9 310.6 L270.3 303.2M276 320.6 L288.7 322.3 L301.5 321.2 L314.2 323.4 L329.1 322.3 L343.9 324.4 L356 322.3M276 334 L290.9 332.5 L307.8 333.3 L324.8 332.5 L339.7 335 L356 336.1M276 326.5 L288.7 328.7 L303.6 327.6 L318.4 329.7 L335.4 328.7 L348.1 330.8 L356 328.7M297.2 292.6 L303.6 291.5 L352.4 296.8 L356 301.1 L354.5 308.5 L346 312.7 L329.1 317 L312.1 317.6 L300.4 314.9 L297.2 305.3ZM276 287.3 L288.7 286.2 L307.8 288.3 L329.1 287.3 L346 288.3 L356 286.2M276 291.5 L286.6 293.6 L293 299 L290.9 307.4 L295.1 315.9 L288.7 320.6M280.2 286.2 L286.6 290.5 L285.5 299 L288.7 305.3M356 290.5 L351.3 292.6 L348.1 290M356 286.2 L368.7 285.1 L383.6 288.3 L398.4 287.3 L411.1 290.5 L419.6 288.3 L428.1 291.5M356 290.5 L366.6 291.5 L379.3 293.6 L392.1 292.6 L404.8 294.7M356 309.5 L366.6 307.4 L379.3 305.3 L383.6 308.5 L387.8 314.8 L381.5 321.2 L368.7 323.3 L356 321.8M356 328.6 L368.7 328.2 L379.3 326.5 L389.9 322.3 L400.5 319.1 L404.8 326.5 L401.6 337.1 L403.7 345M396.3 305.3 L404.8 303.2 L409 308.5 L404.8 312.7 L397.4 310.6ZM406.9 300 L414.3 296.8 L416.4 302.1 L410.1 304.2ZM419.6 290.5 L430.2 292.6 L438.7 288.3 L449.3 292.6 L455.7 298.9 L466.3 301.1 L474.8 307.4 L486 309.5M426 296.8 L432.4 305.3 L440.8 313.8 L449.3 320.1 L457.8 328.6 L466.3 335 L474.8 345M417.5 307.4 L423.9 315.9 L430.2 320.1 L426 326.5 L432.4 335 L440.8 339.2 L447.2 345M438.7 292.6 L447.2 300 L455.7 307.4 L462 315.9 L470.5 320.1 L479 328.6 L486 332.9M445.1 290.5 L457.8 291.5 L466.3 290.5 L470.5 298.9 L481.1 303.2 L486 302.1M404.8 315.9 L415.4 318 L419.6 324.4 L411.1 328.6 L406.9 335 L413.3 341.4M449.3 311.7 L455.7 318 L453.6 326.5 L459.9 330.7M428.1 287.3 L436.6 286.2 L445.1 289.4 L455.7 290.5 L466.3 291.5 L470.5 296.8 L479 300 L486 298.9M432.4 294.7 L440.8 296.8 L447.2 305.3 L455.7 310.6 L459.9 318 L468.4 322.3 L474.8 328.6 L483.3 332.9M430.2 301.1 L436.6 310.6 L443 318 L440.8 324.4 L447.2 330.7 L455.7 335 L462 341.4M431.3 300 L434.9 298.9 L438.3 303.2 L439.8 310.6 L445.1 315.9 L440.8 318 L436.6 312.7 L432.4 306.4ZM433.4 324.4 L439.8 323.3 L447.2 328.6 L452.5 336 L450.4 340.3 L444 338.2 L438.7 331.8ZM469.5 319.1 L474.8 318 L478 324.4 L476.9 328.6 L471.6 326.5ZM468.4 336 L475.8 335 L481.1 339.2 L480.1 343.9 L472.6 343.5ZM409 292.6 L417.5 291.5 L423.9 294.7 L421.7 300 L413.3 298.9ZM400.5 302.1 L409 300 L414.3 304.2 L419.6 310.6 L415.4 315.9 L406.9 314.8 L401.6 309.5ZM447.2 292.6 L453.6 296.8 L462 298.9 L466.3 305.3 L474.8 309.5 L481.1 315.9 L486 318M368.7 296.8 L377.2 294.7 L387.8 294.3 L398.4 295.8 L401.6 298.9 L394.2 302.1 L381.5 303.2 L370.8 302.1ZM356 304.2 L364.5 303.2 L368.7 307.4 L364.5 310.6 L356 310M373 318 L379.3 315.9 L387.8 317 L389.9 321.2 L383.6 324.4 L375.1 323.3ZM413.3 318 L419.6 320.1 L426 328.6 L421.7 335 L426 345M474.8 273.5 L481.1 275.6 L486 274.5M449.3 269.2 L455.7 272.4 L462 271.4 L468.4 275.6" fill="none" stroke="#04202e" stroke-opacity="0.78" stroke-width="0.45" stroke-linejoin="round"/>
<path d="M238.5 230.9 L243.1 233.6 L241.1 236.9 L237.1 239.5 L234.5 246.8 L231.8 246.2 L235.1 238.9 L237.1 233.6ZM251.1 236.9 L253 241.5 L255.7 250.2 L251.7 252.8 L245.1 253.5 L243.1 250.8 L247.1 241.5Z" fill="none" stroke="#04202e" stroke-opacity="0.78" stroke-width="0.9" stroke-linejoin="round"/>
<ellipse cx="381" cy="300" rx="2.5" ry="1.2" transform="rotate(-10 381 300)" fill="#39434a" fill-opacity="0.75"/>
<ellipse cx="388.5" cy="298.5" rx="3.5" ry="1.5" transform="rotate(-15 388.5 298.5)" fill="#39434a" fill-opacity="0.75"/>
<ellipse cx="395" cy="297" rx="2.5" ry="1.2" transform="rotate(-20 395 297)" fill="#39434a" fill-opacity="0.75"/>
<ellipse cx="373" cy="301.5" rx="2" ry="1" transform="rotate(0 373 301.5)" fill="#39434a" fill-opacity="0.75"/>
<ellipse cx="361" cy="308" rx="4" ry="1.5" transform="rotate(-5 361 308)" fill="#39434a" fill-opacity="0.75"/>
<ellipse cx="380.5" cy="320.5" rx="5" ry="1.8" transform="rotate(-8 380.5 320.5)" fill="#39434a" fill-opacity="0.75"/>
<ellipse cx="434.5" cy="304" rx="2.5" ry="1.6" transform="rotate(-30 434.5 304)" fill="#39434a" fill-opacity="0.75"/>
<ellipse cx="435.5" cy="309.5" rx="1.8" ry="1.8" transform="rotate(0 435.5 309.5)" fill="#39434a" fill-opacity="0.75"/>
<ellipse cx="442" cy="315" rx="2" ry="1.5" transform="rotate(0 442 315)" fill="#39434a" fill-opacity="0.75"/>
<ellipse cx="436.6" cy="327.6" rx="1.5" ry="1.8" transform="rotate(0 436.6 327.6)" fill="#39434a" fill-opacity="0.75"/>
<ellipse cx="443" cy="333" rx="3" ry="2" transform="rotate(35 443 333)" fill="#39434a" fill-opacity="0.75"/>
<ellipse cx="449" cy="338" rx="2" ry="2.2" transform="rotate(30 449 338)" fill="#39434a" fill-opacity="0.75"/>
<ellipse cx="473.7" cy="323.3" rx="1.8" ry="2.5" transform="rotate(10 473.7 323.3)" fill="#39434a" fill-opacity="0.75"/>
<ellipse cx="474.8" cy="340.3" rx="3.5" ry="2.5" transform="rotate(20 474.8 340.3)" fill="#39434a" fill-opacity="0.75"/>
<ellipse cx="429" cy="322.5" rx="1.2" ry="1.2" transform="rotate(0 429 322.5)" fill="#39434a" fill-opacity="0.75"/>
<g font-family="'Liberation Sans', sans-serif" fill="#0a1c28" fill-opacity="0.9" text-anchor="middle">
<text font-size="5.5" transform="translate(324.6 249.8) rotate(-5)" y="1.9">-7500</text>
<text font-size="5.5" transform="translate(268.5 264.5) rotate(-8)" y="1.9">-7500</text>
<text font-size="5.5" transform="translate(278 277.5) rotate(-12)" y="1.9">-5000</text>
<text font-size="5.5" transform="translate(288 288.5) rotate(55)" y="1.9">-2500</text>
<text font-size="5.5" transform="translate(297.5 299.5) rotate(60)" y="1.9">-1000</text>
<text font-size="5.5" transform="translate(241 309.5) rotate(-25)" y="1.9">-1000</text>
<text font-size="5.5" transform="translate(263.5 320) rotate(0)" y="1.9">-2500</text>
<text font-size="5.5" transform="translate(265 335) rotate(0)" y="1.9">-5000</text>
<text font-size="5.5" transform="translate(375.5 272.3) rotate(-32)" y="1.9">-5000</text>
<text font-size="5.5" transform="translate(359.7 285.3) rotate(-12)" y="1.9">-2500</text>
<text font-size="5.5" transform="translate(359.5 291.8) rotate(-10)" y="1.9">-1000</text>
<text font-size="5.5" transform="translate(364 328.5) rotate(0)" y="1.9">-2500</text>
<text font-size="5.5" transform="translate(340 265) rotate(10)" y="1.9">-5000</text>
</g>
<path d="M244.6 261.9 L274.7 258.6 L304.9 255.8 L335.5 253.9 L365.6 252.8 L395.9 255.1 L426.5 258.8M246 275.2 L276.2 271.9 L305.6 269.4 L336 267.6 L365 266.8 L394.9 268.8 L424.6 272.2M247.4 288.6 L277.7 285.1 L306.4 283 L336.5 281.2 L364.3 280.7 L394 282.5 L422.8 285.7M244.6 261.9L247.4 288.6M274.7 258.6L277.7 285.1M304.9 255.8L306.4 283M335.5 253.9L336.5 281.2M365.6 252.8L364.3 280.7M395.9 255.1L394 282.5M426.5 258.8L422.8 285.7" fill="none" stroke="#fff" stroke-width="0.8" stroke-opacity="0.92"/>
<g font-family="'Liberation Serif', serif" font-size="8.8" fill="#f5ee30" stroke="#f5ee30" stroke-width="0.15"><text x="202.4" y="290.2">Hispaniola</text><text x="305.3" y="307.5">Puerto Rico</text></g>
</g>
<rect x="197.3" y="216.4" width="287.5" height="127.5" fill="none" stroke="#3c3c3c" stroke-width="0.9"/>
<path d="M200.5 343.9v1.8M200.5 216.4v-1.8M206.9 343.9v1.8M206.9 216.4v-1.8M213.3 343.9v3.2M213.3 216.4v-3.2M219.7 343.9v1.8M219.7 216.4v-1.8M226.1 343.9v1.8M226.1 216.4v-1.8M232.4 343.9v1.8M232.4 216.4v-1.8M238.8 343.9v1.8M238.8 216.4v-1.8M245.2 343.9v3.2M245.2 216.4v-3.2M251.6 343.9v1.8M251.6 216.4v-1.8M258 343.9v1.8M258 216.4v-1.8M264.4 343.9v1.8M264.4 216.4v-1.8M270.8 343.9v1.8M270.8 216.4v-1.8M277.2 343.9v3.2M277.2 216.4v-3.2M283.6 343.9v1.8M283.6 216.4v-1.8M289.9 343.9v1.8M289.9 216.4v-1.8M296.3 343.9v1.8M296.3 216.4v-1.8M302.7 343.9v1.8M302.7 216.4v-1.8M309.1 343.9v3.2M309.1 216.4v-3.2M315.5 343.9v1.8M315.5 216.4v-1.8M321.9 343.9v1.8M321.9 216.4v-1.8M328.3 343.9v1.8M328.3 216.4v-1.8M334.7 343.9v1.8M334.7 216.4v-1.8M341.1 343.9v3.2M341.1 216.4v-3.2M347.4 343.9v1.8M347.4 216.4v-1.8M353.8 343.9v1.8M353.8 216.4v-1.8M360.2 343.9v1.8M360.2 216.4v-1.8M366.6 343.9v1.8M366.6 216.4v-1.8M373 343.9v3.2M373 216.4v-3.2M379.4 343.9v1.8M379.4 216.4v-1.8M385.8 343.9v1.8M385.8 216.4v-1.8M392.2 343.9v1.8M392.2 216.4v-1.8M398.6 343.9v1.8M398.6 216.4v-1.8M404.9 343.9v3.2M404.9 216.4v-3.2M411.3 343.9v1.8M411.3 216.4v-1.8M417.7 343.9v1.8M417.7 216.4v-1.8M424.1 343.9v1.8M424.1 216.4v-1.8M430.5 343.9v1.8M430.5 216.4v-1.8M436.9 343.9v3.2M436.9 216.4v-3.2M443.3 343.9v1.8M443.3 216.4v-1.8M449.7 343.9v1.8M449.7 216.4v-1.8M456.1 343.9v1.8M456.1 216.4v-1.8M462.4 343.9v1.8M462.4 216.4v-1.8M468.8 343.9v3.2M468.8 216.4v-3.2M475.2 343.9v1.8M475.2 216.4v-1.8M481.6 343.9v1.8M481.6 216.4v-1.8M197.3 343.9h-3.2M484.8 343.9h3.2M197.3 337.5h-1.8M484.8 337.5h1.8M197.3 331.2h-1.8M484.8 331.2h1.8M197.3 324.8h-1.8M484.8 324.8h1.8M197.3 318.4h-1.8M484.8 318.4h1.8M197.3 312h-3.2M484.8 312h3.2M197.3 305.7h-1.8M484.8 305.7h1.8M197.3 299.3h-1.8M484.8 299.3h1.8M197.3 292.9h-1.8M484.8 292.9h1.8M197.3 286.5h-1.8M484.8 286.5h1.8M197.3 280.2h-3.2M484.8 280.2h3.2M197.3 273.8h-1.8M484.8 273.8h1.8M197.3 267.4h-1.8M484.8 267.4h1.8M197.3 261h-1.8M484.8 261h1.8M197.3 254.7h-1.8M484.8 254.7h1.8M197.3 248.3h-3.2M484.8 248.3h3.2M197.3 241.9h-1.8M484.8 241.9h1.8M197.3 235.5h-1.8M484.8 235.5h1.8M197.3 229.2h-1.8M484.8 229.2h1.8M197.3 222.8h-1.8M484.8 222.8h1.8M197.3 216.4h-3.2M484.8 216.4h3.2" stroke="#3c3c3c" stroke-width="0.8" fill="none"/>
<g font-family="'Liberation Serif', serif" font-size="10.5" fill="#1a1a1a">
<text x="213.3" y="360.3" text-anchor="middle">-70</text>
<text x="245.2" y="360.3" text-anchor="middle">-69</text>
<text x="277.2" y="360.3" text-anchor="middle">-68</text>
<text x="309.1" y="360.3" text-anchor="middle">-67</text>
<text x="341.1" y="360.3" text-anchor="middle">-66</text>
<text x="373" y="360.3" text-anchor="middle">-65</text>
<text x="404.9" y="360.3" text-anchor="middle">-64</text>
<text x="436.9" y="360.3" text-anchor="middle">-63</text>
<text x="468.8" y="360.3" text-anchor="middle">-62</text>
<text x="190.7" y="346.6" text-anchor="end">17</text>
<text x="190.7" y="314.9" text-anchor="end">18</text>
<text x="190.7" y="283.3" text-anchor="end">19</text>
<text x="190.7" y="251.7" text-anchor="end">20</text>
<text x="190.7" y="220" text-anchor="end">21</text>
</g>
<g font-family="'Liberation Serif', serif" fill="#1a1a1a">
<text x="341.4" y="374.7" text-anchor="middle" font-size="12.1">Lon. E. (deg.)</text>
<text transform="translate(176.2 280.9) rotate(-90)" text-anchor="middle" font-size="12.2">Lat. N. (deg.)</text>
<text x="337.2" y="204.7" text-anchor="middle" font-size="14.7" fill="#000">(c)</text>
</g>
<rect x="491.2" y="216.4" width="5.4" height="127.5" fill="url(#jet)"/>
<g font-family="'Liberation Serif', serif" font-size="9.7" fill="#1a1a1a">
<text x="500.2" y="219.7">6</text>
<text x="500.2" y="248.3">4</text>
<text x="500.2" y="276.8">2</text>
<text x="500.2" y="305.4">0</text>
<text x="500.2" y="333.9">-2</text>
</g>
</svg>
</body></html>
